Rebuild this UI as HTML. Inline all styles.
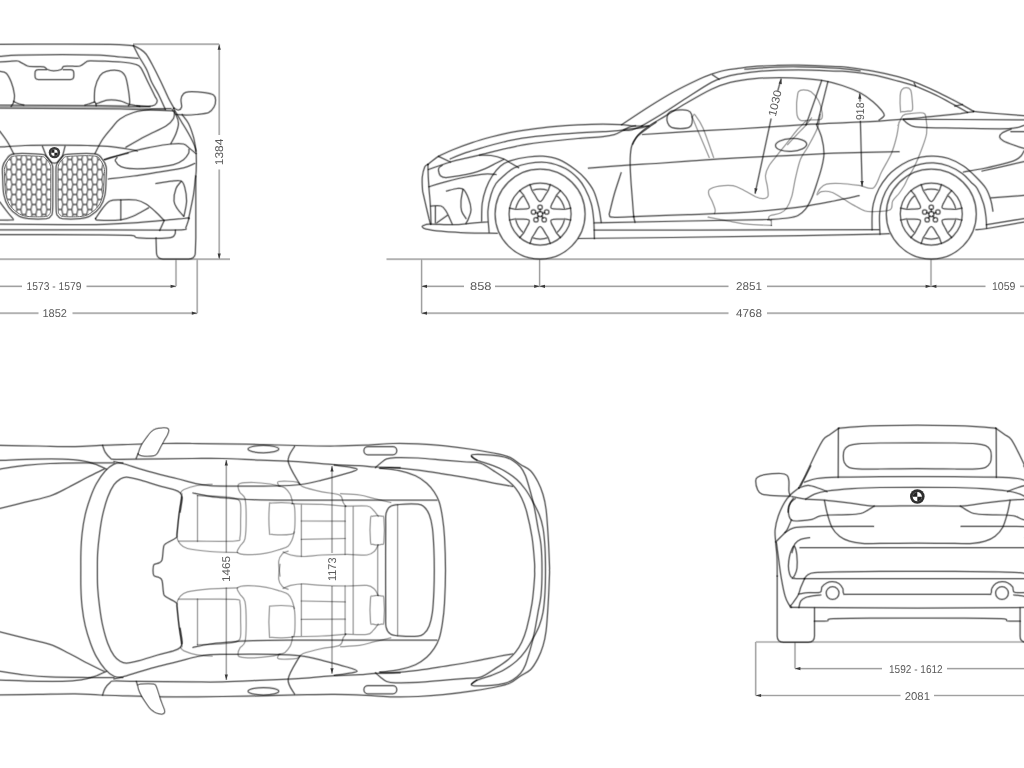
<!DOCTYPE html>
<html><head><meta charset="utf-8"><title>Dimensions</title>
<style>
html,body{margin:0;padding:0;background:#fff;}
body{width:1024px;height:768px;overflow:hidden;}
svg{display:block;will-change:transform;}
.m,.l,.d,.mh,.lh,.dh{fill:none;stroke-linecap:round;stroke-linejoin:round;}
.m{stroke:rgba(0,0,0,.46);stroke-width:1.25;}
.mh{stroke:rgba(0,0,0,.16);stroke-width:2.6;}
.l{stroke:rgba(0,0,0,.27);stroke-width:1.2;}
.lh{stroke:rgba(0,0,0,.09);stroke-width:2.4;}
.d{stroke:rgba(0,0,0,.3);stroke-width:1.2;stroke-linecap:butt;}
.dh{stroke:rgba(0,0,0,.1);stroke-width:2.4;stroke-linecap:butt;}
.a{fill:#3a3a3a;stroke:none;}
text{text-rendering:geometricPrecision;font-family:"Liberation Sans",sans-serif;font-size:11.3px;fill:#5a5a5a;}
</style></head><body>
<svg width="1024" height="768" viewBox="0 0 1024 768">
<g id="soft">
<g><path d="M133 44.2H219.2M219.2 44.2V135M219.2 169.5V259M0 259.2H230M176 259.2V286.3M197.2 259.2V313.2M0 286.3H22M86.5 286.3H176M0 313.2H38.5M72.5 313.2H197.2M386.5 259.2H1024M421.6 259.2V313.2M539.6 259.2V286.3M931 259.2V286.3M421.6 286.3H464M495 286.3H728.5M767 286.3H985.5M1020 286.3H1024M421.6 313.2H728.5M767 313.2H1024M755.7 642H1024M755.7 642V695.5M795 642V668.6M795 668.6H882M947 668.6H1024M755.7 695.5H900.5M934 695.5H1024M226.3 460V552.5M226.3 587.5V680M332 466V553M332 586V673.7" class="dh"/></g>
<g><path d="M0 106.7L120 107.2L165 109.5" class="lh"/><path d="M0.0 44.3C10.0 44.3 41.7 44.2 60.0 44.2C78.3 44.2 97.8 44.2 110.0 44.4C122.2 44.6 129.6 45.4 133.5 45.6" class="mh"/><path d="M133.5 45.7C134.6 46.2 137.9 47.6 140.0 49.0C142.1 50.4 144.0 51.4 146.0 54.0C148.0 56.6 149.7 59.8 152.2 64.5C154.7 69.2 158.3 76.4 161.0 82.0C163.7 87.6 166.3 93.8 168.5 98.2C170.7 102.6 173.1 106.5 174.0 108.2" class="mh"/><path d="M133.8 46.5C134.6 48.0 136.4 51.9 138.5 55.7C140.6 59.5 144.4 65.1 146.6 69.5C148.8 73.9 149.6 77.8 151.6 82.0C153.6 86.2 156.2 89.9 158.5 94.5C160.8 99.1 164.2 107.0 165.4 109.5" class="mh"/><path d="M0.0 56.4C3.1 56.2 8.3 55.4 18.7 55.1C29.1 54.8 49.0 54.5 62.5 54.5C76.0 54.5 90.2 54.7 100.0 55.1C109.8 55.5 114.7 56.5 121.0 57.0C127.3 57.5 135.2 58.1 138.0 58.3" class="mh"/><path d="M0.0 62.0C1.7 61.9 7.1 61.5 10.0 61.3C12.9 61.1 15.6 60.8 17.5 61.0C19.4 61.2 19.5 61.8 21.2 62.6C22.9 63.4 25.2 65.3 27.5 66.0C29.8 66.7 32.3 66.5 35.0 66.6C37.7 66.7 41.6 66.3 43.7 66.8C45.8 67.3 45.8 68.8 47.5 69.5C49.2 70.2 51.4 70.8 53.7 70.8C56.0 70.8 59.5 70.2 61.2 69.5C62.9 68.8 61.9 67.0 63.7 66.4C65.5 65.9 69.3 66.3 72.0 66.2C74.7 66.1 77.6 66.7 80.0 66.0C82.4 65.3 84.5 62.9 86.2 62.0C87.9 61.1 86.9 60.9 90.0 60.8C93.1 60.7 99.8 61.0 105.0 61.2C110.2 61.4 115.8 61.5 121.0 62.0C126.2 62.5 132.7 63.5 136.0 64.5C139.3 65.5 139.0 65.3 141.0 68.2C143.0 71.1 145.6 77.4 147.9 82.0C150.2 86.6 153.1 92.6 154.7 95.7C156.2 98.8 157.2 99.2 157.2 100.7C157.2 102.2 156.1 104.1 154.7 105.0C153.2 105.9 151.4 106.2 148.5 106.3C145.6 106.4 138.9 105.9 137.0 105.8" class="mh"/><path d="M38.5 69.7H46M63.5 69.7H70.3Q73.8 69.7 73.8 73.2V76Q73.8 79.5 70.3 79.5H38.5Q35 79.5 35 76V73.2Q35 69.7 38.5 69.7" class="mh"/><path d="M0.0 71.4C1.0 71.7 4.3 71.4 6.2 73.2C8.1 75.0 9.8 78.5 11.2 82.0C12.6 85.5 14.0 91.2 14.4 94.5C14.8 97.8 14.2 100.0 13.7 102.0C13.2 104.0 11.6 105.7 11.2 106.4" class="mh"/><path d="M13.7 101.4C14.4 101.8 16.3 102.9 18.0 103.5C19.7 104.1 22.8 104.8 23.7 105.1" class="mh"/><path d="M94.4 102.0C94.5 99.7 94.1 92.6 95.0 88.2C95.9 83.8 98.1 78.5 100.0 75.7C101.9 72.9 103.1 72.2 106.2 71.4C109.3 70.6 115.6 70.0 118.7 70.7C121.8 71.4 123.5 73.1 125.0 75.7C126.5 78.3 127.0 82.1 127.8 86.5C128.6 90.9 129.6 98.8 129.7 102.0C129.8 105.2 128.7 105.1 128.5 105.7" class="mh"/><path d="M85.0 105.1C85.8 104.8 88.3 104.1 90.0 103.6C91.7 103.1 94.0 101.8 95.0 102.2C96.0 102.6 96.0 105.1 96.2 105.7" class="mh"/><path d="M96.2 103.9C98.1 103.3 103.5 100.6 107.5 100.1C111.5 99.6 116.5 100.1 120.0 100.8C123.5 101.5 125.2 103.1 128.5 104.0C131.8 104.9 137.8 106.0 139.7 106.4" class="mh"/><path d="M0 105.2L100 105.6L150 106.6" class="mh"/><path d="M0 108.2L120 108.9L173 110.8" class="mh"/><path d="M174.0 108.2C174.8 108.5 177.2 110.2 178.5 110.0C179.8 109.8 181.2 108.8 181.6 107.0C182.0 105.2 180.7 101.7 181.0 99.5C181.3 97.3 182.2 95.1 183.5 93.8C184.8 92.5 185.0 92.0 188.5 91.8C192.0 91.6 200.5 92.1 204.7 92.6C208.9 93.1 211.7 93.8 213.5 95.0C215.3 96.2 215.5 98.0 215.6 100.0C215.7 102.0 215.2 104.9 214.0 107.0C212.8 109.1 211.5 111.3 208.5 112.6C205.5 113.8 199.8 114.1 196.0 114.5C192.2 114.9 189.3 115.0 186.0 115.0C182.7 115.0 177.7 114.6 176.0 114.5" class="mh"/><path d="M171.0 108.6C167.9 108.7 158.4 108.5 152.2 109.2C145.9 109.9 138.9 110.9 133.5 112.5C128.1 114.1 123.5 116.6 120.0 119.0C116.5 121.4 115.4 123.6 112.5 127.0C109.6 130.4 105.4 135.1 102.5 139.5C99.6 143.9 96.2 151.2 95.0 153.5" class="mh"/><path d="M0.0 131.4C1.2 133.2 5.2 138.2 7.5 142.0C9.8 145.8 12.7 151.9 13.7 153.9" class="mh"/><path d="M173.5 108.5C174.8 110.6 178.5 116.8 181.0 121.0C183.5 125.2 186.2 129.3 188.5 133.5C190.8 137.7 193.4 142.7 194.7 146.0C196.0 149.3 195.9 149.3 196.2 153.5C196.4 157.7 196.4 166.6 196.2 171.0C196.0 175.4 195.6 176.1 195.2 180.0C194.8 183.9 194.4 189.1 193.5 194.7C192.6 200.3 190.5 209.5 189.7 213.5C188.9 217.5 188.7 217.7 188.5 218.5" class="mh"/><path d="M182.2 114.7C183.2 116.2 186.6 119.8 188.5 123.5C190.4 127.2 192.2 132.6 193.5 137.2C194.8 141.8 195.6 148.7 196.0 151.0" class="mh"/><path d="M126.0 147.2C129.3 145.3 139.3 139.5 146.0 136.0C152.7 132.5 161.4 128.9 166.0 126.0C170.6 123.1 172.1 121.0 173.5 118.5C174.9 116.0 174.3 112.2 174.5 111.0" class="mh"/><path d="M171.0 143.5C171.8 141.8 174.8 136.8 176.0 133.5C177.2 130.2 178.5 126.6 178.5 123.5C178.5 120.4 177.1 117.0 176.0 114.7C174.9 112.4 172.8 110.5 172.2 109.7" class="mh"/><path d="M0.0 147.0C4.2 146.8 15.9 145.8 25.0 145.5C34.1 145.2 44.0 145.1 54.4 145.1C64.8 145.1 78.1 145.2 87.5 145.5C96.9 145.8 104.4 146.0 111.0 146.6C117.6 147.2 122.8 148.3 127.2 149.0C131.6 149.7 135.5 150.7 137.2 151.0" class="mh"/><path d="M104.7 159.7C109.5 158.2 125.6 153.1 133.5 151.0C141.4 148.9 145.8 148.2 152.0 147.0C158.2 145.8 165.8 144.5 171.0 144.0C176.2 143.5 180.4 143.2 183.5 144.0C186.6 144.8 187.6 146.9 189.7 148.5C191.8 150.1 194.9 152.7 196.0 153.5" class="mh"/><path d="M117.0 157.5C116.7 158.1 114.7 159.5 115.4 161.0C116.1 162.5 118.0 165.3 121.0 166.6C124.0 167.9 128.3 168.5 133.5 168.7C138.7 168.9 145.5 168.6 152.2 167.9C158.9 167.2 168.3 166.1 173.5 164.7C178.7 163.3 181.0 161.6 183.5 159.7C186.0 157.8 187.6 155.2 188.5 153.5C189.4 151.8 188.9 150.2 189.0 149.5" class="mh"/><path d="M108.5 179.0C112.7 178.5 125.2 177.1 133.5 176.0C141.8 174.9 150.2 173.5 158.5 172.2C166.8 170.8 177.5 169.3 183.5 167.9C189.5 166.5 192.8 164.2 194.7 163.5" class="mh"/><path d="M156.0 183.5C158.5 183.1 166.8 181.6 171.0 181.2C175.2 180.8 178.7 180.0 181.0 181.0C183.3 182.0 183.8 183.9 184.7 187.2C185.6 190.5 186.7 196.2 186.6 201.0C186.5 205.8 184.4 213.5 184.0 216.0" class="mh"/><path d="M181.0 181.6C180.2 182.8 177.2 185.3 176.0 188.5C174.8 191.7 173.8 197.7 174.0 201.0C174.2 204.3 175.6 206.0 177.2 208.5C178.8 211.0 182.4 214.8 183.5 216.0" class="mh"/><path d="M95.6 218.5C96.8 216.8 100.1 211.4 102.5 208.5C104.9 205.6 106.9 202.4 110.0 201.0C113.1 199.6 116.7 200.0 121.0 199.8C125.3 199.6 131.8 199.3 136.0 200.0C140.2 200.7 142.7 202.0 146.0 204.0C149.3 206.0 153.0 209.5 156.0 212.2C159.0 214.9 162.7 219.0 164.0 220.4" class="mh"/><path d="M95.6 218.5C96.1 218.8 94.5 220.0 98.7 220.2C102.9 220.4 115.2 220.5 121.0 219.8C126.8 219.1 128.9 218.0 133.5 216.0C138.1 214.0 146.0 209.2 148.5 207.9" class="mh"/><path d="M120.8 200.2V219.6" class="mh"/><path d="M0.0 202.2C1.2 203.9 5.3 209.4 7.5 212.2C9.7 215.0 12.5 217.7 13.1 219.0C13.7 220.3 13.2 219.8 11.0 220.0C8.8 220.2 1.8 220.0 0.0 220.0" class="mh"/><path d="M0.0 224.2C10.0 224.3 44.0 224.5 60.0 224.6C76.0 224.7 83.8 224.9 96.0 224.6C108.2 224.3 122.2 223.6 133.5 222.9C144.8 222.2 155.2 221.1 163.5 220.4C171.8 219.7 179.2 218.9 183.5 218.5C187.8 218.1 188.1 218.0 189.0 217.9" class="mh"/><path d="M0.0 229.9C16.0 229.9 69.6 229.9 96.0 229.9C122.4 229.9 143.9 230.0 158.5 230.0C173.1 230.0 178.9 230.2 183.5 229.7C188.1 229.2 185.1 229.1 186.0 227.2C186.9 225.3 188.5 219.9 189.0 218.5" class="mh"/><path d="M164 221L159.7 230.4" class="mh"/><path d="M0.0 234.6C16.0 234.6 74.2 234.7 96.0 234.8C117.8 234.9 123.9 234.9 131.0 235.4C138.1 235.9 132.2 237.5 138.5 237.9C144.8 238.3 162.5 238.4 168.5 237.9C174.5 237.4 173.5 235.9 174.7 234.7C175.8 233.4 175.3 231.1 175.4 230.4" class="mh"/><path d="M156 238L156.5 253Q157 259 163 259H188.5Q195 259 195.3 253L195.8 238V176" class="mh"/><path d="M106.2 167.0C106.8 169.8 106.4 171.4 106.2 176.0C106.0 180.6 106.0 189.5 105.0 194.7C104.0 199.9 102.5 203.6 100.0 207.2C97.5 210.8 93.3 214.1 90.0 216.0C86.7 217.9 84.6 218.2 80.0 218.7C75.4 219.1 66.2 219.1 62.5 218.7C58.8 218.2 59.0 217.5 58.0 216.0C57.0 214.5 56.5 216.4 56.2 209.7C55.9 203.0 56.0 183.3 56.0 176.0C56.0 168.7 55.8 168.6 56.2 166.0C56.7 163.4 57.7 162.1 58.7 160.5C59.8 158.9 61.0 157.5 62.5 156.5C64.0 155.5 62.1 154.7 67.5 154.3C72.9 153.9 89.2 153.0 95.0 153.9C100.8 154.8 100.6 157.3 102.5 159.5C104.4 161.7 105.6 164.2 106.2 167.0Z" class="mh"/><path d="M2.6 167.0C2.0 169.8 2.4 171.4 2.6 176.0C2.8 180.6 2.8 189.5 3.8 194.7C4.8 199.9 6.3 203.6 8.8 207.2C11.3 210.8 15.5 214.1 18.8 216.0C22.1 217.9 24.2 218.2 28.8 218.7C33.4 219.1 42.6 219.1 46.3 218.7C50.0 218.2 49.8 217.5 50.8 216.0C51.8 214.5 52.3 216.4 52.6 209.7C52.9 203.0 52.8 183.3 52.8 176.0C52.8 168.7 53.0 168.6 52.6 166.0C52.1 163.4 51.1 162.1 50.1 160.5C49.0 158.9 47.8 157.5 46.3 156.5C44.8 155.5 46.7 154.7 41.3 154.3C35.9 153.9 19.6 153.0 13.8 153.9C8.0 154.8 8.2 157.3 6.3 159.5C4.4 161.7 3.2 164.2 2.6 167.0Z" class="mh"/><path d="M42.5 146.4C43.1 147.9 45.0 153.2 46.2 155.7C47.5 158.2 48.6 160.2 50.0 161.4C51.4 162.7 52.9 163.2 54.4 163.2C55.9 163.2 57.4 162.7 58.7 161.4C60.1 160.2 61.5 158.2 62.5 155.7C63.5 153.2 64.6 147.9 65.0 146.4" class="mh"/><path d="M104.4 159.5C106.3 158.9 112.1 157.2 116.0 156.2C119.9 155.1 126.0 153.7 128.0 153.2" class="mh"/></g>
<g><ellipse cx="791.1" cy="144.9" rx="15.6" ry="6.4" transform="rotate(-3 791.1 144.9)" class="mh"/><path d="M692.6 116.5C692.8 116.3 693.0 115.4 693.5 115.2C694.0 115.0 693.7 113.2 695.3 115.3C696.9 117.4 700.0 121.0 703.0 128.0C706.0 135.0 711.8 152.5 713.6 157.4" class="lh"/><path d="M692.1 117.0C692.9 118.8 693.9 121.3 696.7 128.0C699.6 134.7 707.1 152.5 709.2 157.4" class="lh"/><path d="M797.2 98.0C797.5 95.9 797.5 93.0 798.5 91.7C799.5 90.4 801.4 89.9 803.5 89.9C805.6 89.9 808.5 89.9 811.0 91.7C813.5 93.5 816.6 97.0 818.5 100.5C820.4 104.0 821.8 109.9 822.2 113.0C822.6 116.1 822.9 118.0 821.0 119.2C819.1 120.4 814.3 119.7 811.0 119.9C807.7 120.1 803.3 121.2 801.0 120.5C798.7 119.8 797.9 118.2 797.2 115.5C796.5 112.8 796.6 107.1 796.6 104.2C796.6 101.3 796.9 100.1 797.2 98.0Z" class="lh"/><path d="M714.5 213.5C714.6 212.9 715.5 211.8 715.1 209.7C714.7 207.6 713.0 203.5 712.0 201.0C711.0 198.5 709.3 196.6 708.9 194.7C708.5 192.8 707.8 190.9 709.5 189.5C711.2 188.1 715.3 186.7 719.2 186.1C723.1 185.5 728.8 185.0 733.0 185.7C737.2 186.4 740.5 188.7 744.2 190.5C748.0 192.3 752.4 195.3 755.5 196.7C758.6 198.0 760.9 198.7 763.0 198.6C765.1 198.5 767.3 198.1 768.0 196.1C768.7 194.1 767.8 190.1 767.4 186.7C767.0 183.3 765.2 179.0 765.5 175.5C765.8 172.0 767.1 169.1 769.2 165.5C771.3 161.9 774.9 158.2 778.0 154.2C781.1 150.2 784.9 145.6 788.0 141.7C791.1 137.8 793.7 133.9 796.7 130.5C799.7 127.0 804.5 122.6 806.0 121.0" class="lh"/><path d="M820.2 114.5C819.8 116.8 819.5 122.6 817.5 128.0C815.5 133.4 810.8 141.5 808.0 146.7C805.2 151.9 802.6 154.0 800.5 159.2C798.4 164.4 797.0 171.8 795.5 178.0C794.0 184.2 793.2 191.7 791.7 196.7C790.2 201.7 788.6 205.3 786.7 208.0C784.8 210.7 783.2 211.8 780.5 213.0C777.8 214.2 772.5 214.7 770.5 215.5C768.5 216.3 768.6 217.2 768.6 218.0C768.6 218.8 770.2 220.1 770.5 220.5" class="lh"/><path d="M811.5 118.0C810.5 119.3 807.7 123.2 805.2 126.0C802.7 128.8 799.4 131.9 796.5 135.0C793.6 138.1 789.2 142.9 787.7 144.5" class="lh"/><path d="M708.2 217.2C711.5 217.8 721.7 219.8 728.2 221.0C734.7 222.2 739.8 223.4 747.0 224.1C754.2 224.8 767.3 225.2 771.4 225.4" class="lh"/><path d="M771.4 225.4V219.7" class="lh"/><path d="M899.0 122.0C898.6 124.5 897.8 131.8 896.5 137.0C895.2 142.2 894.0 147.4 891.5 153.2C889.0 159.0 884.5 166.2 881.5 172.0C878.5 177.8 877.1 185.7 873.4 187.9C869.6 190.1 864.5 186.1 859.0 185.4C853.5 184.7 845.6 183.7 840.2 183.5C834.8 183.3 829.8 183.3 826.5 184.1C823.2 184.9 821.8 186.7 820.2 188.5C818.6 190.3 816.9 194.2 817.1 194.7C817.3 195.2 819.1 192.0 821.5 191.6C823.9 191.2 828.0 191.0 831.5 192.2C835.0 193.3 839.0 196.3 842.7 198.5C846.5 200.7 850.2 203.3 854.0 205.4C857.8 207.5 861.9 210.0 865.2 211.0C868.5 212.0 869.8 211.8 874.0 211.6C878.2 211.4 887.1 211.5 890.2 209.7C893.3 207.9 891.2 203.7 892.7 201.0C894.2 198.3 897.1 196.0 899.0 193.5C900.9 191.0 902.5 188.5 904.0 186.0C905.5 183.5 905.9 181.8 907.7 178.5C909.5 175.2 912.5 170.6 914.7 166.0C916.9 161.4 919.0 156.4 921.0 151.0C923.0 145.6 925.8 139.0 926.6 133.5C927.4 128.0 926.6 121.4 926.0 118.0C925.4 114.6 925.6 113.7 923.0 113.0C920.4 112.3 913.8 113.2 910.5 113.6C907.2 114.0 905.1 113.5 903.0 115.5C900.9 117.5 898.8 123.8 898.0 125.5" class="lh"/><path d="M900.5 110.5C900.2 107.8 900.0 98.9 900.2 95.5C900.4 92.1 900.7 91.2 901.7 89.9C902.7 88.6 904.6 87.7 906.1 87.7C907.6 87.7 909.5 88.2 910.5 89.9C911.5 91.6 911.7 94.7 912.0 98.0C912.3 101.3 913.1 107.7 912.4 109.9C911.7 112.1 909.8 110.8 908.0 111.1C906.2 111.4 903.0 111.8 901.7 111.7C900.5 111.6 900.8 113.2 900.5 110.5Z" class="lh"/><path d="M427.9 164.5C429.7 163.2 434.2 158.9 438.5 156.4C442.8 153.9 447.9 151.8 453.5 149.5C459.1 147.2 465.9 144.7 472.2 142.6C478.4 140.5 484.8 138.7 491.0 137.0C497.2 135.3 503.4 133.8 509.7 132.6C516.0 131.4 521.3 130.6 528.5 129.6C535.7 128.6 544.8 127.4 553.0 126.6C561.2 125.8 569.7 125.2 578.0 124.8C586.3 124.4 595.7 124.1 603.0 124.1C610.3 124.1 616.5 124.4 621.7 124.7C626.9 125.0 629.7 125.8 634.2 126.0C638.8 126.2 646.5 126.0 649.0 126.0" class="mh"/><path d="M427.9 164.5C427.4 164.9 425.6 164.9 424.7 167.0C423.8 169.1 422.7 173.2 422.3 177.0C421.9 180.8 422.3 186.5 422.5 189.5C422.7 192.5 422.8 191.8 423.5 195.0C424.2 198.2 425.7 204.5 426.6 208.5C427.5 212.5 428.5 216.4 429.1 219.0C429.8 221.6 430.3 223.2 430.5 224.0" class="mh"/><path d="M427.9 164.5C428.0 166.6 428.1 172.8 428.3 177.0C428.5 181.2 428.8 185.2 429.1 190.0C429.5 194.8 430.1 200.3 430.4 206.0C430.7 211.7 430.9 221.0 431.0 224.0" class="mh"/><path d="M450.4 158.9C453.0 157.8 460.3 154.6 466.0 152.6C471.7 150.6 478.4 148.8 484.7 147.0C490.9 145.2 497.2 143.5 503.5 142.0C509.8 140.5 514.0 139.4 522.2 138.2C530.5 137.0 543.7 135.6 553.0 134.7C562.3 133.8 569.7 133.4 578.0 132.9C586.3 132.4 596.3 132.0 603.0 131.6C609.7 131.2 613.8 131.1 618.0 130.7C622.2 130.3 624.2 129.6 628.0 129.1C631.8 128.6 637.2 128.4 640.5 127.9C643.8 127.4 646.8 126.3 648.0 126.0" class="mh"/><path d="M438.5 156.4L450.4 162" class="mh"/><path d="M428.5 169.5C432.1 168.2 444.1 163.9 450.4 162.0C456.6 160.1 461.1 159.3 466.0 158.2C470.9 157.0 474.5 156.3 479.7 155.1C484.9 153.8 491.1 152.1 497.2 150.7C503.2 149.2 510.9 147.5 516.0 146.4C521.1 145.3 521.8 145.0 528.0 144.1C534.2 143.2 544.7 141.9 553.0 141.0C561.3 140.1 569.7 139.2 578.0 138.5C586.3 137.8 597.0 137.2 603.0 136.6C609.0 136.0 610.9 135.7 614.2 134.7C617.5 133.7 620.5 131.7 623.0 130.4C625.5 129.2 627.1 128.0 629.2 127.2C631.3 126.4 634.5 126.0 635.5 125.8" class="mh"/><path d="M442.0 165.5C441.5 165.8 439.8 166.6 439.2 167.5C438.6 168.4 438.3 169.3 438.5 170.7C438.7 172.1 439.1 174.5 440.4 175.7C441.6 176.8 442.8 177.6 446.0 177.6C449.2 177.6 455.3 176.4 459.7 175.7C464.1 175.0 468.0 174.3 472.2 173.2C476.4 172.1 480.7 170.6 484.7 168.9C488.7 167.2 492.9 164.8 496.0 163.2C499.1 161.6 502.2 160.1 503.5 159.5" class="mh"/><path d="M479.7 155.1C481.6 155.2 487.0 154.9 491.0 155.5C495.0 156.1 500.2 157.6 503.5 158.9C506.8 160.2 508.5 161.8 511.0 163.2C513.5 164.6 517.2 166.9 518.5 167.6" class="mh"/><path d="M429.1 186.7C432.1 185.8 441.1 183.0 447.2 181.4C453.3 179.8 459.8 178.2 466.0 177.0C472.2 175.8 479.7 174.5 484.7 174.1C489.7 173.7 494.1 174.4 496.0 174.5" class="mh"/><path d="M446.6 191.0C448.4 190.6 454.4 188.8 457.2 188.5C460.0 188.2 461.6 187.8 463.5 189.5C465.4 191.2 467.2 195.1 468.5 198.5C469.8 201.9 471.0 206.4 471.0 209.7C471.0 213.0 469.3 216.2 468.5 218.5C467.7 220.8 466.4 222.7 466.0 223.5" class="mh"/><path d="M462.9 189.7C462.6 191.6 461.2 197.4 461.0 201.0C460.8 204.6 460.8 208.1 461.6 211.0C462.4 213.9 465.3 217.2 466.0 218.5" class="mh"/><path d="M431.0 206.0C432.7 206.0 438.5 205.2 441.0 206.0C443.5 206.8 444.6 208.9 446.0 211.0C447.4 213.1 448.7 216.3 449.7 218.5C450.7 220.7 451.8 223.1 452.2 224.0" class="mh"/><path d="M435.4 206.6V222.9M436.6 222.9L447.2 215.4" class="mh"/><path d="M487.2 222.0C484.7 222.2 477.8 222.8 472.2 223.2C466.6 223.6 460.6 224.5 453.5 224.7C446.4 224.8 434.6 224.0 429.7 224.1C424.8 224.2 425.2 224.9 424.0 225.3C422.8 225.8 422.0 226.2 422.3 226.8C422.6 227.4 422.9 228.4 426.0 229.1C429.1 229.8 434.3 230.6 441.0 231.2C447.7 231.8 456.6 232.6 466.0 232.9C475.4 233.2 492.0 233.2 497.2 233.3" class="mh"/><path d="M481.6 221.0C481.7 218.1 481.5 208.9 482.2 203.5C482.9 198.1 484.3 193.1 486.0 188.5C487.7 183.9 489.8 179.7 492.2 176.0C494.6 172.3 497.2 168.8 500.3 166.2C503.4 163.6 506.4 162.1 511.0 160.6C515.6 159.1 522.7 157.7 528.0 157.0C533.3 156.3 537.8 155.8 543.0 156.2C548.2 156.6 553.8 157.4 559.2 159.7C564.6 161.9 571.1 166.5 575.5 169.7C579.9 172.9 582.5 175.4 585.5 179.0C588.5 182.6 591.5 186.3 593.7 191.0C595.9 195.7 597.5 202.0 598.7 207.2C600.0 212.4 600.8 219.7 601.2 222.2" class="mh"/><path d="M489.1 232.2C488.9 228.7 487.6 217.2 487.9 211.0C488.2 204.8 489.6 199.3 491.0 194.7C492.4 190.1 493.9 186.6 496.0 183.5C498.1 180.4 500.5 178.6 503.5 176.0C506.5 173.4 509.9 170.1 514.0 168.0C518.1 165.9 522.5 164.4 528.0 163.5C533.5 162.6 540.5 161.7 546.7 162.5C553.0 163.3 560.3 165.8 565.5 168.5C570.7 171.2 574.8 175.2 578.0 178.5C581.2 181.8 582.8 184.3 585.0 188.5C587.2 192.7 589.8 198.3 591.2 203.5C592.7 208.7 593.2 213.9 593.7 219.7C594.2 225.5 594.3 235.4 594.4 238.5" class="mh"/><path d="M594.4 222.9L688 221L768 219.5" class="mh"/><path d="M594.4 230L700 230L879 229.7" class="mh"/><path d="M578.7 238.5L672 237.5L800 235.7L879 234.1L889 233.7" class="mh"/><path d="M621.1 172.9C620.1 176.1 616.8 185.7 614.9 192.0C613.0 198.3 610.9 207.2 610.0 211.0C609.1 214.8 609.0 213.7 609.4 214.7C609.8 215.7 608.5 216.9 612.5 217.2C616.5 217.5 630.2 216.7 633.7 216.6" class="mh"/><path d="M633.7 216.6C642.8 216.3 671.2 215.2 688.0 214.6C704.8 214.0 719.9 213.7 734.5 212.9C749.1 212.1 764.1 210.8 775.5 209.7C786.9 208.6 793.0 208.0 802.7 206.6C812.5 205.2 824.6 202.8 834.0 201.0C843.4 199.2 854.8 196.6 859.0 195.7" class="mh"/><path d="M656.0 122.2C654.2 123.5 648.7 127.2 645.5 129.7C642.3 132.2 639.0 134.5 636.7 137.2C634.4 139.9 632.8 142.4 631.7 146.0C630.6 149.6 630.4 153.3 630.2 158.5C630.0 163.7 630.3 170.1 630.7 177.2C631.1 184.3 632.0 194.5 632.5 201.0C633.0 207.5 633.3 212.5 633.7 216.0C634.1 219.5 634.8 221.2 635.0 222.2" class="mh"/><path d="M588.6 168.1C595.2 167.6 616.8 165.9 628.0 165.1C639.2 164.3 646.0 164.2 656.0 163.5C666.0 162.8 676.4 161.9 688.0 161.1C699.6 160.3 713.0 159.3 725.5 158.6C738.0 157.9 747.9 157.4 763.0 156.7C778.1 156.0 804.2 154.8 816.0 154.2C827.8 153.6 820.2 153.6 834.0 153.2C847.8 152.8 888.2 151.9 899.0 151.7" class="mh"/><path d="M621.7 124.7C626.2 121.7 640.3 112.2 649.0 106.7C657.7 101.2 665.7 96.3 674.0 91.7C682.3 87.1 692.8 82.1 699.0 79.2C705.2 76.3 707.3 75.7 711.5 74.2C715.7 72.8 719.8 71.4 724.0 70.5C728.2 69.6 731.8 69.2 736.5 68.6C741.2 68.0 745.6 67.2 752.0 66.7C758.4 66.2 767.2 65.8 775.0 65.5C782.8 65.2 788.3 64.9 798.5 65.1C808.7 65.3 827.8 66.1 836.0 66.5C844.2 66.9 841.8 66.6 848.0 67.4C854.2 68.2 864.7 69.5 873.0 71.1C881.3 72.6 890.9 74.8 898.0 76.7C905.1 78.6 909.2 80.0 915.5 82.4C921.8 84.8 929.0 88.1 935.5 91.1C942.0 94.1 949.0 97.8 954.2 100.5C959.4 103.2 963.5 105.6 966.7 107.4C969.9 109.2 972.4 110.7 973.5 111.4" class="mh"/><path d="M745.0 69.2C750.0 68.9 766.1 67.6 775.0 67.2C783.9 66.8 788.3 66.6 798.5 66.8C808.7 67.0 825.8 67.5 836.0 68.2C846.2 68.9 856.0 70.4 860.0 70.8" class="mh"/><path d="M641.7 126.0C645.0 124.0 654.0 118.9 661.5 114.2C669.0 109.5 678.2 103.3 686.5 98.0C694.8 92.7 705.2 85.8 711.5 82.4C717.8 79.0 719.8 78.7 724.0 77.4C728.2 76.1 730.3 75.5 736.5 74.4C742.7 73.4 750.7 71.8 761.0 71.1C771.3 70.3 786.0 69.9 798.5 69.9C811.0 69.9 827.8 70.8 836.0 71.1C844.2 71.4 841.8 71.0 848.0 71.6C854.2 72.2 864.7 73.3 873.0 74.9C881.3 76.5 890.9 79.2 898.0 81.1C905.1 83.0 909.2 83.8 915.5 86.1C921.8 88.4 929.0 91.8 935.5 94.9C942.0 98.0 948.9 102.0 954.2 104.9C959.5 107.8 965.3 111.2 967.5 112.4" class="mh"/><path d="M712.7 74.9L719 79.2M914.2 83L915.5 86.1M954.9 106.1L962.4 104.5" class="mh"/><path d="M632.7 144.0C633.5 142.6 635.0 138.5 637.7 135.5C640.4 132.5 644.4 129.3 649.0 126.1C653.6 122.9 659.0 119.9 665.2 116.1C671.5 112.2 678.8 107.5 686.5 103.0C694.2 98.5 704.2 92.6 711.5 89.2C718.8 85.8 723.0 84.2 730.2 82.4C737.4 80.6 746.5 79.4 754.7 78.6C763.0 77.8 771.4 77.7 779.7 77.7C788.0 77.7 797.4 78.1 804.7 78.6C812.0 79.1 817.2 79.5 823.5 80.7C829.8 81.9 836.0 83.5 842.2 85.5C848.4 87.5 855.4 90.3 860.5 93.0C865.6 95.7 869.5 98.8 873.0 101.7C876.5 104.6 879.8 108.2 881.7 110.5C883.6 112.8 884.6 113.9 884.2 115.5C883.8 117.1 880.0 119.2 879.2 120.0" class="mh"/><path d="M624.0 130.5C625.2 130.4 628.4 130.6 631.5 129.9C634.6 129.2 640.8 126.7 642.7 126.1" class="mh"/><path d="M667.1 116.7C667.5 114.8 668.0 112.8 670.2 111.7C672.4 110.6 677.3 110.1 680.2 109.9C683.1 109.7 685.8 109.8 687.7 110.5C689.6 111.2 690.8 112.1 691.5 114.2C692.2 116.3 692.5 120.8 692.1 123.0C691.7 125.2 691.0 126.5 689.0 127.4C687.0 128.3 683.1 128.6 680.2 128.6C677.3 128.6 673.6 128.3 671.5 127.4C669.4 126.5 668.4 124.8 667.7 123.0C667.0 121.2 666.7 118.6 667.1 116.7Z" class="mh"/><path d="M642.7 134.5C650.0 134.0 671.0 132.6 686.5 131.7C702.0 130.8 721.5 129.8 736.0 129.0C750.5 128.2 761.0 127.5 773.5 126.7C786.0 125.9 798.8 124.9 811.0 124.2C823.2 123.5 835.1 123.1 846.5 122.6C857.9 122.1 869.6 121.7 879.2 121.1C888.8 120.5 894.8 120.0 904.2 119.2C913.6 118.4 926.1 117.0 935.5 116.1C944.9 115.2 954.2 114.3 960.5 113.6C966.8 112.8 971.3 111.9 973.5 111.6" class="mh"/><path d="M821.6 80.7L806 124.9M827.9 81.7L817.2 124.2" class="mh"/><path d="M816.5 124.5C817.3 126.6 820.2 132.2 821.5 137.0C822.8 141.8 824.0 148.0 824.0 153.2C824.0 158.4 822.8 163.0 821.5 168.2C820.2 173.4 818.1 179.5 816.5 184.5C814.9 189.5 813.5 193.9 811.7 198.0C809.9 202.1 807.8 206.3 805.5 209.2C803.2 212.1 800.9 214.0 798.0 215.5C795.1 217.0 793.0 217.3 788.0 218.0C783.0 218.7 771.3 219.4 768.0 219.7" class="mh"/><path d="M973.5 111.3C977.2 111.7 987.6 112.8 996.0 113.5C1004.4 114.2 1019.3 115.3 1024.0 115.7" class="mh"/><path d="M903.5 119.3L958.5 119.5L1024 119.8" class="mh"/><path d="M903.5 119.7C904.3 120.4 906.0 122.8 908.5 124.1C911.0 125.3 910.2 126.5 918.5 127.2C926.8 127.9 943.5 127.9 958.5 128.2C973.5 128.4 997.6 129.2 1008.5 128.7C1019.4 128.2 1021.4 126.0 1024.0 125.4" class="mh"/><path d="M1011.0 129.1C1009.5 129.7 1004.1 131.6 1002.2 132.9C1000.3 134.2 999.5 135.8 999.7 137.2C999.9 138.5 1001.0 139.6 1003.5 141.0C1006.0 142.4 1011.3 144.2 1014.7 145.4C1018.1 146.7 1022.5 148.0 1024.0 148.5" class="mh"/><path d="M1011 131.6H1024" class="mh"/><path d="M963.5 172.0C966.8 171.4 977.0 169.8 983.5 168.5C990.0 167.2 997.0 165.4 1002.2 164.1C1007.4 162.8 1011.6 161.8 1014.7 160.4C1017.8 159.1 1019.5 157.6 1021.0 156.0C1022.5 154.4 1023.5 151.8 1024.0 151.0" class="mh"/><path d="M982.2 171.0C985.5 170.3 995.2 168.2 1002.2 166.6C1009.2 165.0 1020.4 162.4 1024.0 161.6" class="mh"/><path d="M872.1 229.7C872.1 227.4 871.9 220.4 872.1 216.0C872.3 211.6 872.2 208.1 873.4 203.5C874.5 198.9 876.6 193.1 879.0 188.5C881.4 183.9 884.9 179.3 887.7 176.0C890.5 172.7 892.5 171.0 896.0 168.5C899.5 166.0 904.3 162.9 908.5 161.0C912.7 159.1 916.8 158.0 921.0 157.2C925.2 156.4 928.9 156.0 933.5 156.2C938.1 156.4 943.5 156.9 948.5 158.5C953.5 160.1 958.9 162.9 963.5 166.0C968.1 169.1 972.2 173.2 976.0 177.0C979.8 180.8 983.5 184.5 986.0 188.5C988.5 192.5 989.9 197.2 991.0 201.0C992.1 204.8 992.6 209.3 992.9 211.0" class="mh"/><path d="M880.0 234.1C879.9 230.7 879.1 219.4 879.6 213.5C880.1 207.6 881.1 203.1 882.7 198.5C884.3 193.9 886.3 189.8 889.0 186.0C891.7 182.2 895.8 178.4 899.0 175.5C902.2 172.6 904.8 170.4 908.5 168.5C912.2 166.6 916.8 165.0 921.0 164.1C925.2 163.2 928.9 162.6 933.5 162.9C938.1 163.2 943.7 164.2 948.5 166.0C953.3 167.8 958.5 170.8 962.2 173.5C966.0 176.2 968.5 179.7 971.0 182.2C973.5 184.7 975.1 184.9 977.2 188.5C979.3 192.1 982.0 198.7 983.5 203.5C985.0 208.3 985.5 213.1 986.0 217.2C986.5 221.3 986.5 226.1 986.6 227.9" class="mh"/><path d="M991 197.9L1024 195.4M986.6 224.7L1024 218.5" class="mh"/><path d="M976.0 229.7C977.9 229.5 979.2 229.8 987.2 228.5C995.2 227.2 1017.9 223.1 1024.0 222.0" class="mh"/><circle cx="540.1" cy="214.1" r="45" class="mh"/><circle cx="540.1" cy="214.1" r="31" class="mh"/><path d="M550.2 184.8L548.2 190.5L548.2 190.5C547.8 191.2 546.4 193.3 545.4 194.8C544.5 196.4 543.3 198.7 542.4 199.8C541.5 200.9 540.9 201.5 540.1 201.5C539.3 201.5 538.7 200.9 537.8 199.8C536.9 198.7 535.7 196.4 534.8 194.8C533.8 193.3 532.4 191.2 532.0 190.5L530.0 184.8M548.2 190.5A25 25 0 0 0 532.0 190.5M519.8 190.7L523.7 195.2L523.7 195.2C524.1 196.0 525.2 198.2 526.1 199.8C526.9 201.5 528.3 203.6 528.8 205.0C529.3 206.3 529.6 207.1 529.2 207.8C528.8 208.5 528.0 208.7 526.6 208.9C525.2 209.1 522.6 209.0 520.7 209.1C518.9 209.2 516.4 209.3 515.6 209.3L509.7 208.2M523.7 195.2A25 25 0 0 0 515.6 209.3M509.7 220.0L515.6 218.9L515.6 218.9C516.4 218.9 518.9 219.0 520.7 219.1C522.6 219.2 525.2 219.1 526.6 219.3C528.0 219.5 528.8 219.7 529.2 220.4C529.6 221.1 529.3 221.9 528.8 223.2C528.3 224.6 526.9 226.7 526.1 228.4C525.2 230.0 524.1 232.2 523.7 233.0L519.8 237.5M515.6 218.9A25 25 0 0 0 523.7 233.0M530.0 243.4L532.0 237.7L532.0 237.7C532.4 237.0 533.8 234.9 534.8 233.4C535.7 231.8 536.9 229.5 537.8 228.4C538.7 227.3 539.3 226.7 540.1 226.7C540.9 226.7 541.5 227.3 542.4 228.4C543.3 229.5 544.5 231.8 545.4 233.4C546.4 234.9 547.8 237.0 548.2 237.7L550.2 243.4M532.0 237.7A25 25 0 0 0 548.2 237.7M560.4 237.5L556.5 233.0L556.5 233.0C556.1 232.2 555.0 230.0 554.1 228.4C553.3 226.7 551.9 224.6 551.4 223.2C550.9 221.9 550.6 221.1 551.0 220.4C551.4 219.7 552.2 219.5 553.6 219.3C555.0 219.1 557.6 219.2 559.5 219.1C561.3 219.0 563.8 218.9 564.6 218.9L570.5 220.0M556.5 233.0A25 25 0 0 0 564.6 218.9M570.5 208.2L564.6 209.3L564.6 209.3C563.8 209.3 561.3 209.2 559.5 209.1C557.6 209.0 555.0 209.1 553.6 208.9C552.2 208.7 551.4 208.5 551.0 207.8C550.6 207.1 550.9 206.3 551.4 205.0C551.9 203.6 553.3 201.5 554.1 199.8C555.0 198.2 556.1 196.0 556.5 195.2L560.4 190.7M564.6 209.3A25 25 0 0 0 556.5 195.2" class="mh"/><circle cx="540.1" cy="214.1" r="2.6" class="mh"/><circle cx="540.1" cy="207.2" r="2.2" class="mh"/><path d="M540.1 211.5L540.1 209.4" class="mh"/><circle cx="533.5" cy="212.0" r="2.2" class="mh"/><path d="M537.6 213.3L535.6 212.6" class="mh"/><circle cx="536.0" cy="219.7" r="2.2" class="mh"/><path d="M538.6 216.2L537.3 217.9" class="mh"/><circle cx="544.2" cy="219.7" r="2.2" class="mh"/><path d="M541.6 216.2L542.9 217.9" class="mh"/><circle cx="546.7" cy="212.0" r="2.2" class="mh"/><path d="M542.6 213.3L544.6 212.6" class="mh"/><circle cx="931.3" cy="214.1" r="45" class="mh"/><circle cx="931.3" cy="214.1" r="31" class="mh"/><path d="M941.4 184.8L939.4 190.5L939.4 190.5C939.0 191.2 937.6 193.3 936.6 194.8C935.7 196.4 934.5 198.7 933.6 199.8C932.7 200.9 932.1 201.5 931.3 201.5C930.5 201.5 929.9 200.9 929.0 199.8C928.1 198.7 926.9 196.4 926.0 194.8C925.0 193.3 923.6 191.2 923.2 190.5L921.2 184.8M939.4 190.5A25 25 0 0 0 923.2 190.5M911.0 190.7L914.9 195.2L914.9 195.2C915.3 196.0 916.4 198.2 917.3 199.8C918.1 201.5 919.5 203.6 920.0 205.0C920.5 206.3 920.8 207.1 920.4 207.8C920.0 208.5 919.2 208.7 917.8 208.9C916.4 209.1 913.8 209.0 911.9 209.1C910.1 209.2 907.6 209.3 906.8 209.3L900.9 208.2M914.9 195.2A25 25 0 0 0 906.8 209.3M900.9 220.0L906.8 218.9L906.8 218.9C907.6 218.9 910.1 219.0 911.9 219.1C913.8 219.2 916.4 219.1 917.8 219.3C919.2 219.5 920.0 219.7 920.4 220.4C920.8 221.1 920.5 221.9 920.0 223.2C919.5 224.6 918.1 226.7 917.3 228.4C916.4 230.0 915.3 232.2 914.9 233.0L911.0 237.5M906.8 218.9A25 25 0 0 0 914.9 233.0M921.2 243.4L923.2 237.7L923.2 237.7C923.6 237.0 925.0 234.9 926.0 233.4C926.9 231.8 928.1 229.5 929.0 228.4C929.9 227.3 930.5 226.7 931.3 226.7C932.1 226.7 932.7 227.3 933.6 228.4C934.5 229.5 935.7 231.8 936.6 233.4C937.6 234.9 939.0 237.0 939.4 237.7L941.4 243.4M923.2 237.7A25 25 0 0 0 939.4 237.7M951.6 237.5L947.7 233.0L947.7 233.0C947.3 232.2 946.2 230.0 945.3 228.4C944.5 226.7 943.1 224.6 942.6 223.2C942.1 221.9 941.8 221.1 942.2 220.4C942.6 219.7 943.4 219.5 944.8 219.3C946.2 219.1 948.8 219.2 950.7 219.1C952.5 219.0 955.0 218.9 955.8 218.9L961.7 220.0M947.7 233.0A25 25 0 0 0 955.8 218.9M961.7 208.2L955.8 209.3L955.8 209.3C955.0 209.3 952.5 209.2 950.7 209.1C948.8 209.0 946.2 209.1 944.8 208.9C943.4 208.7 942.6 208.5 942.2 207.8C941.8 207.1 942.1 206.3 942.6 205.0C943.1 203.6 944.5 201.5 945.3 199.8C946.2 198.2 947.3 196.0 947.7 195.2L951.6 190.7M955.8 209.3A25 25 0 0 0 947.7 195.2" class="mh"/><circle cx="931.3" cy="214.1" r="2.6" class="mh"/><circle cx="931.3" cy="207.2" r="2.2" class="mh"/><path d="M931.3 211.5L931.3 209.4" class="mh"/><circle cx="924.7" cy="212.0" r="2.2" class="mh"/><path d="M928.8 213.3L926.8 212.6" class="mh"/><circle cx="927.2" cy="219.7" r="2.2" class="mh"/><path d="M929.8 216.2L928.5 217.9" class="mh"/><circle cx="935.4" cy="219.7" r="2.2" class="mh"/><path d="M932.8 216.2L934.1 217.9" class="mh"/><circle cx="937.9" cy="212.0" r="2.2" class="mh"/><path d="M933.8 213.3L935.8 212.6" class="mh"/><path d="M781 79.2L777.9 90.5M771 119.2L755.2 193" class="mh"/><path d="M859.8 94L860 101M860.4 121.5L862.1 185.8" class="mh"/></g>
<g><ellipse cx="263.4" cy="449.1" rx="15.3" ry="3.7" class="mh"/><ellipse cx="263.4" cy="691.3" rx="15.3" ry="3.7" class="mh"/><rect x="363.9" y="446.6" width="32.9" height="8.2" rx="4.1" class="mh"/><rect x="363.9" y="685.6" width="32.9" height="8.2" rx="4.1" class="mh"/><path d="M181.9 493.7C181.4 497.7 179.5 510.4 178.7 517.5C177.9 524.6 176.7 531.8 176.9 536.2C177.1 540.6 178.2 541.7 180.0 543.7C181.8 545.8 182.5 547.2 187.5 548.5C192.5 549.8 201.7 550.8 210.0 551.5C218.3 552.2 232.9 552.3 237.5 552.5" class="lh"/><path d="M181.9 646.7C181.4 642.7 179.5 630.0 178.7 622.9C177.9 615.8 176.7 608.6 176.9 604.2C177.1 599.8 178.2 598.8 180.0 596.7C181.8 594.7 182.5 593.2 187.5 591.9C192.5 590.6 201.7 589.6 210.0 588.9C218.3 588.2 232.9 588.1 237.5 587.9" class="lh"/><path d="M197.5 495.6L197.5 541.2" class="lh"/><path d="M197.5 644.8L197.5 599.2" class="lh"/><path d="M178.7 541.2C181.8 541.2 188.1 541.2 197.5 541.2C206.9 541.2 227.9 541.7 235.0 541.0C242.1 540.3 239.1 540.5 240.0 537.0C240.9 533.5 240.5 525.3 240.6 520.0C240.7 514.7 241.0 508.4 240.6 505.0C240.2 501.6 240.6 500.9 238.0 499.5C235.4 498.1 231.8 497.4 225.0 496.8C218.2 496.2 202.1 495.8 197.5 495.6" class="lh"/><path d="M178.7 599.2C181.8 599.2 188.1 599.2 197.5 599.2C206.9 599.2 227.9 598.7 235.0 599.4C242.1 600.1 239.1 599.9 240.0 603.4C240.9 606.9 240.5 615.1 240.6 620.4C240.7 625.7 241.0 632.0 240.6 635.4C240.2 638.8 240.6 639.5 238.0 640.9C235.4 642.3 231.8 643.0 225.0 643.6C218.2 644.3 202.1 644.6 197.5 644.8" class="lh"/><path d="M180.5 493.0C181.1 492.4 181.2 490.8 184.0 489.5C186.8 488.2 192.3 486.4 197.0 485.5C201.7 484.6 209.5 484.5 212.0 484.3" class="lh"/><path d="M180.5 647.4C181.1 648.0 181.2 649.7 184.0 650.9C186.8 652.2 192.3 654.0 197.0 654.9C201.7 655.8 209.5 655.9 212.0 656.1" class="lh"/><path d="M280.0 486.2C278.3 485.8 274.4 484.6 270.0 484.0C265.6 483.4 258.7 482.6 253.7 482.5C248.7 482.4 242.6 482.8 240.0 483.5C237.4 484.2 238.1 485.4 238.1 486.9C238.1 488.4 238.8 490.5 240.0 492.5C241.2 494.5 244.0 494.5 245.0 498.7C246.0 502.9 246.2 510.8 246.2 517.5C246.2 524.2 246.0 533.9 245.0 538.7C244.0 543.5 241.2 543.9 240.0 546.2C238.8 548.5 236.2 551.1 237.5 552.5C238.8 553.9 242.7 554.6 247.5 554.7C252.3 554.8 260.8 554.0 266.2 553.1C271.6 552.2 276.4 550.5 280.0 549.4C283.6 548.2 286.0 547.8 288.0 546.2C290.0 544.6 290.9 542.4 292.0 540.0C293.1 537.6 293.9 533.3 294.3 532.0" class="lh"/><path d="M280.0 654.2C278.3 654.6 274.4 655.8 270.0 656.4C265.6 657.0 258.7 657.8 253.7 657.9C248.7 658.0 242.6 657.6 240.0 656.9C237.4 656.2 238.1 655.0 238.1 653.5C238.1 652.0 238.8 649.9 240.0 647.9C241.2 645.9 244.0 645.9 245.0 641.7C246.0 637.5 246.2 629.6 246.2 622.9C246.2 616.2 246.0 606.5 245.0 601.7C244.0 596.9 241.2 596.5 240.0 594.2C238.8 591.9 236.2 589.3 237.5 587.9C238.8 586.5 242.7 585.8 247.5 585.7C252.3 585.6 260.8 586.4 266.2 587.3C271.6 588.2 276.4 589.9 280.0 591.0C283.6 592.2 286.0 592.6 288.0 594.2C290.0 595.8 290.9 598.0 292.0 600.4C293.1 602.8 293.9 607.1 294.3 608.4" class="lh"/><path d="M280.0 486.2C280.8 486.5 283.3 486.7 285.0 488.0C286.7 489.3 288.8 492.0 290.0 494.0C291.2 496.0 291.6 498.4 292.0 500.0C292.4 501.6 292.4 502.9 292.5 503.5" class="lh"/><path d="M280.0 654.2C280.8 653.9 283.3 653.7 285.0 652.4C286.7 651.1 288.8 648.4 290.0 646.4C291.2 644.4 291.6 642.0 292.0 640.4C292.4 638.8 292.4 637.5 292.5 636.9" class="lh"/><path d="M272.0 503.0C275.4 502.5 286.2 502.3 290.0 503.0C293.8 503.7 293.8 502.5 294.5 507.0C295.2 511.5 295.2 525.4 294.5 530.0C293.8 534.6 293.8 533.7 290.0 534.4C286.2 535.1 275.4 535.0 272.0 534.4C268.6 533.8 269.8 535.7 269.4 531.0C269.0 526.3 269.0 510.7 269.4 506.0C269.8 501.3 268.6 503.5 272.0 503.0Z" class="lh"/><path d="M272.0 637.4C275.4 637.9 286.2 638.1 290.0 637.4C293.8 636.7 293.8 637.9 294.5 633.4C295.2 628.9 295.2 615.0 294.5 610.4C293.8 605.8 293.8 606.7 290.0 606.0C286.2 605.3 275.4 605.4 272.0 606.0C268.6 606.6 269.8 604.7 269.4 609.4C269.0 614.1 269.0 629.7 269.4 634.4C269.8 639.1 268.6 636.9 272.0 637.4Z" class="lh"/><path d="M280.0 576.0C279.8 573.5 278.3 564.9 278.7 561.2C279.1 557.5 280.9 555.4 282.5 553.7C284.1 552.0 287.1 551.6 288.0 551.2" class="lh"/><path d="M280.0 564.4C279.8 566.9 278.3 575.5 278.7 579.2C279.1 582.9 280.9 585.0 282.5 586.7C284.1 588.4 287.1 588.8 288.0 589.2" class="lh"/><path d="M292.0 503.7C297.0 503.8 313.1 504.0 322.0 504.4C330.9 504.8 341.8 505.9 345.7 506.2" class="lh"/><path d="M292.0 636.7C297.0 636.6 313.1 636.4 322.0 636.0C330.9 635.6 341.8 634.5 345.7 634.2" class="lh"/><path d="M301.4 505.0L301.4 556.2" class="lh"/><path d="M301.4 635.4L301.4 584.2" class="lh"/><path d="M345.1 506.2L345.1 554.4" class="lh"/><path d="M345.1 634.2L345.1 586.0" class="lh"/><path d="M301.4 521.0L345.1 521.2" class="lh"/><path d="M301.4 619.4L345.1 619.2" class="lh"/><path d="M301.4 539.4L345.1 538.5" class="lh"/><path d="M301.4 601.0L345.1 601.9" class="lh"/><path d="M283.2 552.0C284.4 552.5 287.4 554.2 290.7 555.0C294.0 555.8 298.0 556.5 303.2 556.5C308.4 556.5 314.7 555.4 322.0 555.0C329.3 554.6 339.5 554.4 347.0 554.4C354.5 554.4 362.4 555.5 367.0 555.0C371.6 554.5 372.6 552.9 374.5 551.2C376.4 549.5 377.6 546.0 378.2 545.0" class="lh"/><path d="M283.2 588.4C284.4 587.9 287.4 586.2 290.7 585.4C294.0 584.7 298.0 583.9 303.2 583.9C308.4 583.9 314.7 585.1 322.0 585.4C329.3 585.8 339.5 586.0 347.0 586.0C354.5 586.0 362.4 584.9 367.0 585.4C371.6 585.9 372.6 587.5 374.5 589.2C376.4 590.9 377.6 594.4 378.2 595.4" class="lh"/><path d="M353.2 506.9C353.2 517.5 353.2 549.1 353.2 570.2C353.2 591.3 353.2 623.0 353.2 633.5" class="lh"/><path d="M345.7 506.2C349.2 506.2 362.4 505.4 367.0 506.0C371.6 506.6 371.3 508.3 373.2 510.0C375.1 511.7 377.4 515.2 378.2 516.2" class="lh"/><path d="M345.7 634.2C349.2 634.2 362.4 635.0 367.0 634.4C371.6 633.8 371.3 632.1 373.2 630.4C375.1 628.7 377.4 625.2 378.2 624.2" class="lh"/><path d="M373.0 516.2C374.8 515.7 379.7 515.7 381.5 516.2C383.3 516.7 383.5 514.8 383.9 519.0C384.3 523.2 384.3 537.3 383.9 541.5C383.5 545.7 383.3 543.9 381.5 544.4C379.7 544.9 374.8 544.9 373.0 544.4C371.2 543.9 370.9 545.7 370.5 541.5C370.1 537.3 370.1 523.2 370.5 519.0C370.9 514.8 371.2 516.7 373.0 516.2Z" class="lh"/><path d="M373.0 624.2C374.8 624.7 379.7 624.7 381.5 624.2C383.3 623.7 383.5 625.6 383.9 621.4C384.3 617.2 384.3 603.1 383.9 598.9C383.5 594.7 383.3 596.5 381.5 596.0C379.7 595.5 374.8 595.5 373.0 596.0C371.2 596.5 370.9 594.7 370.5 598.9C370.1 603.1 370.1 617.2 370.5 621.4C370.9 625.6 371.2 623.7 373.0 624.2Z" class="lh"/><path d="M377.7 545.0C377.7 549.2 377.7 561.8 377.7 570.2C377.7 578.6 377.7 591.2 377.7 595.4" class="lh"/><path d="M397.6 505.2C397.6 516.0 397.6 548.5 397.6 570.2C397.6 591.9 397.6 624.4 397.6 635.2" class="lh"/><path d="M278.9 486.0C278.9 485.2 275.9 482.1 278.9 481.5C281.9 480.9 292.9 481.2 297.0 482.1C301.1 483.0 299.0 485.3 303.2 486.9C307.4 488.5 315.9 490.5 322.0 491.9C328.1 493.2 336.0 493.2 339.5 495.0C343.0 496.8 342.2 500.6 343.2 502.5C344.2 504.4 345.3 505.6 345.7 506.2" class="lh"/><path d="M278.9 654.4C278.9 655.2 275.9 658.3 278.9 658.9C281.9 659.6 292.9 659.2 297.0 658.3C301.1 657.4 299.0 655.1 303.2 653.5C307.4 651.9 315.9 649.9 322.0 648.5C328.1 647.2 336.0 647.2 339.5 645.4C343.0 643.6 342.2 639.8 343.2 637.9C344.2 636.0 345.3 634.8 345.7 634.2" class="lh"/><path d="M340.7 493.7C343.8 493.9 353.9 494.2 359.5 495.0C365.1 495.8 369.3 497.4 374.5 498.7C379.7 499.9 388.0 501.9 390.7 502.5" class="lh"/><path d="M340.7 646.7C343.8 646.5 353.9 646.2 359.5 645.4C365.1 644.6 369.3 643.0 374.5 641.7C379.7 640.5 388.0 638.5 390.7 637.9" class="lh"/><path d="M0.0 445.4C6.2 445.5 25.0 445.8 37.5 446.0C50.0 446.2 64.6 446.7 75.0 446.6C85.4 446.5 91.2 445.8 100.0 445.4C108.8 445.0 117.3 444.8 128.0 444.5C138.7 444.2 153.3 443.7 164.0 443.5C174.7 443.3 182.2 443.4 192.0 443.5C201.8 443.6 211.2 443.7 222.5 443.9C233.8 444.1 247.6 444.2 260.0 444.5C272.4 444.8 284.6 445.2 297.0 445.5C309.4 445.8 323.1 446.1 334.5 446.0C345.9 445.9 355.9 445.5 365.7 445.1C375.4 444.7 384.3 443.7 393.0 443.5C401.7 443.3 409.7 443.5 418.0 443.9C426.3 444.3 433.8 444.8 443.0 445.7C452.2 446.6 463.8 448.1 473.0 449.5C482.2 450.9 491.8 452.5 498.0 453.9C504.2 455.2 506.8 455.8 510.5 457.6C514.2 459.4 517.2 462.3 520.5 464.5C523.8 466.7 527.6 467.8 530.5 470.7C533.4 473.6 535.9 478.0 538.0 482.0C540.1 486.0 541.6 489.9 543.0 494.5C544.4 499.1 545.2 502.4 546.1 509.5C547.0 516.6 547.6 527.6 548.2 537.0C548.8 546.4 549.3 560.2 549.5 565.7C549.7 571.2 549.5 568.7 549.5 570.2C549.5 571.7 549.7 569.2 549.5 574.7C549.3 580.2 548.8 594.0 548.2 603.4C547.6 612.8 547.0 623.8 546.1 630.9C545.2 638.0 544.4 641.3 543.0 645.9C541.6 650.5 540.1 654.4 538.0 658.4C535.9 662.4 533.4 666.8 530.5 669.7C527.6 672.6 523.8 673.7 520.5 675.9C517.2 678.1 514.2 681.0 510.5 682.8C506.8 684.6 504.2 685.2 498.0 686.5C491.8 687.9 482.2 689.5 473.0 690.9C463.8 692.3 452.2 693.8 443.0 694.7C433.8 695.6 426.3 696.1 418.0 696.5C409.7 696.9 401.7 697.1 393.0 696.9C384.3 696.7 375.4 695.7 365.7 695.3C355.9 694.9 345.9 694.5 334.5 694.4C323.1 694.3 309.4 694.7 297.0 694.9C284.6 695.2 272.4 695.6 260.0 695.9C247.6 696.2 233.8 696.3 222.5 696.5C211.2 696.7 201.8 696.8 192.0 696.9C182.2 697.0 174.7 697.1 164.0 696.9C153.3 696.7 138.7 696.2 128.0 695.9C117.3 695.6 108.8 695.4 100.0 695.0C91.2 694.7 85.4 693.9 75.0 693.8C64.6 693.7 50.0 694.2 37.5 694.4C25.0 694.6 6.2 694.9 0.0 695.0" class="mh"/><path d="M0.0 460.4C6.2 460.2 27.1 459.3 37.5 459.1C47.9 458.9 55.2 458.9 62.5 459.1C69.8 459.4 75.8 459.8 81.2 460.6C86.6 461.4 90.8 462.7 95.0 464.1C99.2 465.5 104.4 468.3 106.3 469.1" class="mh"/><path d="M0.0 680.0C6.2 680.2 27.1 681.1 37.5 681.3C47.9 681.5 55.2 681.6 62.5 681.3C69.8 681.1 75.8 680.6 81.2 679.8C86.6 679.0 90.8 677.7 95.0 676.3C99.2 674.9 104.4 672.1 106.3 671.3" class="mh"/><path d="M0.0 469.1C4.2 468.5 16.7 466.3 25.0 465.4C33.3 464.5 39.6 463.9 50.0 463.5C60.4 463.1 76.8 463.0 87.5 462.9C98.2 462.8 109.6 462.9 114.0 462.9" class="mh"/><path d="M0.0 671.3C4.2 671.9 16.7 674.1 25.0 675.0C33.3 675.9 39.6 676.5 50.0 676.9C60.4 677.3 76.8 677.4 87.5 677.5C98.2 677.6 109.6 677.5 114.0 677.5" class="mh"/><path d="M0.0 508.5C4.2 507.4 16.7 504.3 25.0 502.2C33.3 500.1 42.7 498.5 50.0 496.0C57.3 493.5 62.5 490.3 68.7 487.2C75.0 484.1 81.6 480.2 87.5 477.2C93.4 474.2 101.2 470.5 104.0 469.1" class="mh"/><path d="M0.0 631.9C4.2 633.0 16.7 636.1 25.0 638.2C33.3 640.3 42.7 641.9 50.0 644.4C57.3 646.9 62.5 650.1 68.7 653.2C75.0 656.3 81.6 660.2 87.5 663.2C93.4 666.2 101.2 670.0 104.0 671.3" class="mh"/><path d="M102.6 445.4C103.0 446.5 103.9 450.1 105.2 452.2C106.5 454.3 108.7 456.7 110.2 457.9C111.7 459.1 109.6 459.2 114.0 459.4C118.4 459.6 123.5 459.2 136.5 459.1C149.5 459.0 177.7 458.6 192.0 458.5C206.3 458.4 211.2 458.2 222.5 458.5C233.8 458.8 249.1 459.7 260.0 460.1C270.9 460.6 279.8 460.8 288.0 461.2C296.2 461.6 301.8 462.0 309.5 462.6C317.2 463.2 326.2 464.2 334.5 464.7C342.8 465.2 352.6 465.3 359.5 465.7C366.4 466.1 368.9 466.7 375.7 467.0C382.4 467.3 395.9 467.5 400.0 467.6" class="mh"/><path d="M102.6 695.0C103.0 693.9 103.9 690.3 105.2 688.2C106.5 686.1 108.7 683.7 110.2 682.5C111.7 681.3 109.6 681.2 114.0 681.0C118.4 680.8 123.5 681.2 136.5 681.3C149.5 681.5 177.7 681.8 192.0 681.9C206.3 682.0 211.2 682.2 222.5 681.9C233.8 681.6 249.1 680.8 260.0 680.3C270.9 679.9 279.8 679.6 288.0 679.2C296.2 678.8 301.8 678.4 309.5 677.8C317.2 677.2 326.2 676.2 334.5 675.7C342.8 675.2 352.6 675.1 359.5 674.7C366.4 674.3 368.9 673.7 375.7 673.4C382.4 673.1 395.9 672.9 400.0 672.8" class="mh"/><path d="M114.0 461.6C115.5 461.9 116.5 461.7 122.7 463.5C128.9 465.3 142.5 469.7 151.5 472.2C160.5 474.7 168.8 476.6 176.5 478.5C184.2 480.4 191.9 482.7 197.5 483.9C203.1 485.1 205.4 485.3 210.0 485.7C214.6 486.1 214.7 486.1 225.0 486.1C235.3 486.2 259.4 486.3 272.0 486.0C284.6 485.7 292.4 485.5 300.7 484.5C309.0 483.5 315.3 481.7 322.0 480.1C328.7 478.5 335.5 476.6 340.7 475.1C345.9 473.7 350.5 472.4 353.2 471.4C355.9 470.4 357.2 469.8 357.0 469.2C356.8 468.6 355.8 468.3 352.0 467.6C348.2 466.9 337.4 465.5 334.5 465.1" class="mh"/><path d="M114.0 678.8C115.5 678.5 116.5 678.7 122.7 676.9C128.9 675.1 142.5 670.7 151.5 668.2C160.5 665.7 168.8 663.9 176.5 661.9C184.2 660.0 191.9 657.7 197.5 656.5C203.1 655.3 205.4 655.1 210.0 654.7C214.6 654.3 214.7 654.4 225.0 654.3C235.3 654.3 259.4 654.1 272.0 654.4C284.6 654.7 292.4 654.9 300.7 655.9C309.0 656.9 315.3 658.7 322.0 660.3C328.7 661.9 335.5 663.9 340.7 665.3C345.9 666.8 350.5 668.0 353.2 669.0C355.9 670.0 357.2 670.6 357.0 671.2C356.8 671.8 355.8 672.1 352.0 672.8C348.2 673.5 337.4 674.9 334.5 675.3" class="mh"/><path d="M122.7 462.9C121.2 463.1 116.9 462.8 114.0 464.1C111.1 465.5 108.1 467.8 105.2 471.0C102.3 474.2 99.0 479.1 96.5 483.5C94.0 487.9 92.4 492.0 90.5 497.2C88.6 502.4 86.6 508.7 85.2 514.7C83.8 520.8 82.8 527.2 82.1 533.5C81.4 539.8 81.1 546.1 80.9 552.2C80.7 558.3 80.8 564.2 80.8 570.2C80.8 576.2 80.7 582.1 80.9 588.2C81.1 594.3 81.4 600.7 82.1 606.9C82.8 613.2 83.8 619.7 85.2 625.7C86.6 631.8 88.6 638.0 90.5 643.2C92.4 648.4 94.0 652.5 96.5 656.9C99.0 661.3 102.3 666.2 105.2 669.4C108.1 672.6 111.1 675.0 114.0 676.3C116.9 677.7 121.2 677.3 122.7 677.5" class="mh"/><path d="M180.2 512.0C180.5 509.8 182.1 501.7 182.1 498.5C182.1 495.3 181.5 494.4 180.2 492.9C178.8 491.4 177.8 490.9 174.0 489.7C170.2 488.4 163.5 487.1 157.7 485.4C151.9 483.7 144.2 481.1 139.0 479.7C133.8 478.3 129.6 477.3 126.5 477.2C123.4 477.1 122.3 477.9 120.2 479.1C118.1 480.4 116.1 481.7 114.0 484.7C111.9 487.7 109.6 492.2 107.7 497.2C105.8 502.2 104.1 508.7 102.7 514.7C101.3 520.8 100.4 527.2 99.6 533.5C98.8 539.8 98.1 546.1 97.7 552.2C97.3 558.3 97.4 564.2 97.4 570.2C97.4 576.2 97.3 582.1 97.7 588.2C98.1 594.3 98.8 600.7 99.6 606.9C100.4 613.2 101.3 619.7 102.7 625.7C104.1 631.8 105.8 638.2 107.7 643.2C109.6 648.2 111.9 652.7 114.0 655.7C116.1 658.7 118.1 660.1 120.2 661.3C122.3 662.6 123.4 663.3 126.5 663.2C129.6 663.1 133.8 662.1 139.0 660.7C144.2 659.3 151.9 656.7 157.7 655.0C163.5 653.3 170.2 652.0 174.0 650.7C177.8 649.5 178.8 649.0 180.2 647.5C181.5 646.0 182.1 645.1 182.1 641.9C182.1 638.7 180.5 630.7 180.2 628.4" class="mh"/><path d="M181.9 497.0C181.4 499.9 179.8 508.6 179.0 514.7C178.2 520.8 177.6 529.6 177.1 533.5C176.6 537.4 177.9 536.1 175.9 537.9C173.9 539.7 167.3 542.3 165.2 544.1C163.1 545.9 163.9 545.9 163.4 548.5C162.9 551.1 162.8 557.3 162.1 559.7C161.4 562.1 160.3 562.1 159.0 562.9C157.7 563.7 155.0 563.5 154.0 564.7C153.0 565.9 153.0 568.4 153.0 570.2C153.0 572.0 153.0 574.5 154.0 575.7C155.0 576.9 157.7 576.7 159.0 577.5C160.3 578.3 161.4 578.3 162.1 580.7C162.8 583.1 162.9 589.3 163.4 591.9C163.9 594.5 163.1 594.5 165.2 596.3C167.3 598.1 173.9 600.7 175.9 602.5C177.9 604.3 176.6 603.0 177.1 606.9C177.6 610.8 178.2 619.6 179.0 625.7C179.8 631.8 181.4 640.5 181.9 643.4" class="mh"/><path d="M193.1 493.0C195.9 493.6 204.1 495.5 210.0 496.4C215.9 497.3 222.4 497.7 228.7 498.2C234.9 498.7 237.6 499.2 247.5 499.5C257.4 499.8 256.5 500.1 288.0 500.2C319.5 500.3 411.9 500.2 436.7 500.2" class="mh"/><path d="M193.1 647.4C195.9 646.8 204.1 644.9 210.0 644.0C215.9 643.1 222.4 642.7 228.7 642.2C234.9 641.7 237.6 641.2 247.5 640.9C257.4 640.6 256.5 640.3 288.0 640.2C319.5 640.1 411.9 640.2 436.7 640.2" class="mh"/><path d="M294.5 446.4C293.4 448.9 287.4 455.1 288.2 461.4C289.0 467.6 297.6 480.1 299.5 483.9" class="mh"/><path d="M294.5 694.0C293.4 691.5 287.4 685.3 288.2 679.0C289.0 672.8 297.6 660.3 299.5 656.5" class="mh"/><path d="M375.5 467.6C376.3 466.9 378.6 464.6 380.5 463.2C382.4 461.8 384.2 459.8 386.7 458.9C389.2 458.0 390.3 457.8 395.5 457.6C400.7 457.5 410.1 457.6 418.0 458.0C425.9 458.4 434.9 459.4 443.0 460.1C451.1 460.8 460.4 461.5 466.7 462.0C472.9 462.5 475.7 461.5 480.5 463.2C485.3 464.9 490.9 469.1 495.5 472.0C500.1 474.9 504.7 478.0 508.0 480.7C511.3 483.4 513.2 485.3 515.5 488.2C517.8 491.1 519.8 494.2 521.7 498.2C523.6 502.2 525.0 505.5 526.7 512.0C528.4 518.5 530.7 528.7 532.0 537.0C533.3 545.3 534.1 556.5 534.5 562.0C534.9 567.5 534.6 567.5 534.6 570.2C534.6 572.9 534.9 572.9 534.5 578.4C534.1 583.9 533.3 595.1 532.0 603.4C530.7 611.7 528.4 621.9 526.7 628.4C525.0 634.9 523.6 638.2 521.7 642.2C519.8 646.2 517.8 649.3 515.5 652.2C513.2 655.1 511.3 657.0 508.0 659.7C504.7 662.4 500.1 665.5 495.5 668.4C490.9 671.3 485.3 675.5 480.5 677.2C475.7 678.9 472.9 677.9 466.7 678.4C460.4 678.9 451.1 679.6 443.0 680.3C434.9 681.0 425.9 682.0 418.0 682.4C410.1 682.8 400.7 683.0 395.5 682.8C390.3 682.7 389.2 682.4 386.7 681.5C384.2 680.6 382.4 678.7 380.5 677.2C378.6 675.8 376.3 673.5 375.5 672.8" class="mh"/><path d="M379.5 468.2C381.8 468.1 386.6 467.5 393.0 467.8C399.4 468.1 409.7 469.1 418.0 470.1C426.3 471.1 433.8 472.4 443.0 473.9C452.2 475.4 463.8 477.2 473.0 478.9C482.2 480.6 491.4 482.6 498.0 483.9C504.6 485.1 510.0 486.0 512.4 486.4" class="mh"/><path d="M379.5 672.2C381.8 672.3 386.6 672.9 393.0 672.6C399.4 672.3 409.7 671.3 418.0 670.3C426.3 669.3 433.8 668.0 443.0 666.5C452.2 665.0 463.8 663.2 473.0 661.5C482.2 659.8 491.4 657.8 498.0 656.5C504.6 655.3 510.0 654.4 512.4 654.0" class="mh"/><path d="M380.5 468.2C383.6 468.6 393.4 469.4 399.2 470.7C405.0 471.9 410.9 473.6 415.5 475.7C420.1 477.8 423.6 480.5 426.7 483.2C429.8 485.9 432.1 488.9 434.2 492.0C436.3 495.1 437.8 497.8 439.2 502.0C440.6 506.2 441.5 511.2 442.4 517.0C443.3 522.8 444.0 528.1 444.5 537.0C445.0 545.9 445.5 559.1 445.5 570.2C445.5 581.3 445.0 594.5 444.5 603.4C444.0 612.3 443.3 617.6 442.4 623.4C441.5 629.2 440.6 634.2 439.2 638.4C437.8 642.6 436.3 645.3 434.2 648.4C432.1 651.5 429.8 654.5 426.7 657.2C423.6 659.9 420.1 662.6 415.5 664.7C410.9 666.8 405.0 668.5 399.2 669.7C393.4 671.0 383.6 671.8 380.5 672.2" class="mh"/><path d="M385.6 570.2C385.6 556.1 385.6 537.5 385.7 528.0C385.8 518.5 385.3 516.8 386.1 513.2C386.9 509.6 388.3 507.8 390.5 506.4C392.7 504.9 394.6 504.9 399.2 504.5C403.8 504.1 413.8 503.8 418.0 504.2C422.2 504.6 422.3 505.3 424.2 507.0C426.1 508.7 427.8 511.0 429.2 514.5C430.6 518.0 431.6 522.2 432.4 528.0C433.2 533.8 433.6 542.5 433.9 549.5C434.2 556.5 434.3 563.3 434.3 570.2C434.3 577.1 434.2 583.9 433.9 590.9C433.6 597.9 433.2 606.6 432.4 612.4C431.6 618.2 430.6 622.4 429.2 625.9C427.8 629.4 426.1 631.7 424.2 633.4C422.3 635.1 422.2 635.8 418.0 636.2C413.8 636.6 403.8 636.3 399.2 635.9C394.6 635.5 392.7 635.5 390.5 634.0C388.3 632.6 386.9 630.8 386.1 627.2C385.3 623.6 385.8 621.9 385.7 612.4C385.6 602.9 385.6 584.3 385.6 570.2Z" class="mh"/><path d="M476.7 460.1C475.9 459.5 472.1 457.3 471.7 456.4C471.3 455.5 470.9 454.7 474.2 454.5C477.5 454.3 486.7 454.7 491.7 455.1C496.7 455.5 500.6 456.1 504.2 457.0C507.8 457.9 510.3 459.0 513.0 460.7C515.7 462.4 518.4 464.5 520.5 467.0C522.6 469.5 523.8 471.5 525.5 475.7C527.2 479.9 529.0 486.8 530.5 492.0C532.0 497.2 533.0 501.0 534.2 507.0C535.5 513.0 536.9 521.7 538.0 528.0C539.1 534.3 540.3 538.0 541.0 545.0C541.7 552.0 542.0 561.8 542.0 570.2C542.0 578.6 541.7 588.4 541.0 595.4C540.3 602.4 539.1 606.1 538.0 612.4C536.9 618.7 535.5 627.4 534.2 633.4C533.0 639.4 532.0 643.2 530.5 648.4C529.0 653.6 527.2 660.5 525.5 664.7C523.8 668.9 522.6 670.9 520.5 673.4C518.4 675.9 515.7 678.0 513.0 679.7C510.3 681.4 507.8 682.5 504.2 683.4C500.6 684.3 496.7 684.9 491.7 685.3C486.7 685.7 477.5 686.1 474.2 685.9C470.9 685.7 471.3 684.9 471.7 684.0C472.1 683.1 475.9 680.9 476.7 680.3" class="mh"/><path d="M471.7 456.4C472.5 457.0 473.4 458.7 476.7 460.1C480.0 461.6 487.1 463.3 491.7 465.1C496.3 466.9 500.0 468.3 504.2 470.7C508.4 473.1 513.2 476.4 516.7 479.5C520.2 482.6 522.8 485.8 525.5 489.5C528.2 493.2 530.7 497.8 533.0 502.0C535.3 506.2 537.5 510.2 539.2 514.5C540.9 518.8 542.0 522.4 543.0 528.0C544.0 533.6 544.6 541.0 545.0 548.0C545.4 555.0 545.5 562.8 545.5 570.2C545.5 577.6 545.4 585.4 545.0 592.4C544.6 599.4 544.0 606.8 543.0 612.4C542.0 618.0 540.9 621.6 539.2 625.9C537.5 630.2 535.3 634.2 533.0 638.4C530.7 642.6 528.2 647.2 525.5 650.9C522.8 654.7 520.2 657.8 516.7 660.9C513.2 664.0 508.4 667.3 504.2 669.7C500.0 672.1 496.3 673.5 491.7 675.3C487.1 677.1 480.0 678.9 476.7 680.3C473.4 681.8 472.5 683.4 471.7 684.0" class="mh"/><path d="M138.4 453.1C138.8 451.7 139.9 448.1 141.2 445.6C142.5 443.1 144.5 440.4 146.2 438.1C147.9 435.8 149.5 433.4 151.2 431.9C152.9 430.3 154.3 429.4 156.2 428.8C158.1 428.2 160.7 428.1 162.5 428.0C164.3 427.9 165.9 427.8 166.9 428.2C167.9 428.6 168.6 429.3 168.7 430.3C168.8 431.3 168.3 432.6 167.5 434.4C166.7 436.2 164.9 438.9 163.7 441.2C162.4 443.5 161.1 446.0 160.0 448.1C158.9 450.2 158.0 452.4 156.9 453.7C155.8 455.0 155.3 455.3 153.7 455.7C152.1 456.1 149.6 456.2 147.5 456.2C145.4 456.2 142.7 455.9 141.2 455.6C139.7 455.3 139.2 454.7 138.7 454.3C138.2 453.9 138.0 454.6 138.4 453.1Z" class="mh" style="fill:#fff"/><path d="M138.1 685.1C138.5 684.7 138.9 684.4 140.6 684.2C142.3 684.0 145.9 683.9 148.1 683.9C150.3 683.9 152.4 684.0 153.7 684.2C154.9 684.5 155.0 684.4 155.6 685.4C156.2 686.4 156.8 688.0 157.5 690.1C158.2 692.2 159.2 695.7 160.0 698.2C160.8 700.7 161.8 703.1 162.5 705.1C163.2 707.1 164.1 708.9 164.4 710.1C164.7 711.4 164.7 712.0 164.4 712.6C164.1 713.2 163.4 713.7 162.5 713.9C161.6 714.1 160.2 714.0 158.7 713.6C157.2 713.2 155.2 712.4 153.7 711.4C152.1 710.4 150.8 709.3 149.4 707.6C148.0 705.9 146.4 703.5 145.0 701.4C143.6 699.3 142.2 697.1 141.2 695.1C140.1 693.1 139.2 691.0 138.7 689.5C138.2 688.0 138.1 687.1 138.0 686.4C137.9 685.7 137.7 685.5 138.1 685.1Z" class="mh" style="fill:#fff"/><path d="M136.2 458.3L138.2 453.6M136.4 681.6L137.4 684.8" class="mh"/></g>
<g><path d="M995.7 428.2C992.5 427.9 983.2 427.0 976.4 426.6C969.5 426.2 964.4 425.9 954.6 425.7C944.7 425.5 929.7 425.2 917.3 425.2C904.9 425.2 889.9 425.5 880.0 425.7C870.1 425.9 865.1 426.2 858.2 426.6C851.4 427.0 842.1 427.9 838.9 428.2" class="mh"/><path d="M838.9 428.2C837.4 429.2 832.6 432.6 830.0 434.5C827.4 436.4 825.8 436.1 823.2 439.7C820.6 443.3 817.4 450.2 814.5 456.0C811.6 461.8 808.3 469.4 805.7 474.7C803.1 480.0 800.0 485.7 798.9 487.9" class="mh"/><path d="M995.7 428.2C997.2 429.2 1002.0 432.6 1004.6 434.5C1007.2 436.4 1008.8 436.1 1011.4 439.7C1014.0 443.3 1017.2 450.2 1020.1 456.0C1023.0 461.8 1026.3 469.4 1028.9 474.7C1031.5 480.0 1034.6 485.7 1035.7 487.9" class="mh"/><path d="M810.7 466.0L800.7 486.0" class="mh"/><path d="M1023.9 466.0L1033.9 486.0" class="mh"/><path d="M838.4 428.6L838.2 477.2" class="mh"/><path d="M996.2 428.6L996.4 477.2" class="mh"/><path d="M917.3 442.8C904.9 442.8 889.9 442.8 880.0 443.0C870.1 443.2 863.2 443.4 858.0 443.8C852.8 444.2 851.3 444.6 849.0 445.6C846.7 446.6 845.2 448.3 844.3 450.0C843.3 451.7 843.3 453.9 843.3 456.0C843.3 458.1 843.3 460.6 844.3 462.5C845.2 464.4 846.7 466.3 849.0 467.4C851.3 468.5 852.8 468.6 858.0 468.9C863.2 469.2 870.1 469.1 880.0 469.0C889.9 468.9 904.9 468.6 917.3 468.6C929.7 468.6 944.7 468.9 954.6 469.0C964.5 469.1 971.4 469.2 976.6 468.9C981.8 468.6 983.3 468.5 985.6 467.4C987.9 466.3 989.3 464.4 990.3 462.5C991.2 460.6 991.3 458.1 991.3 456.0C991.3 453.9 991.2 451.7 990.3 450.0C989.3 448.3 987.9 446.6 985.6 445.6C983.3 444.6 981.8 444.2 976.6 443.8C971.4 443.4 964.5 443.2 954.6 443.0C944.7 442.8 929.7 442.8 917.3 442.8Z" class="mh"/><path d="M804.5 482.2C806.6 481.6 811.2 479.4 817.0 478.5C822.8 477.6 829.0 477.4 839.5 477.1C850.0 476.8 867.0 476.8 880.0 476.7C893.0 476.6 904.9 476.5 917.3 476.5C929.7 476.5 941.6 476.6 954.6 476.7C967.6 476.8 984.6 476.8 995.1 477.1C1005.6 477.4 1011.8 477.6 1017.6 478.5C1023.4 479.4 1028.0 481.6 1030.1 482.2" class="mh"/><path d="M798.9 487.9C800.5 487.5 804.8 485.3 808.2 485.4C811.6 485.5 816.4 487.5 819.5 488.5C822.6 489.5 825.8 491.1 827.0 491.6" class="mh"/><path d="M1035.7 487.9C1034.1 487.5 1029.8 485.3 1026.4 485.4C1023.0 485.5 1018.2 487.5 1015.1 488.5C1012.0 489.5 1008.8 491.1 1007.6 491.6" class="mh"/><path d="M805.7 499.1C807.2 498.3 811.0 495.5 814.5 494.1C818.0 492.8 820.8 491.9 827.0 491.0C833.2 490.1 843.2 489.2 852.0 488.6C860.8 488.0 869.1 487.7 880.0 487.5C890.9 487.3 904.9 487.3 917.3 487.3C929.7 487.3 943.7 487.3 954.6 487.5C965.5 487.7 973.8 488.0 982.6 488.6C991.4 489.2 1001.3 490.1 1007.6 491.0C1013.8 491.9 1016.5 492.8 1020.1 494.1C1023.6 495.5 1027.4 498.3 1028.9 499.1" class="mh"/><path d="M792.0 496.6C794.3 497.0 800.3 498.5 805.7 499.1C811.1 499.7 816.8 499.4 824.5 500.1C832.2 500.8 843.9 502.3 852.0 503.3C860.1 504.3 865.0 505.7 873.0 506.1C881.0 506.5 892.6 505.9 900.0 505.9C907.4 505.8 911.5 505.8 917.3 505.8C923.1 505.8 927.2 505.8 934.6 505.9C942.0 505.9 953.6 506.5 961.6 506.1C969.6 505.7 974.5 504.3 982.6 503.3C990.7 502.3 1002.4 500.8 1010.1 500.1C1017.8 499.4 1023.5 499.7 1028.9 499.1C1034.3 498.5 1040.3 497.0 1042.6 496.6" class="mh"/><path d="M795.1 498.7C794.4 499.3 791.9 500.7 790.7 502.5C789.6 504.3 788.1 506.5 788.2 509.4C788.3 512.3 789.1 518.1 791.4 520.0C793.7 521.9 798.6 520.7 802.0 520.6C805.4 520.5 809.1 520.1 812.0 519.4C814.9 518.7 816.6 516.9 819.5 516.2C822.4 515.5 824.8 515.3 829.5 515.0C834.2 514.7 842.8 514.9 848.0 514.6C853.2 514.4 857.5 514.2 860.7 513.5C863.9 512.8 864.8 511.8 867.0 510.6C869.2 509.4 873.0 506.9 874.2 506.1" class="mh"/><path d="M1039.5 498.7C1040.2 499.3 1042.8 500.7 1043.9 502.5C1045.0 504.3 1046.5 506.5 1046.4 509.4C1046.3 512.3 1045.5 518.1 1043.2 520.0C1040.9 521.9 1036.0 520.7 1032.6 520.6C1029.2 520.5 1025.5 520.1 1022.6 519.4C1019.7 518.7 1018.0 516.9 1015.1 516.2C1012.2 515.5 1009.8 515.3 1005.1 515.0C1000.3 514.7 991.8 514.9 986.6 514.6C981.4 514.4 977.1 514.2 973.9 513.5C970.7 512.8 969.8 511.8 967.6 510.6C965.3 509.4 961.6 506.9 960.4 506.1" class="mh"/><path d="M824.5 500.6C824.9 502.6 825.8 508.0 827.0 512.5C828.2 517.0 829.9 523.5 832.0 527.5C834.1 531.5 836.6 533.9 839.5 536.2C842.4 538.5 845.8 540.0 849.5 541.2C853.2 542.4 856.9 543.0 862.0 543.4C867.1 543.8 870.8 543.5 880.0 543.4C889.2 543.3 904.9 543.0 917.3 543.0C929.7 543.0 945.4 543.3 954.6 543.4C963.8 543.5 967.5 543.8 972.6 543.4C977.7 543.0 981.3 542.4 985.1 541.2C988.8 540.0 992.2 538.5 995.1 536.2C998.0 533.9 1000.5 531.5 1002.6 527.5C1004.7 523.5 1006.3 517.0 1007.6 512.5C1008.8 508.0 1009.7 502.6 1010.1 500.6" class="mh"/><path d="M798.9 487.9C797.5 489.0 793.1 492.1 790.7 494.5C788.3 496.9 786.6 498.9 784.5 502.5C782.4 506.1 779.8 511.6 778.2 516.2C776.6 520.8 775.5 525.6 775.1 530.0C774.7 534.4 775.4 537.9 775.7 542.5C776.0 547.1 776.8 551.9 777.0 557.5C777.2 563.1 777.2 572.9 777.2 576.0" class="mh"/><path d="M1035.7 487.9C1037.1 489.0 1041.5 492.1 1043.9 494.5C1046.3 496.9 1048.0 498.9 1050.1 502.5C1052.2 506.1 1054.8 511.6 1056.4 516.2C1058.0 520.8 1059.1 525.6 1059.5 530.0C1059.9 534.4 1059.2 537.9 1058.9 542.5C1058.6 547.1 1057.8 551.9 1057.6 557.5C1057.3 563.1 1057.4 572.9 1057.4 576.0" class="mh"/><path d="M791.4 520.0C790.9 521.2 789.2 525.4 788.2 527.5C787.2 529.6 787.2 530.1 785.1 532.5C783.0 534.9 777.3 540.3 775.7 541.9" class="mh"/><path d="M1043.2 520.0C1043.7 521.2 1045.3 525.4 1046.4 527.5C1047.4 529.6 1047.4 530.1 1049.5 532.5C1051.6 534.9 1057.3 540.3 1058.9 541.9" class="mh"/><path d="M785.1 532.5C786.5 531.8 789.4 529.1 793.2 528.1C797.1 527.1 794.8 526.9 808.2 526.6C821.6 526.3 862.5 526.4 873.4 526.4" class="mh"/><path d="M1049.5 532.5C1048.2 531.8 1045.2 529.1 1041.4 528.1C1037.5 527.1 1039.8 526.9 1026.4 526.6C1013.0 526.3 972.1 526.4 961.2 526.4" class="mh"/><path d="M809.5 537.7C808.0 538.0 803.1 538.4 800.7 539.4C798.3 540.4 796.6 541.5 795.1 543.7C793.6 545.9 792.5 551.0 792.0 552.5" class="mh"/><path d="M1025.1 537.7C1026.6 538.0 1031.5 538.4 1033.9 539.4C1036.3 540.4 1038.0 541.5 1039.5 543.7C1041.0 545.9 1042.1 551.0 1042.6 552.5" class="mh"/><path d="M800.1 547.7C819.6 547.7 878.2 547.7 917.3 547.7C956.4 547.7 1015.0 547.7 1034.5 547.7" class="mh"/><path d="M776.4 542.5C776.8 545.6 778.1 555.2 778.9 561.2C779.7 567.2 780.4 572.9 781.4 578.7C782.4 584.5 783.9 592.0 785.1 596.2C786.3 600.4 787.4 602.0 788.5 603.8C789.6 605.6 791.0 606.6 791.5 607.2" class="mh"/><path d="M1058.2 542.5C1057.8 545.6 1056.5 555.2 1055.7 561.2C1054.9 567.2 1054.2 572.9 1053.2 578.7C1052.2 584.5 1050.7 592.0 1049.5 596.2C1048.3 600.4 1047.2 602.0 1046.1 603.8C1045.0 605.6 1043.6 606.6 1043.1 607.2" class="mh"/><path d="M790.5 607.4L917.3 608L1044.1 607.4" class="mh"/><path d="M794.5 578.0C796.2 578.1 784.0 578.6 804.5 578.7C825.0 578.8 879.7 578.7 917.3 578.7C954.9 578.7 1009.6 578.8 1030.1 578.7C1050.6 578.6 1038.4 578.1 1040.1 578.0" class="mh"/><path d="M804.5 578.7C805.0 578.1 805.9 576.0 807.6 575.0C809.3 574.0 809.2 573.2 814.5 572.7C819.8 572.2 828.6 572.1 839.5 571.9C850.4 571.7 867.0 571.5 880.0 571.4C893.0 571.3 904.9 571.3 917.3 571.3C929.7 571.3 941.6 571.3 954.6 571.4C967.6 571.5 984.2 571.7 995.1 571.9C1006.0 572.1 1014.8 572.2 1020.1 572.7C1025.4 573.2 1025.3 574.0 1027.0 575.0C1028.7 576.0 1029.6 578.1 1030.1 578.7" class="mh"/><path d="M804.5 578.7C803.9 580.2 801.8 584.8 800.7 587.5C799.7 590.2 799.5 592.5 798.2 595.0C797.0 597.5 794.6 600.6 793.2 602.5C791.9 604.4 790.6 605.6 790.1 606.2" class="mh"/><path d="M1030.1 578.7C1030.7 580.2 1032.8 584.8 1033.9 587.5C1034.9 590.2 1035.1 592.5 1036.4 595.0C1037.6 597.5 1040.0 600.6 1041.4 602.5C1042.8 604.4 1044.0 605.6 1044.5 606.2" class="mh"/><path d="M798.9 594.0C800.5 593.8 804.7 593.0 808.2 592.7C811.7 592.4 817.8 593.2 820.1 592.2C822.4 591.2 820.9 588.5 822.0 586.9C823.1 585.3 825.2 583.7 827.0 582.8C828.8 581.9 830.6 581.6 832.6 581.7C834.6 581.8 837.1 582.4 838.8 583.5C840.5 584.6 841.9 586.8 842.8 588.5C843.6 590.2 842.4 592.7 843.9 593.7C845.4 594.7 839.8 594.2 852.0 594.3C864.2 594.4 895.5 594.3 917.3 594.3C939.1 594.3 970.4 594.4 982.6 594.3C994.8 594.2 989.2 594.7 990.7 593.7C992.2 592.7 990.9 590.2 991.8 588.5C992.6 586.8 994.1 584.6 995.8 583.5C997.5 582.4 1000.0 581.8 1002.0 581.7C1004.0 581.6 1005.8 581.9 1007.6 582.8C1009.4 583.7 1011.4 585.3 1012.6 586.9C1013.7 588.5 1012.2 591.2 1014.5 592.2C1016.8 593.2 1022.9 592.4 1026.4 592.7C1029.9 593.0 1034.1 593.8 1035.7 594.0" class="mh"/><path d="M798.9 607.5C799.2 606.5 799.6 602.9 800.7 601.2C801.8 599.5 803.4 598.4 805.7 597.5C808.0 596.6 812.0 596.0 814.5 595.6C817.0 595.2 819.7 595.1 820.7 595.0" class="mh"/><path d="M1035.7 607.5C1035.4 606.5 1035.0 602.9 1033.9 601.2C1032.8 599.5 1031.2 598.4 1028.9 597.5C1026.6 596.6 1022.6 596.0 1020.1 595.6C1017.6 595.2 1014.9 595.1 1013.9 595.0" class="mh"/><path d="M814.5 621.2C816.6 621.2 823.9 621.4 827.0 621.0C830.1 620.6 824.4 619.2 833.2 618.7C842.0 618.2 866.0 618.2 880.0 618.1C894.0 618.0 904.9 618.0 917.3 618.0C929.7 618.0 940.6 618.0 954.6 618.1C968.6 618.2 992.6 618.2 1001.4 618.7C1010.2 619.2 1004.5 620.6 1007.6 621.0C1010.7 621.4 1018.0 621.2 1020.1 621.2" class="mh"/><path d="M794.5 546.5C795.3 547.5 796.4 551.4 796.8 555.0C797.2 558.6 797.3 564.7 797.0 568.0C796.7 571.3 795.6 573.4 794.8 575.0C794.0 576.6 792.9 577.7 792.0 577.5C791.1 577.3 790.2 575.9 789.6 574.0C789.0 572.1 788.4 569.0 788.4 566.0C788.4 563.0 789.0 558.8 789.6 556.0C790.2 553.2 791.2 550.6 792.0 549.0C792.8 547.4 793.7 545.5 794.5 546.5Z" class="mh"/><path d="M1040.1 546.5C1039.3 547.5 1038.2 551.4 1037.8 555.0C1037.4 558.6 1037.3 564.7 1037.6 568.0C1037.9 571.3 1039.0 573.4 1039.8 575.0C1040.6 576.6 1041.7 577.7 1042.6 577.5C1043.5 577.3 1044.4 575.9 1045.0 574.0C1045.6 572.1 1046.2 569.0 1046.2 566.0C1046.2 563.0 1045.6 558.8 1045.0 556.0C1044.4 553.2 1043.4 550.6 1042.6 549.0C1041.8 547.4 1040.9 545.5 1040.1 546.5Z" class="mh"/><path d="M790.3 496.2C790.1 495.3 789.1 493.5 788.9 491.0C788.7 488.5 789.2 483.6 788.9 481.0C788.6 478.4 788.4 476.6 787.0 475.4C785.6 474.1 784.5 473.6 780.7 473.5C777.0 473.4 768.4 474.1 764.5 474.7C760.6 475.3 759.1 476.1 757.6 477.2C756.1 478.2 755.7 478.9 755.7 481.0C755.7 483.1 756.6 487.5 757.6 489.7C758.6 491.9 759.2 493.1 762.0 494.1C764.8 495.1 769.8 495.4 774.5 495.7C779.2 496.0 787.7 496.1 790.3 496.2" class="mh"/><path d="M788.2 512.0C788.4 510.8 788.7 506.9 789.5 504.7C790.3 502.4 792.6 499.5 793.2 498.5" class="mh"/><path d="M777.2 576V636Q777.2 642.3 783.5 642.3H808.2Q814.5 642.3 814.5 636V608" class="mh"/><path d="M1020.1 608V636Q1020.1 642.3 1026.4 642.3" class="mh"/><circle cx="832.6" cy="593.1" r="6.4" class="mh"/><circle cx="1002.0" cy="593.1" r="6.4" class="mh"/></g>
</g>
<g id="dims"><path d="M133 44.2H219.2M219.2 44.2V135M219.2 169.5V259M0 259.2H230M176 259.2V286.3M197.2 259.2V313.2M0 286.3H22M86.5 286.3H176M0 313.2H38.5M72.5 313.2H197.2M386.5 259.2H1024M421.6 259.2V313.2M539.6 259.2V286.3M931 259.2V286.3M421.6 286.3H464M495 286.3H728.5M767 286.3H985.5M1020 286.3H1024M421.6 313.2H728.5M767 313.2H1024M755.7 642H1024M755.7 642V695.5M795 642V668.6M795 668.6H882M947 668.6H1024M755.7 695.5H900.5M934 695.5H1024M226.3 460V552.5M226.3 587.5V680M332 466V553M332 586V673.7" class="d"/><path d="M219.2 44.4L217.6 49.8L220.8 49.8ZM219.2 259.0L217.6 253.6L220.8 253.6ZM176.0 286.3L170.6 284.7L170.6 287.9ZM197.2 313.2L191.8 311.6L191.8 314.8ZM421.6 286.3L427.0 284.7L427.0 287.9ZM539.6 286.3L534.2 284.7L534.2 287.9ZM539.6 286.3L545.0 284.7L545.0 287.9ZM931.0 286.3L925.6 284.7L925.6 287.9ZM931.0 286.3L936.4 284.7L936.4 287.9ZM421.6 313.2L427.0 311.6L427.0 314.8ZM795.0 668.6L800.4 667.0L800.4 670.2ZM755.7 695.5L761.1 693.9L761.1 697.1ZM226.3 460.0L224.7 465.4L227.9 465.4ZM226.3 680.0L224.7 674.6L227.9 674.6ZM332.0 466.0L330.4 471.4L333.6 471.4ZM332.0 673.7L330.4 668.3L333.6 668.3Z" class="a"/><text transform="translate(223.3 165.2) rotate(-90)" textLength="26.6" lengthAdjust="spacingAndGlyphs">1384</text><text x="26.5" y="290.4" textLength="55.0" lengthAdjust="spacingAndGlyphs">1573 - 1579</text><text x="42.5" y="317.3" textLength="24.5" lengthAdjust="spacingAndGlyphs">1852</text><text x="470.0" y="290.4" textLength="21.5" lengthAdjust="spacingAndGlyphs">858</text><text x="736.0" y="290.4" textLength="26.0" lengthAdjust="spacingAndGlyphs">2851</text><text x="992.0" y="290.4" textLength="23.5" lengthAdjust="spacingAndGlyphs">1059</text><text x="736.0" y="317.3" textLength="26.0" lengthAdjust="spacingAndGlyphs">4768</text><text x="889.0" y="672.7" textLength="53.7" lengthAdjust="spacingAndGlyphs">1592 - 1612</text><text x="904.7" y="699.6" textLength="25.3" lengthAdjust="spacingAndGlyphs">2081</text><text transform="translate(230.4 582.0) rotate(-90)" textLength="26.0" lengthAdjust="spacingAndGlyphs">1465</text><text transform="translate(336.1 581.0) rotate(-90)" textLength="23.5" lengthAdjust="spacingAndGlyphs">1173</text></g>
<g id="front"><defs><pattern id="mesh" width="10" height="10" patternUnits="userSpaceOnUse" x="1.44" y="4.5"><rect width="10" height="10" fill="#fff"/><path d="M4.4 0L5.6 5L4.4 10M.6 0L-.6 5L.6 10M10.6 0L9.4 5L10.6 10" fill="none" stroke="#6c6c6c" stroke-width="1.35"/><path d="M.6 0H4.4M.6 10H4.4M5.6 5H9.4" fill="none" stroke="#585858" stroke-width="1.5" stroke-linecap="round"/></pattern><pattern id="mesh2" width="10" height="10" patternUnits="userSpaceOnUse" x="2.36" y="4.5"><rect width="10" height="10" fill="#fff"/><path d="M4.4 0L5.6 5L4.4 10M.6 0L-.6 5L.6 10M10.6 0L9.4 5L10.6 10" fill="none" stroke="#6c6c6c" stroke-width="1.35"/><path d="M.6 0H4.4M.6 10H4.4M5.6 5H9.4" fill="none" stroke="#585858" stroke-width="1.5" stroke-linecap="round"/></pattern></defs><path d="M104.2 168.0C104.8 170.5 104.4 171.6 104.2 176.0C104.0 180.4 104.0 189.3 103.0 194.3C102.0 199.3 100.7 202.6 98.4 205.9C96.1 209.2 92.3 212.2 89.2 214.0C86.1 215.8 83.9 216.2 79.6 216.6C75.3 217.0 66.8 216.9 63.5 216.6C60.2 216.2 60.7 215.8 59.8 214.5C58.9 213.2 58.5 215.4 58.2 209.0C57.9 202.6 58.0 183.1 58.0 176.0C58.0 168.9 57.8 168.9 58.2 166.5C58.6 164.1 59.4 163.2 60.3 161.8C61.2 160.5 62.2 159.3 63.5 158.4C64.8 157.5 62.9 156.8 68.0 156.4C73.1 156.0 88.8 155.3 94.3 156.0C99.8 156.7 99.1 158.8 100.8 160.8C102.5 162.8 103.6 165.5 104.2 168.0Z" fill="url(#mesh2)" stroke="#707070" stroke-width="1"/><path d="M4.6 168.0C4.0 170.5 4.4 171.6 4.6 176.0C4.8 180.4 4.8 189.3 5.8 194.3C6.8 199.3 8.1 202.6 10.4 205.9C12.7 209.2 16.5 212.2 19.6 214.0C22.7 215.8 24.9 216.2 29.2 216.6C33.5 217.0 42.0 216.9 45.3 216.6C48.6 216.2 48.1 215.8 49.0 214.5C49.9 213.2 50.3 215.4 50.6 209.0C50.9 202.6 50.8 183.1 50.8 176.0C50.8 168.9 51.0 168.9 50.6 166.5C50.2 164.1 49.4 163.2 48.5 161.8C47.6 160.5 46.6 159.3 45.3 158.4C44.0 157.5 45.9 156.8 40.8 156.4C35.7 156.0 20.0 155.3 14.5 156.0C9.0 156.7 9.7 158.8 8.0 160.8C6.3 162.8 5.2 165.5 4.6 168.0Z" fill="url(#mesh)" stroke="#707070" stroke-width="1"/><path d="M0 106.7L120 107.2L165 109.5" class="l"/><path d="M0.0 44.3C10.0 44.3 41.7 44.2 60.0 44.2C78.3 44.2 97.8 44.2 110.0 44.4C122.2 44.6 129.6 45.4 133.5 45.6" class="m"/><path d="M133.5 45.7C134.6 46.2 137.9 47.6 140.0 49.0C142.1 50.4 144.0 51.4 146.0 54.0C148.0 56.6 149.7 59.8 152.2 64.5C154.7 69.2 158.3 76.4 161.0 82.0C163.7 87.6 166.3 93.8 168.5 98.2C170.7 102.6 173.1 106.5 174.0 108.2" class="m"/><path d="M133.8 46.5C134.6 48.0 136.4 51.9 138.5 55.7C140.6 59.5 144.4 65.1 146.6 69.5C148.8 73.9 149.6 77.8 151.6 82.0C153.6 86.2 156.2 89.9 158.5 94.5C160.8 99.1 164.2 107.0 165.4 109.5" class="m"/><path d="M0.0 56.4C3.1 56.2 8.3 55.4 18.7 55.1C29.1 54.8 49.0 54.5 62.5 54.5C76.0 54.5 90.2 54.7 100.0 55.1C109.8 55.5 114.7 56.5 121.0 57.0C127.3 57.5 135.2 58.1 138.0 58.3" class="m"/><path d="M0.0 62.0C1.7 61.9 7.1 61.5 10.0 61.3C12.9 61.1 15.6 60.8 17.5 61.0C19.4 61.2 19.5 61.8 21.2 62.6C22.9 63.4 25.2 65.3 27.5 66.0C29.8 66.7 32.3 66.5 35.0 66.6C37.7 66.7 41.6 66.3 43.7 66.8C45.8 67.3 45.8 68.8 47.5 69.5C49.2 70.2 51.4 70.8 53.7 70.8C56.0 70.8 59.5 70.2 61.2 69.5C62.9 68.8 61.9 67.0 63.7 66.4C65.5 65.9 69.3 66.3 72.0 66.2C74.7 66.1 77.6 66.7 80.0 66.0C82.4 65.3 84.5 62.9 86.2 62.0C87.9 61.1 86.9 60.9 90.0 60.8C93.1 60.7 99.8 61.0 105.0 61.2C110.2 61.4 115.8 61.5 121.0 62.0C126.2 62.5 132.7 63.5 136.0 64.5C139.3 65.5 139.0 65.3 141.0 68.2C143.0 71.1 145.6 77.4 147.9 82.0C150.2 86.6 153.1 92.6 154.7 95.7C156.2 98.8 157.2 99.2 157.2 100.7C157.2 102.2 156.1 104.1 154.7 105.0C153.2 105.9 151.4 106.2 148.5 106.3C145.6 106.4 138.9 105.9 137.0 105.8" class="m"/><path d="M38.5 69.7H46M63.5 69.7H70.3Q73.8 69.7 73.8 73.2V76Q73.8 79.5 70.3 79.5H38.5Q35 79.5 35 76V73.2Q35 69.7 38.5 69.7" class="m"/><path d="M0.0 71.4C1.0 71.7 4.3 71.4 6.2 73.2C8.1 75.0 9.8 78.5 11.2 82.0C12.6 85.5 14.0 91.2 14.4 94.5C14.8 97.8 14.2 100.0 13.7 102.0C13.2 104.0 11.6 105.7 11.2 106.4" class="m"/><path d="M13.7 101.4C14.4 101.8 16.3 102.9 18.0 103.5C19.7 104.1 22.8 104.8 23.7 105.1" class="m"/><path d="M94.4 102.0C94.5 99.7 94.1 92.6 95.0 88.2C95.9 83.8 98.1 78.5 100.0 75.7C101.9 72.9 103.1 72.2 106.2 71.4C109.3 70.6 115.6 70.0 118.7 70.7C121.8 71.4 123.5 73.1 125.0 75.7C126.5 78.3 127.0 82.1 127.8 86.5C128.6 90.9 129.6 98.8 129.7 102.0C129.8 105.2 128.7 105.1 128.5 105.7" class="m"/><path d="M85.0 105.1C85.8 104.8 88.3 104.1 90.0 103.6C91.7 103.1 94.0 101.8 95.0 102.2C96.0 102.6 96.0 105.1 96.2 105.7" class="m"/><path d="M96.2 103.9C98.1 103.3 103.5 100.6 107.5 100.1C111.5 99.6 116.5 100.1 120.0 100.8C123.5 101.5 125.2 103.1 128.5 104.0C131.8 104.9 137.8 106.0 139.7 106.4" class="m"/><path d="M0 105.2L100 105.6L150 106.6" class="m"/><path d="M0 108.2L120 108.9L173 110.8" class="m"/><path d="M174.0 108.2C174.8 108.5 177.2 110.2 178.5 110.0C179.8 109.8 181.2 108.8 181.6 107.0C182.0 105.2 180.7 101.7 181.0 99.5C181.3 97.3 182.2 95.1 183.5 93.8C184.8 92.5 185.0 92.0 188.5 91.8C192.0 91.6 200.5 92.1 204.7 92.6C208.9 93.1 211.7 93.8 213.5 95.0C215.3 96.2 215.5 98.0 215.6 100.0C215.7 102.0 215.2 104.9 214.0 107.0C212.8 109.1 211.5 111.3 208.5 112.6C205.5 113.8 199.8 114.1 196.0 114.5C192.2 114.9 189.3 115.0 186.0 115.0C182.7 115.0 177.7 114.6 176.0 114.5" class="m"/><path d="M171.0 108.6C167.9 108.7 158.4 108.5 152.2 109.2C145.9 109.9 138.9 110.9 133.5 112.5C128.1 114.1 123.5 116.6 120.0 119.0C116.5 121.4 115.4 123.6 112.5 127.0C109.6 130.4 105.4 135.1 102.5 139.5C99.6 143.9 96.2 151.2 95.0 153.5" class="m"/><path d="M0.0 131.4C1.2 133.2 5.2 138.2 7.5 142.0C9.8 145.8 12.7 151.9 13.7 153.9" class="m"/><path d="M173.5 108.5C174.8 110.6 178.5 116.8 181.0 121.0C183.5 125.2 186.2 129.3 188.5 133.5C190.8 137.7 193.4 142.7 194.7 146.0C196.0 149.3 195.9 149.3 196.2 153.5C196.4 157.7 196.4 166.6 196.2 171.0C196.0 175.4 195.6 176.1 195.2 180.0C194.8 183.9 194.4 189.1 193.5 194.7C192.6 200.3 190.5 209.5 189.7 213.5C188.9 217.5 188.7 217.7 188.5 218.5" class="m"/><path d="M182.2 114.7C183.2 116.2 186.6 119.8 188.5 123.5C190.4 127.2 192.2 132.6 193.5 137.2C194.8 141.8 195.6 148.7 196.0 151.0" class="m"/><path d="M126.0 147.2C129.3 145.3 139.3 139.5 146.0 136.0C152.7 132.5 161.4 128.9 166.0 126.0C170.6 123.1 172.1 121.0 173.5 118.5C174.9 116.0 174.3 112.2 174.5 111.0" class="m"/><path d="M171.0 143.5C171.8 141.8 174.8 136.8 176.0 133.5C177.2 130.2 178.5 126.6 178.5 123.5C178.5 120.4 177.1 117.0 176.0 114.7C174.9 112.4 172.8 110.5 172.2 109.7" class="m"/><path d="M0.0 147.0C4.2 146.8 15.9 145.8 25.0 145.5C34.1 145.2 44.0 145.1 54.4 145.1C64.8 145.1 78.1 145.2 87.5 145.5C96.9 145.8 104.4 146.0 111.0 146.6C117.6 147.2 122.8 148.3 127.2 149.0C131.6 149.7 135.5 150.7 137.2 151.0" class="m"/><path d="M104.7 159.7C109.5 158.2 125.6 153.1 133.5 151.0C141.4 148.9 145.8 148.2 152.0 147.0C158.2 145.8 165.8 144.5 171.0 144.0C176.2 143.5 180.4 143.2 183.5 144.0C186.6 144.8 187.6 146.9 189.7 148.5C191.8 150.1 194.9 152.7 196.0 153.5" class="m"/><path d="M117.0 157.5C116.7 158.1 114.7 159.5 115.4 161.0C116.1 162.5 118.0 165.3 121.0 166.6C124.0 167.9 128.3 168.5 133.5 168.7C138.7 168.9 145.5 168.6 152.2 167.9C158.9 167.2 168.3 166.1 173.5 164.7C178.7 163.3 181.0 161.6 183.5 159.7C186.0 157.8 187.6 155.2 188.5 153.5C189.4 151.8 188.9 150.2 189.0 149.5" class="m"/><path d="M108.5 179.0C112.7 178.5 125.2 177.1 133.5 176.0C141.8 174.9 150.2 173.5 158.5 172.2C166.8 170.8 177.5 169.3 183.5 167.9C189.5 166.5 192.8 164.2 194.7 163.5" class="m"/><path d="M156.0 183.5C158.5 183.1 166.8 181.6 171.0 181.2C175.2 180.8 178.7 180.0 181.0 181.0C183.3 182.0 183.8 183.9 184.7 187.2C185.6 190.5 186.7 196.2 186.6 201.0C186.5 205.8 184.4 213.5 184.0 216.0" class="m"/><path d="M181.0 181.6C180.2 182.8 177.2 185.3 176.0 188.5C174.8 191.7 173.8 197.7 174.0 201.0C174.2 204.3 175.6 206.0 177.2 208.5C178.8 211.0 182.4 214.8 183.5 216.0" class="m"/><path d="M95.6 218.5C96.8 216.8 100.1 211.4 102.5 208.5C104.9 205.6 106.9 202.4 110.0 201.0C113.1 199.6 116.7 200.0 121.0 199.8C125.3 199.6 131.8 199.3 136.0 200.0C140.2 200.7 142.7 202.0 146.0 204.0C149.3 206.0 153.0 209.5 156.0 212.2C159.0 214.9 162.7 219.0 164.0 220.4" class="m"/><path d="M95.6 218.5C96.1 218.8 94.5 220.0 98.7 220.2C102.9 220.4 115.2 220.5 121.0 219.8C126.8 219.1 128.9 218.0 133.5 216.0C138.1 214.0 146.0 209.2 148.5 207.9" class="m"/><path d="M120.8 200.2V219.6" class="m"/><path d="M0.0 202.2C1.2 203.9 5.3 209.4 7.5 212.2C9.7 215.0 12.5 217.7 13.1 219.0C13.7 220.3 13.2 219.8 11.0 220.0C8.8 220.2 1.8 220.0 0.0 220.0" class="m"/><path d="M0.0 224.2C10.0 224.3 44.0 224.5 60.0 224.6C76.0 224.7 83.8 224.9 96.0 224.6C108.2 224.3 122.2 223.6 133.5 222.9C144.8 222.2 155.2 221.1 163.5 220.4C171.8 219.7 179.2 218.9 183.5 218.5C187.8 218.1 188.1 218.0 189.0 217.9" class="m"/><path d="M0.0 229.9C16.0 229.9 69.6 229.9 96.0 229.9C122.4 229.9 143.9 230.0 158.5 230.0C173.1 230.0 178.9 230.2 183.5 229.7C188.1 229.2 185.1 229.1 186.0 227.2C186.9 225.3 188.5 219.9 189.0 218.5" class="m"/><path d="M164 221L159.7 230.4" class="m"/><path d="M0.0 234.6C16.0 234.6 74.2 234.7 96.0 234.8C117.8 234.9 123.9 234.9 131.0 235.4C138.1 235.9 132.2 237.5 138.5 237.9C144.8 238.3 162.5 238.4 168.5 237.9C174.5 237.4 173.5 235.9 174.7 234.7C175.8 233.4 175.3 231.1 175.4 230.4" class="m"/><path d="M156 238L156.5 253Q157 259 163 259H188.5Q195 259 195.3 253L195.8 238V176" class="m"/><path d="M106.2 167.0C106.8 169.8 106.4 171.4 106.2 176.0C106.0 180.6 106.0 189.5 105.0 194.7C104.0 199.9 102.5 203.6 100.0 207.2C97.5 210.8 93.3 214.1 90.0 216.0C86.7 217.9 84.6 218.2 80.0 218.7C75.4 219.1 66.2 219.1 62.5 218.7C58.8 218.2 59.0 217.5 58.0 216.0C57.0 214.5 56.5 216.4 56.2 209.7C55.9 203.0 56.0 183.3 56.0 176.0C56.0 168.7 55.8 168.6 56.2 166.0C56.7 163.4 57.7 162.1 58.7 160.5C59.8 158.9 61.0 157.5 62.5 156.5C64.0 155.5 62.1 154.7 67.5 154.3C72.9 153.9 89.2 153.0 95.0 153.9C100.8 154.8 100.6 157.3 102.5 159.5C104.4 161.7 105.6 164.2 106.2 167.0Z" class="m"/><path d="M2.6 167.0C2.0 169.8 2.4 171.4 2.6 176.0C2.8 180.6 2.8 189.5 3.8 194.7C4.8 199.9 6.3 203.6 8.8 207.2C11.3 210.8 15.5 214.1 18.8 216.0C22.1 217.9 24.2 218.2 28.8 218.7C33.4 219.1 42.6 219.1 46.3 218.7C50.0 218.2 49.8 217.5 50.8 216.0C51.8 214.5 52.3 216.4 52.6 209.7C52.9 203.0 52.8 183.3 52.8 176.0C52.8 168.7 53.0 168.6 52.6 166.0C52.1 163.4 51.1 162.1 50.1 160.5C49.0 158.9 47.8 157.5 46.3 156.5C44.8 155.5 46.7 154.7 41.3 154.3C35.9 153.9 19.6 153.0 13.8 153.9C8.0 154.8 8.2 157.3 6.3 159.5C4.4 161.7 3.2 164.2 2.6 167.0Z" class="m"/><path d="M42.5 146.4C43.1 147.9 45.0 153.2 46.2 155.7C47.5 158.2 48.6 160.2 50.0 161.4C51.4 162.7 52.9 163.2 54.4 163.2C55.9 163.2 57.4 162.7 58.7 161.4C60.1 160.2 61.5 158.2 62.5 155.7C63.5 153.2 64.6 147.9 65.0 146.4" class="m"/><path d="M104.4 159.5C106.3 158.9 112.1 157.2 116.0 156.2C119.9 155.1 126.0 153.7 128.0 153.2" class="m"/><circle cx="54.4" cy="152.6" r="5.7" fill="#3a3a3a"/><circle cx="54.4" cy="152.8" r="3.2" fill="#fff"/><path d="M54.4 152.8V149.6A3.2 3.2 0 0 0 51.2 152.8ZM54.4 152.8V156A3.2 3.2 0 0 0 57.6 152.8Z" fill="#222"/></g>
<g id="side"><ellipse cx="791.1" cy="144.9" rx="15.6" ry="6.4" transform="rotate(-3 791.1 144.9)" class="m"/><path d="M692.6 116.5C692.8 116.3 693.0 115.4 693.5 115.2C694.0 115.0 693.7 113.2 695.3 115.3C696.9 117.4 700.0 121.0 703.0 128.0C706.0 135.0 711.8 152.5 713.6 157.4" class="l"/><path d="M692.1 117.0C692.9 118.8 693.9 121.3 696.7 128.0C699.6 134.7 707.1 152.5 709.2 157.4" class="l"/><path d="M797.2 98.0C797.5 95.9 797.5 93.0 798.5 91.7C799.5 90.4 801.4 89.9 803.5 89.9C805.6 89.9 808.5 89.9 811.0 91.7C813.5 93.5 816.6 97.0 818.5 100.5C820.4 104.0 821.8 109.9 822.2 113.0C822.6 116.1 822.9 118.0 821.0 119.2C819.1 120.4 814.3 119.7 811.0 119.9C807.7 120.1 803.3 121.2 801.0 120.5C798.7 119.8 797.9 118.2 797.2 115.5C796.5 112.8 796.6 107.1 796.6 104.2C796.6 101.3 796.9 100.1 797.2 98.0Z" class="l"/><path d="M714.5 213.5C714.6 212.9 715.5 211.8 715.1 209.7C714.7 207.6 713.0 203.5 712.0 201.0C711.0 198.5 709.3 196.6 708.9 194.7C708.5 192.8 707.8 190.9 709.5 189.5C711.2 188.1 715.3 186.7 719.2 186.1C723.1 185.5 728.8 185.0 733.0 185.7C737.2 186.4 740.5 188.7 744.2 190.5C748.0 192.3 752.4 195.3 755.5 196.7C758.6 198.0 760.9 198.7 763.0 198.6C765.1 198.5 767.3 198.1 768.0 196.1C768.7 194.1 767.8 190.1 767.4 186.7C767.0 183.3 765.2 179.0 765.5 175.5C765.8 172.0 767.1 169.1 769.2 165.5C771.3 161.9 774.9 158.2 778.0 154.2C781.1 150.2 784.9 145.6 788.0 141.7C791.1 137.8 793.7 133.9 796.7 130.5C799.7 127.0 804.5 122.6 806.0 121.0" class="l"/><path d="M820.2 114.5C819.8 116.8 819.5 122.6 817.5 128.0C815.5 133.4 810.8 141.5 808.0 146.7C805.2 151.9 802.6 154.0 800.5 159.2C798.4 164.4 797.0 171.8 795.5 178.0C794.0 184.2 793.2 191.7 791.7 196.7C790.2 201.7 788.6 205.3 786.7 208.0C784.8 210.7 783.2 211.8 780.5 213.0C777.8 214.2 772.5 214.7 770.5 215.5C768.5 216.3 768.6 217.2 768.6 218.0C768.6 218.8 770.2 220.1 770.5 220.5" class="l"/><path d="M811.5 118.0C810.5 119.3 807.7 123.2 805.2 126.0C802.7 128.8 799.4 131.9 796.5 135.0C793.6 138.1 789.2 142.9 787.7 144.5" class="l"/><path d="M708.2 217.2C711.5 217.8 721.7 219.8 728.2 221.0C734.7 222.2 739.8 223.4 747.0 224.1C754.2 224.8 767.3 225.2 771.4 225.4" class="l"/><path d="M771.4 225.4V219.7" class="l"/><path d="M899.0 122.0C898.6 124.5 897.8 131.8 896.5 137.0C895.2 142.2 894.0 147.4 891.5 153.2C889.0 159.0 884.5 166.2 881.5 172.0C878.5 177.8 877.1 185.7 873.4 187.9C869.6 190.1 864.5 186.1 859.0 185.4C853.5 184.7 845.6 183.7 840.2 183.5C834.8 183.3 829.8 183.3 826.5 184.1C823.2 184.9 821.8 186.7 820.2 188.5C818.6 190.3 816.9 194.2 817.1 194.7C817.3 195.2 819.1 192.0 821.5 191.6C823.9 191.2 828.0 191.0 831.5 192.2C835.0 193.3 839.0 196.3 842.7 198.5C846.5 200.7 850.2 203.3 854.0 205.4C857.8 207.5 861.9 210.0 865.2 211.0C868.5 212.0 869.8 211.8 874.0 211.6C878.2 211.4 887.1 211.5 890.2 209.7C893.3 207.9 891.2 203.7 892.7 201.0C894.2 198.3 897.1 196.0 899.0 193.5C900.9 191.0 902.5 188.5 904.0 186.0C905.5 183.5 905.9 181.8 907.7 178.5C909.5 175.2 912.5 170.6 914.7 166.0C916.9 161.4 919.0 156.4 921.0 151.0C923.0 145.6 925.8 139.0 926.6 133.5C927.4 128.0 926.6 121.4 926.0 118.0C925.4 114.6 925.6 113.7 923.0 113.0C920.4 112.3 913.8 113.2 910.5 113.6C907.2 114.0 905.1 113.5 903.0 115.5C900.9 117.5 898.8 123.8 898.0 125.5" class="l"/><path d="M900.5 110.5C900.2 107.8 900.0 98.9 900.2 95.5C900.4 92.1 900.7 91.2 901.7 89.9C902.7 88.6 904.6 87.7 906.1 87.7C907.6 87.7 909.5 88.2 910.5 89.9C911.5 91.6 911.7 94.7 912.0 98.0C912.3 101.3 913.1 107.7 912.4 109.9C911.7 112.1 909.8 110.8 908.0 111.1C906.2 111.4 903.0 111.8 901.7 111.7C900.5 111.6 900.8 113.2 900.5 110.5Z" class="l"/><path d="M427.9 164.5C429.7 163.2 434.2 158.9 438.5 156.4C442.8 153.9 447.9 151.8 453.5 149.5C459.1 147.2 465.9 144.7 472.2 142.6C478.4 140.5 484.8 138.7 491.0 137.0C497.2 135.3 503.4 133.8 509.7 132.6C516.0 131.4 521.3 130.6 528.5 129.6C535.7 128.6 544.8 127.4 553.0 126.6C561.2 125.8 569.7 125.2 578.0 124.8C586.3 124.4 595.7 124.1 603.0 124.1C610.3 124.1 616.5 124.4 621.7 124.7C626.9 125.0 629.7 125.8 634.2 126.0C638.8 126.2 646.5 126.0 649.0 126.0" class="m"/><path d="M427.9 164.5C427.4 164.9 425.6 164.9 424.7 167.0C423.8 169.1 422.7 173.2 422.3 177.0C421.9 180.8 422.3 186.5 422.5 189.5C422.7 192.5 422.8 191.8 423.5 195.0C424.2 198.2 425.7 204.5 426.6 208.5C427.5 212.5 428.5 216.4 429.1 219.0C429.8 221.6 430.3 223.2 430.5 224.0" class="m"/><path d="M427.9 164.5C428.0 166.6 428.1 172.8 428.3 177.0C428.5 181.2 428.8 185.2 429.1 190.0C429.5 194.8 430.1 200.3 430.4 206.0C430.7 211.7 430.9 221.0 431.0 224.0" class="m"/><path d="M450.4 158.9C453.0 157.8 460.3 154.6 466.0 152.6C471.7 150.6 478.4 148.8 484.7 147.0C490.9 145.2 497.2 143.5 503.5 142.0C509.8 140.5 514.0 139.4 522.2 138.2C530.5 137.0 543.7 135.6 553.0 134.7C562.3 133.8 569.7 133.4 578.0 132.9C586.3 132.4 596.3 132.0 603.0 131.6C609.7 131.2 613.8 131.1 618.0 130.7C622.2 130.3 624.2 129.6 628.0 129.1C631.8 128.6 637.2 128.4 640.5 127.9C643.8 127.4 646.8 126.3 648.0 126.0" class="m"/><path d="M438.5 156.4L450.4 162" class="m"/><path d="M428.5 169.5C432.1 168.2 444.1 163.9 450.4 162.0C456.6 160.1 461.1 159.3 466.0 158.2C470.9 157.0 474.5 156.3 479.7 155.1C484.9 153.8 491.1 152.1 497.2 150.7C503.2 149.2 510.9 147.5 516.0 146.4C521.1 145.3 521.8 145.0 528.0 144.1C534.2 143.2 544.7 141.9 553.0 141.0C561.3 140.1 569.7 139.2 578.0 138.5C586.3 137.8 597.0 137.2 603.0 136.6C609.0 136.0 610.9 135.7 614.2 134.7C617.5 133.7 620.5 131.7 623.0 130.4C625.5 129.2 627.1 128.0 629.2 127.2C631.3 126.4 634.5 126.0 635.5 125.8" class="m"/><path d="M442.0 165.5C441.5 165.8 439.8 166.6 439.2 167.5C438.6 168.4 438.3 169.3 438.5 170.7C438.7 172.1 439.1 174.5 440.4 175.7C441.6 176.8 442.8 177.6 446.0 177.6C449.2 177.6 455.3 176.4 459.7 175.7C464.1 175.0 468.0 174.3 472.2 173.2C476.4 172.1 480.7 170.6 484.7 168.9C488.7 167.2 492.9 164.8 496.0 163.2C499.1 161.6 502.2 160.1 503.5 159.5" class="m"/><path d="M479.7 155.1C481.6 155.2 487.0 154.9 491.0 155.5C495.0 156.1 500.2 157.6 503.5 158.9C506.8 160.2 508.5 161.8 511.0 163.2C513.5 164.6 517.2 166.9 518.5 167.6" class="m"/><path d="M429.1 186.7C432.1 185.8 441.1 183.0 447.2 181.4C453.3 179.8 459.8 178.2 466.0 177.0C472.2 175.8 479.7 174.5 484.7 174.1C489.7 173.7 494.1 174.4 496.0 174.5" class="m"/><path d="M446.6 191.0C448.4 190.6 454.4 188.8 457.2 188.5C460.0 188.2 461.6 187.8 463.5 189.5C465.4 191.2 467.2 195.1 468.5 198.5C469.8 201.9 471.0 206.4 471.0 209.7C471.0 213.0 469.3 216.2 468.5 218.5C467.7 220.8 466.4 222.7 466.0 223.5" class="m"/><path d="M462.9 189.7C462.6 191.6 461.2 197.4 461.0 201.0C460.8 204.6 460.8 208.1 461.6 211.0C462.4 213.9 465.3 217.2 466.0 218.5" class="m"/><path d="M431.0 206.0C432.7 206.0 438.5 205.2 441.0 206.0C443.5 206.8 444.6 208.9 446.0 211.0C447.4 213.1 448.7 216.3 449.7 218.5C450.7 220.7 451.8 223.1 452.2 224.0" class="m"/><path d="M435.4 206.6V222.9M436.6 222.9L447.2 215.4" class="m"/><path d="M487.2 222.0C484.7 222.2 477.8 222.8 472.2 223.2C466.6 223.6 460.6 224.5 453.5 224.7C446.4 224.8 434.6 224.0 429.7 224.1C424.8 224.2 425.2 224.9 424.0 225.3C422.8 225.8 422.0 226.2 422.3 226.8C422.6 227.4 422.9 228.4 426.0 229.1C429.1 229.8 434.3 230.6 441.0 231.2C447.7 231.8 456.6 232.6 466.0 232.9C475.4 233.2 492.0 233.2 497.2 233.3" class="m"/><path d="M481.6 221.0C481.7 218.1 481.5 208.9 482.2 203.5C482.9 198.1 484.3 193.1 486.0 188.5C487.7 183.9 489.8 179.7 492.2 176.0C494.6 172.3 497.2 168.8 500.3 166.2C503.4 163.6 506.4 162.1 511.0 160.6C515.6 159.1 522.7 157.7 528.0 157.0C533.3 156.3 537.8 155.8 543.0 156.2C548.2 156.6 553.8 157.4 559.2 159.7C564.6 161.9 571.1 166.5 575.5 169.7C579.9 172.9 582.5 175.4 585.5 179.0C588.5 182.6 591.5 186.3 593.7 191.0C595.9 195.7 597.5 202.0 598.7 207.2C600.0 212.4 600.8 219.7 601.2 222.2" class="m"/><path d="M489.1 232.2C488.9 228.7 487.6 217.2 487.9 211.0C488.2 204.8 489.6 199.3 491.0 194.7C492.4 190.1 493.9 186.6 496.0 183.5C498.1 180.4 500.5 178.6 503.5 176.0C506.5 173.4 509.9 170.1 514.0 168.0C518.1 165.9 522.5 164.4 528.0 163.5C533.5 162.6 540.5 161.7 546.7 162.5C553.0 163.3 560.3 165.8 565.5 168.5C570.7 171.2 574.8 175.2 578.0 178.5C581.2 181.8 582.8 184.3 585.0 188.5C587.2 192.7 589.8 198.3 591.2 203.5C592.7 208.7 593.2 213.9 593.7 219.7C594.2 225.5 594.3 235.4 594.4 238.5" class="m"/><path d="M594.4 222.9L688 221L768 219.5" class="m"/><path d="M594.4 230L700 230L879 229.7" class="m"/><path d="M578.7 238.5L672 237.5L800 235.7L879 234.1L889 233.7" class="m"/><path d="M621.1 172.9C620.1 176.1 616.8 185.7 614.9 192.0C613.0 198.3 610.9 207.2 610.0 211.0C609.1 214.8 609.0 213.7 609.4 214.7C609.8 215.7 608.5 216.9 612.5 217.2C616.5 217.5 630.2 216.7 633.7 216.6" class="m"/><path d="M633.7 216.6C642.8 216.3 671.2 215.2 688.0 214.6C704.8 214.0 719.9 213.7 734.5 212.9C749.1 212.1 764.1 210.8 775.5 209.7C786.9 208.6 793.0 208.0 802.7 206.6C812.5 205.2 824.6 202.8 834.0 201.0C843.4 199.2 854.8 196.6 859.0 195.7" class="m"/><path d="M656.0 122.2C654.2 123.5 648.7 127.2 645.5 129.7C642.3 132.2 639.0 134.5 636.7 137.2C634.4 139.9 632.8 142.4 631.7 146.0C630.6 149.6 630.4 153.3 630.2 158.5C630.0 163.7 630.3 170.1 630.7 177.2C631.1 184.3 632.0 194.5 632.5 201.0C633.0 207.5 633.3 212.5 633.7 216.0C634.1 219.5 634.8 221.2 635.0 222.2" class="m"/><path d="M588.6 168.1C595.2 167.6 616.8 165.9 628.0 165.1C639.2 164.3 646.0 164.2 656.0 163.5C666.0 162.8 676.4 161.9 688.0 161.1C699.6 160.3 713.0 159.3 725.5 158.6C738.0 157.9 747.9 157.4 763.0 156.7C778.1 156.0 804.2 154.8 816.0 154.2C827.8 153.6 820.2 153.6 834.0 153.2C847.8 152.8 888.2 151.9 899.0 151.7" class="m"/><path d="M621.7 124.7C626.2 121.7 640.3 112.2 649.0 106.7C657.7 101.2 665.7 96.3 674.0 91.7C682.3 87.1 692.8 82.1 699.0 79.2C705.2 76.3 707.3 75.7 711.5 74.2C715.7 72.8 719.8 71.4 724.0 70.5C728.2 69.6 731.8 69.2 736.5 68.6C741.2 68.0 745.6 67.2 752.0 66.7C758.4 66.2 767.2 65.8 775.0 65.5C782.8 65.2 788.3 64.9 798.5 65.1C808.7 65.3 827.8 66.1 836.0 66.5C844.2 66.9 841.8 66.6 848.0 67.4C854.2 68.2 864.7 69.5 873.0 71.1C881.3 72.6 890.9 74.8 898.0 76.7C905.1 78.6 909.2 80.0 915.5 82.4C921.8 84.8 929.0 88.1 935.5 91.1C942.0 94.1 949.0 97.8 954.2 100.5C959.4 103.2 963.5 105.6 966.7 107.4C969.9 109.2 972.4 110.7 973.5 111.4" class="m"/><path d="M745.0 69.2C750.0 68.9 766.1 67.6 775.0 67.2C783.9 66.8 788.3 66.6 798.5 66.8C808.7 67.0 825.8 67.5 836.0 68.2C846.2 68.9 856.0 70.4 860.0 70.8" class="m"/><path d="M641.7 126.0C645.0 124.0 654.0 118.9 661.5 114.2C669.0 109.5 678.2 103.3 686.5 98.0C694.8 92.7 705.2 85.8 711.5 82.4C717.8 79.0 719.8 78.7 724.0 77.4C728.2 76.1 730.3 75.5 736.5 74.4C742.7 73.4 750.7 71.8 761.0 71.1C771.3 70.3 786.0 69.9 798.5 69.9C811.0 69.9 827.8 70.8 836.0 71.1C844.2 71.4 841.8 71.0 848.0 71.6C854.2 72.2 864.7 73.3 873.0 74.9C881.3 76.5 890.9 79.2 898.0 81.1C905.1 83.0 909.2 83.8 915.5 86.1C921.8 88.4 929.0 91.8 935.5 94.9C942.0 98.0 948.9 102.0 954.2 104.9C959.5 107.8 965.3 111.2 967.5 112.4" class="m"/><path d="M712.7 74.9L719 79.2M914.2 83L915.5 86.1M954.9 106.1L962.4 104.5" class="m"/><path d="M632.7 144.0C633.5 142.6 635.0 138.5 637.7 135.5C640.4 132.5 644.4 129.3 649.0 126.1C653.6 122.9 659.0 119.9 665.2 116.1C671.5 112.2 678.8 107.5 686.5 103.0C694.2 98.5 704.2 92.6 711.5 89.2C718.8 85.8 723.0 84.2 730.2 82.4C737.4 80.6 746.5 79.4 754.7 78.6C763.0 77.8 771.4 77.7 779.7 77.7C788.0 77.7 797.4 78.1 804.7 78.6C812.0 79.1 817.2 79.5 823.5 80.7C829.8 81.9 836.0 83.5 842.2 85.5C848.4 87.5 855.4 90.3 860.5 93.0C865.6 95.7 869.5 98.8 873.0 101.7C876.5 104.6 879.8 108.2 881.7 110.5C883.6 112.8 884.6 113.9 884.2 115.5C883.8 117.1 880.0 119.2 879.2 120.0" class="m"/><path d="M624.0 130.5C625.2 130.4 628.4 130.6 631.5 129.9C634.6 129.2 640.8 126.7 642.7 126.1" class="m"/><path d="M667.1 116.7C667.5 114.8 668.0 112.8 670.2 111.7C672.4 110.6 677.3 110.1 680.2 109.9C683.1 109.7 685.8 109.8 687.7 110.5C689.6 111.2 690.8 112.1 691.5 114.2C692.2 116.3 692.5 120.8 692.1 123.0C691.7 125.2 691.0 126.5 689.0 127.4C687.0 128.3 683.1 128.6 680.2 128.6C677.3 128.6 673.6 128.3 671.5 127.4C669.4 126.5 668.4 124.8 667.7 123.0C667.0 121.2 666.7 118.6 667.1 116.7Z" class="m"/><path d="M642.7 134.5C650.0 134.0 671.0 132.6 686.5 131.7C702.0 130.8 721.5 129.8 736.0 129.0C750.5 128.2 761.0 127.5 773.5 126.7C786.0 125.9 798.8 124.9 811.0 124.2C823.2 123.5 835.1 123.1 846.5 122.6C857.9 122.1 869.6 121.7 879.2 121.1C888.8 120.5 894.8 120.0 904.2 119.2C913.6 118.4 926.1 117.0 935.5 116.1C944.9 115.2 954.2 114.3 960.5 113.6C966.8 112.8 971.3 111.9 973.5 111.6" class="m"/><path d="M821.6 80.7L806 124.9M827.9 81.7L817.2 124.2" class="m"/><path d="M816.5 124.5C817.3 126.6 820.2 132.2 821.5 137.0C822.8 141.8 824.0 148.0 824.0 153.2C824.0 158.4 822.8 163.0 821.5 168.2C820.2 173.4 818.1 179.5 816.5 184.5C814.9 189.5 813.5 193.9 811.7 198.0C809.9 202.1 807.8 206.3 805.5 209.2C803.2 212.1 800.9 214.0 798.0 215.5C795.1 217.0 793.0 217.3 788.0 218.0C783.0 218.7 771.3 219.4 768.0 219.7" class="m"/><path d="M973.5 111.3C977.2 111.7 987.6 112.8 996.0 113.5C1004.4 114.2 1019.3 115.3 1024.0 115.7" class="m"/><path d="M903.5 119.3L958.5 119.5L1024 119.8" class="m"/><path d="M903.5 119.7C904.3 120.4 906.0 122.8 908.5 124.1C911.0 125.3 910.2 126.5 918.5 127.2C926.8 127.9 943.5 127.9 958.5 128.2C973.5 128.4 997.6 129.2 1008.5 128.7C1019.4 128.2 1021.4 126.0 1024.0 125.4" class="m"/><path d="M1011.0 129.1C1009.5 129.7 1004.1 131.6 1002.2 132.9C1000.3 134.2 999.5 135.8 999.7 137.2C999.9 138.5 1001.0 139.6 1003.5 141.0C1006.0 142.4 1011.3 144.2 1014.7 145.4C1018.1 146.7 1022.5 148.0 1024.0 148.5" class="m"/><path d="M1011 131.6H1024" class="m"/><path d="M963.5 172.0C966.8 171.4 977.0 169.8 983.5 168.5C990.0 167.2 997.0 165.4 1002.2 164.1C1007.4 162.8 1011.6 161.8 1014.7 160.4C1017.8 159.1 1019.5 157.6 1021.0 156.0C1022.5 154.4 1023.5 151.8 1024.0 151.0" class="m"/><path d="M982.2 171.0C985.5 170.3 995.2 168.2 1002.2 166.6C1009.2 165.0 1020.4 162.4 1024.0 161.6" class="m"/><path d="M872.1 229.7C872.1 227.4 871.9 220.4 872.1 216.0C872.3 211.6 872.2 208.1 873.4 203.5C874.5 198.9 876.6 193.1 879.0 188.5C881.4 183.9 884.9 179.3 887.7 176.0C890.5 172.7 892.5 171.0 896.0 168.5C899.5 166.0 904.3 162.9 908.5 161.0C912.7 159.1 916.8 158.0 921.0 157.2C925.2 156.4 928.9 156.0 933.5 156.2C938.1 156.4 943.5 156.9 948.5 158.5C953.5 160.1 958.9 162.9 963.5 166.0C968.1 169.1 972.2 173.2 976.0 177.0C979.8 180.8 983.5 184.5 986.0 188.5C988.5 192.5 989.9 197.2 991.0 201.0C992.1 204.8 992.6 209.3 992.9 211.0" class="m"/><path d="M880.0 234.1C879.9 230.7 879.1 219.4 879.6 213.5C880.1 207.6 881.1 203.1 882.7 198.5C884.3 193.9 886.3 189.8 889.0 186.0C891.7 182.2 895.8 178.4 899.0 175.5C902.2 172.6 904.8 170.4 908.5 168.5C912.2 166.6 916.8 165.0 921.0 164.1C925.2 163.2 928.9 162.6 933.5 162.9C938.1 163.2 943.7 164.2 948.5 166.0C953.3 167.8 958.5 170.8 962.2 173.5C966.0 176.2 968.5 179.7 971.0 182.2C973.5 184.7 975.1 184.9 977.2 188.5C979.3 192.1 982.0 198.7 983.5 203.5C985.0 208.3 985.5 213.1 986.0 217.2C986.5 221.3 986.5 226.1 986.6 227.9" class="m"/><path d="M991 197.9L1024 195.4M986.6 224.7L1024 218.5" class="m"/><path d="M976.0 229.7C977.9 229.5 979.2 229.8 987.2 228.5C995.2 227.2 1017.9 223.1 1024.0 222.0" class="m"/><circle cx="540.1" cy="214.1" r="45" class="m"/><circle cx="540.1" cy="214.1" r="31" class="m"/><path d="M550.2 184.8L548.2 190.5L548.2 190.5C547.8 191.2 546.4 193.3 545.4 194.8C544.5 196.4 543.3 198.7 542.4 199.8C541.5 200.9 540.9 201.5 540.1 201.5C539.3 201.5 538.7 200.9 537.8 199.8C536.9 198.7 535.7 196.4 534.8 194.8C533.8 193.3 532.4 191.2 532.0 190.5L530.0 184.8M548.2 190.5A25 25 0 0 0 532.0 190.5M519.8 190.7L523.7 195.2L523.7 195.2C524.1 196.0 525.2 198.2 526.1 199.8C526.9 201.5 528.3 203.6 528.8 205.0C529.3 206.3 529.6 207.1 529.2 207.8C528.8 208.5 528.0 208.7 526.6 208.9C525.2 209.1 522.6 209.0 520.7 209.1C518.9 209.2 516.4 209.3 515.6 209.3L509.7 208.2M523.7 195.2A25 25 0 0 0 515.6 209.3M509.7 220.0L515.6 218.9L515.6 218.9C516.4 218.9 518.9 219.0 520.7 219.1C522.6 219.2 525.2 219.1 526.6 219.3C528.0 219.5 528.8 219.7 529.2 220.4C529.6 221.1 529.3 221.9 528.8 223.2C528.3 224.6 526.9 226.7 526.1 228.4C525.2 230.0 524.1 232.2 523.7 233.0L519.8 237.5M515.6 218.9A25 25 0 0 0 523.7 233.0M530.0 243.4L532.0 237.7L532.0 237.7C532.4 237.0 533.8 234.9 534.8 233.4C535.7 231.8 536.9 229.5 537.8 228.4C538.7 227.3 539.3 226.7 540.1 226.7C540.9 226.7 541.5 227.3 542.4 228.4C543.3 229.5 544.5 231.8 545.4 233.4C546.4 234.9 547.8 237.0 548.2 237.7L550.2 243.4M532.0 237.7A25 25 0 0 0 548.2 237.7M560.4 237.5L556.5 233.0L556.5 233.0C556.1 232.2 555.0 230.0 554.1 228.4C553.3 226.7 551.9 224.6 551.4 223.2C550.9 221.9 550.6 221.1 551.0 220.4C551.4 219.7 552.2 219.5 553.6 219.3C555.0 219.1 557.6 219.2 559.5 219.1C561.3 219.0 563.8 218.9 564.6 218.9L570.5 220.0M556.5 233.0A25 25 0 0 0 564.6 218.9M570.5 208.2L564.6 209.3L564.6 209.3C563.8 209.3 561.3 209.2 559.5 209.1C557.6 209.0 555.0 209.1 553.6 208.9C552.2 208.7 551.4 208.5 551.0 207.8C550.6 207.1 550.9 206.3 551.4 205.0C551.9 203.6 553.3 201.5 554.1 199.8C555.0 198.2 556.1 196.0 556.5 195.2L560.4 190.7M564.6 209.3A25 25 0 0 0 556.5 195.2" class="m"/><circle cx="540.1" cy="214.1" r="2.6" class="m"/><circle cx="540.1" cy="207.2" r="2.2" class="m"/><path d="M540.1 211.5L540.1 209.4" class="m"/><circle cx="533.5" cy="212.0" r="2.2" class="m"/><path d="M537.6 213.3L535.6 212.6" class="m"/><circle cx="536.0" cy="219.7" r="2.2" class="m"/><path d="M538.6 216.2L537.3 217.9" class="m"/><circle cx="544.2" cy="219.7" r="2.2" class="m"/><path d="M541.6 216.2L542.9 217.9" class="m"/><circle cx="546.7" cy="212.0" r="2.2" class="m"/><path d="M542.6 213.3L544.6 212.6" class="m"/><circle cx="931.3" cy="214.1" r="45" class="m"/><circle cx="931.3" cy="214.1" r="31" class="m"/><path d="M941.4 184.8L939.4 190.5L939.4 190.5C939.0 191.2 937.6 193.3 936.6 194.8C935.7 196.4 934.5 198.7 933.6 199.8C932.7 200.9 932.1 201.5 931.3 201.5C930.5 201.5 929.9 200.9 929.0 199.8C928.1 198.7 926.9 196.4 926.0 194.8C925.0 193.3 923.6 191.2 923.2 190.5L921.2 184.8M939.4 190.5A25 25 0 0 0 923.2 190.5M911.0 190.7L914.9 195.2L914.9 195.2C915.3 196.0 916.4 198.2 917.3 199.8C918.1 201.5 919.5 203.6 920.0 205.0C920.5 206.3 920.8 207.1 920.4 207.8C920.0 208.5 919.2 208.7 917.8 208.9C916.4 209.1 913.8 209.0 911.9 209.1C910.1 209.2 907.6 209.3 906.8 209.3L900.9 208.2M914.9 195.2A25 25 0 0 0 906.8 209.3M900.9 220.0L906.8 218.9L906.8 218.9C907.6 218.9 910.1 219.0 911.9 219.1C913.8 219.2 916.4 219.1 917.8 219.3C919.2 219.5 920.0 219.7 920.4 220.4C920.8 221.1 920.5 221.9 920.0 223.2C919.5 224.6 918.1 226.7 917.3 228.4C916.4 230.0 915.3 232.2 914.9 233.0L911.0 237.5M906.8 218.9A25 25 0 0 0 914.9 233.0M921.2 243.4L923.2 237.7L923.2 237.7C923.6 237.0 925.0 234.9 926.0 233.4C926.9 231.8 928.1 229.5 929.0 228.4C929.9 227.3 930.5 226.7 931.3 226.7C932.1 226.7 932.7 227.3 933.6 228.4C934.5 229.5 935.7 231.8 936.6 233.4C937.6 234.9 939.0 237.0 939.4 237.7L941.4 243.4M923.2 237.7A25 25 0 0 0 939.4 237.7M951.6 237.5L947.7 233.0L947.7 233.0C947.3 232.2 946.2 230.0 945.3 228.4C944.5 226.7 943.1 224.6 942.6 223.2C942.1 221.9 941.8 221.1 942.2 220.4C942.6 219.7 943.4 219.5 944.8 219.3C946.2 219.1 948.8 219.2 950.7 219.1C952.5 219.0 955.0 218.9 955.8 218.9L961.7 220.0M947.7 233.0A25 25 0 0 0 955.8 218.9M961.7 208.2L955.8 209.3L955.8 209.3C955.0 209.3 952.5 209.2 950.7 209.1C948.8 209.0 946.2 209.1 944.8 208.9C943.4 208.7 942.6 208.5 942.2 207.8C941.8 207.1 942.1 206.3 942.6 205.0C943.1 203.6 944.5 201.5 945.3 199.8C946.2 198.2 947.3 196.0 947.7 195.2L951.6 190.7M955.8 209.3A25 25 0 0 0 947.7 195.2" class="m"/><circle cx="931.3" cy="214.1" r="2.6" class="m"/><circle cx="931.3" cy="207.2" r="2.2" class="m"/><path d="M931.3 211.5L931.3 209.4" class="m"/><circle cx="924.7" cy="212.0" r="2.2" class="m"/><path d="M928.8 213.3L926.8 212.6" class="m"/><circle cx="927.2" cy="219.7" r="2.2" class="m"/><path d="M929.8 216.2L928.5 217.9" class="m"/><circle cx="935.4" cy="219.7" r="2.2" class="m"/><path d="M932.8 216.2L934.1 217.9" class="m"/><circle cx="937.9" cy="212.0" r="2.2" class="m"/><path d="M933.8 213.3L935.8 212.6" class="m"/><path d="M781 79.2L777.9 90.5M771 119.2L755.2 193" class="m"/><path d="M781.3 78.6L781.8 84.3L778.7 83.6ZM755 193.8L754.5 188.1L757.6 188.8Z" class="a"/><text transform="translate(775.8 117) rotate(-77.4)" textLength="26.5" lengthAdjust="spacingAndGlyphs">1030</text><path d="M859.8 94L860 101M860.4 121.5L862.1 185.8" class="m"/><path d="M859.8 93.2L861.4 98.7L858.2 98.7ZM862.1 186.6L860.4 181.1L863.6 181Z" class="a"/><text transform="translate(864.2 119.9) rotate(-90)" textLength="17.3" lengthAdjust="spacingAndGlyphs">918</text></g>
<g id="top"><ellipse cx="263.4" cy="449.1" rx="15.3" ry="3.7" class="m"/><ellipse cx="263.4" cy="691.3" rx="15.3" ry="3.7" class="m"/><rect x="363.9" y="446.6" width="32.9" height="8.2" rx="4.1" class="m"/><rect x="363.9" y="685.6" width="32.9" height="8.2" rx="4.1" class="m"/><path d="M181.9 493.7C181.4 497.7 179.5 510.4 178.7 517.5C177.9 524.6 176.7 531.8 176.9 536.2C177.1 540.6 178.2 541.7 180.0 543.7C181.8 545.8 182.5 547.2 187.5 548.5C192.5 549.8 201.7 550.8 210.0 551.5C218.3 552.2 232.9 552.3 237.5 552.5" class="l"/><path d="M181.9 646.7C181.4 642.7 179.5 630.0 178.7 622.9C177.9 615.8 176.7 608.6 176.9 604.2C177.1 599.8 178.2 598.8 180.0 596.7C181.8 594.7 182.5 593.2 187.5 591.9C192.5 590.6 201.7 589.6 210.0 588.9C218.3 588.2 232.9 588.1 237.5 587.9" class="l"/><path d="M197.5 495.6L197.5 541.2" class="l"/><path d="M197.5 644.8L197.5 599.2" class="l"/><path d="M178.7 541.2C181.8 541.2 188.1 541.2 197.5 541.2C206.9 541.2 227.9 541.7 235.0 541.0C242.1 540.3 239.1 540.5 240.0 537.0C240.9 533.5 240.5 525.3 240.6 520.0C240.7 514.7 241.0 508.4 240.6 505.0C240.2 501.6 240.6 500.9 238.0 499.5C235.4 498.1 231.8 497.4 225.0 496.8C218.2 496.2 202.1 495.8 197.5 495.6" class="l"/><path d="M178.7 599.2C181.8 599.2 188.1 599.2 197.5 599.2C206.9 599.2 227.9 598.7 235.0 599.4C242.1 600.1 239.1 599.9 240.0 603.4C240.9 606.9 240.5 615.1 240.6 620.4C240.7 625.7 241.0 632.0 240.6 635.4C240.2 638.8 240.6 639.5 238.0 640.9C235.4 642.3 231.8 643.0 225.0 643.6C218.2 644.3 202.1 644.6 197.5 644.8" class="l"/><path d="M180.5 493.0C181.1 492.4 181.2 490.8 184.0 489.5C186.8 488.2 192.3 486.4 197.0 485.5C201.7 484.6 209.5 484.5 212.0 484.3" class="l"/><path d="M180.5 647.4C181.1 648.0 181.2 649.7 184.0 650.9C186.8 652.2 192.3 654.0 197.0 654.9C201.7 655.8 209.5 655.9 212.0 656.1" class="l"/><path d="M280.0 486.2C278.3 485.8 274.4 484.6 270.0 484.0C265.6 483.4 258.7 482.6 253.7 482.5C248.7 482.4 242.6 482.8 240.0 483.5C237.4 484.2 238.1 485.4 238.1 486.9C238.1 488.4 238.8 490.5 240.0 492.5C241.2 494.5 244.0 494.5 245.0 498.7C246.0 502.9 246.2 510.8 246.2 517.5C246.2 524.2 246.0 533.9 245.0 538.7C244.0 543.5 241.2 543.9 240.0 546.2C238.8 548.5 236.2 551.1 237.5 552.5C238.8 553.9 242.7 554.6 247.5 554.7C252.3 554.8 260.8 554.0 266.2 553.1C271.6 552.2 276.4 550.5 280.0 549.4C283.6 548.2 286.0 547.8 288.0 546.2C290.0 544.6 290.9 542.4 292.0 540.0C293.1 537.6 293.9 533.3 294.3 532.0" class="l"/><path d="M280.0 654.2C278.3 654.6 274.4 655.8 270.0 656.4C265.6 657.0 258.7 657.8 253.7 657.9C248.7 658.0 242.6 657.6 240.0 656.9C237.4 656.2 238.1 655.0 238.1 653.5C238.1 652.0 238.8 649.9 240.0 647.9C241.2 645.9 244.0 645.9 245.0 641.7C246.0 637.5 246.2 629.6 246.2 622.9C246.2 616.2 246.0 606.5 245.0 601.7C244.0 596.9 241.2 596.5 240.0 594.2C238.8 591.9 236.2 589.3 237.5 587.9C238.8 586.5 242.7 585.8 247.5 585.7C252.3 585.6 260.8 586.4 266.2 587.3C271.6 588.2 276.4 589.9 280.0 591.0C283.6 592.2 286.0 592.6 288.0 594.2C290.0 595.8 290.9 598.0 292.0 600.4C293.1 602.8 293.9 607.1 294.3 608.4" class="l"/><path d="M280.0 486.2C280.8 486.5 283.3 486.7 285.0 488.0C286.7 489.3 288.8 492.0 290.0 494.0C291.2 496.0 291.6 498.4 292.0 500.0C292.4 501.6 292.4 502.9 292.5 503.5" class="l"/><path d="M280.0 654.2C280.8 653.9 283.3 653.7 285.0 652.4C286.7 651.1 288.8 648.4 290.0 646.4C291.2 644.4 291.6 642.0 292.0 640.4C292.4 638.8 292.4 637.5 292.5 636.9" class="l"/><path d="M272.0 503.0C275.4 502.5 286.2 502.3 290.0 503.0C293.8 503.7 293.8 502.5 294.5 507.0C295.2 511.5 295.2 525.4 294.5 530.0C293.8 534.6 293.8 533.7 290.0 534.4C286.2 535.1 275.4 535.0 272.0 534.4C268.6 533.8 269.8 535.7 269.4 531.0C269.0 526.3 269.0 510.7 269.4 506.0C269.8 501.3 268.6 503.5 272.0 503.0Z" class="l"/><path d="M272.0 637.4C275.4 637.9 286.2 638.1 290.0 637.4C293.8 636.7 293.8 637.9 294.5 633.4C295.2 628.9 295.2 615.0 294.5 610.4C293.8 605.8 293.8 606.7 290.0 606.0C286.2 605.3 275.4 605.4 272.0 606.0C268.6 606.6 269.8 604.7 269.4 609.4C269.0 614.1 269.0 629.7 269.4 634.4C269.8 639.1 268.6 636.9 272.0 637.4Z" class="l"/><path d="M280.0 576.0C279.8 573.5 278.3 564.9 278.7 561.2C279.1 557.5 280.9 555.4 282.5 553.7C284.1 552.0 287.1 551.6 288.0 551.2" class="l"/><path d="M280.0 564.4C279.8 566.9 278.3 575.5 278.7 579.2C279.1 582.9 280.9 585.0 282.5 586.7C284.1 588.4 287.1 588.8 288.0 589.2" class="l"/><path d="M292.0 503.7C297.0 503.8 313.1 504.0 322.0 504.4C330.9 504.8 341.8 505.9 345.7 506.2" class="l"/><path d="M292.0 636.7C297.0 636.6 313.1 636.4 322.0 636.0C330.9 635.6 341.8 634.5 345.7 634.2" class="l"/><path d="M301.4 505.0L301.4 556.2" class="l"/><path d="M301.4 635.4L301.4 584.2" class="l"/><path d="M345.1 506.2L345.1 554.4" class="l"/><path d="M345.1 634.2L345.1 586.0" class="l"/><path d="M301.4 521.0L345.1 521.2" class="l"/><path d="M301.4 619.4L345.1 619.2" class="l"/><path d="M301.4 539.4L345.1 538.5" class="l"/><path d="M301.4 601.0L345.1 601.9" class="l"/><path d="M283.2 552.0C284.4 552.5 287.4 554.2 290.7 555.0C294.0 555.8 298.0 556.5 303.2 556.5C308.4 556.5 314.7 555.4 322.0 555.0C329.3 554.6 339.5 554.4 347.0 554.4C354.5 554.4 362.4 555.5 367.0 555.0C371.6 554.5 372.6 552.9 374.5 551.2C376.4 549.5 377.6 546.0 378.2 545.0" class="l"/><path d="M283.2 588.4C284.4 587.9 287.4 586.2 290.7 585.4C294.0 584.7 298.0 583.9 303.2 583.9C308.4 583.9 314.7 585.1 322.0 585.4C329.3 585.8 339.5 586.0 347.0 586.0C354.5 586.0 362.4 584.9 367.0 585.4C371.6 585.9 372.6 587.5 374.5 589.2C376.4 590.9 377.6 594.4 378.2 595.4" class="l"/><path d="M353.2 506.9C353.2 517.5 353.2 549.1 353.2 570.2C353.2 591.3 353.2 623.0 353.2 633.5" class="l"/><path d="M345.7 506.2C349.2 506.2 362.4 505.4 367.0 506.0C371.6 506.6 371.3 508.3 373.2 510.0C375.1 511.7 377.4 515.2 378.2 516.2" class="l"/><path d="M345.7 634.2C349.2 634.2 362.4 635.0 367.0 634.4C371.6 633.8 371.3 632.1 373.2 630.4C375.1 628.7 377.4 625.2 378.2 624.2" class="l"/><path d="M373.0 516.2C374.8 515.7 379.7 515.7 381.5 516.2C383.3 516.7 383.5 514.8 383.9 519.0C384.3 523.2 384.3 537.3 383.9 541.5C383.5 545.7 383.3 543.9 381.5 544.4C379.7 544.9 374.8 544.9 373.0 544.4C371.2 543.9 370.9 545.7 370.5 541.5C370.1 537.3 370.1 523.2 370.5 519.0C370.9 514.8 371.2 516.7 373.0 516.2Z" class="l"/><path d="M373.0 624.2C374.8 624.7 379.7 624.7 381.5 624.2C383.3 623.7 383.5 625.6 383.9 621.4C384.3 617.2 384.3 603.1 383.9 598.9C383.5 594.7 383.3 596.5 381.5 596.0C379.7 595.5 374.8 595.5 373.0 596.0C371.2 596.5 370.9 594.7 370.5 598.9C370.1 603.1 370.1 617.2 370.5 621.4C370.9 625.6 371.2 623.7 373.0 624.2Z" class="l"/><path d="M377.7 545.0C377.7 549.2 377.7 561.8 377.7 570.2C377.7 578.6 377.7 591.2 377.7 595.4" class="l"/><path d="M397.6 505.2C397.6 516.0 397.6 548.5 397.6 570.2C397.6 591.9 397.6 624.4 397.6 635.2" class="l"/><path d="M278.9 486.0C278.9 485.2 275.9 482.1 278.9 481.5C281.9 480.9 292.9 481.2 297.0 482.1C301.1 483.0 299.0 485.3 303.2 486.9C307.4 488.5 315.9 490.5 322.0 491.9C328.1 493.2 336.0 493.2 339.5 495.0C343.0 496.8 342.2 500.6 343.2 502.5C344.2 504.4 345.3 505.6 345.7 506.2" class="l"/><path d="M278.9 654.4C278.9 655.2 275.9 658.3 278.9 658.9C281.9 659.6 292.9 659.2 297.0 658.3C301.1 657.4 299.0 655.1 303.2 653.5C307.4 651.9 315.9 649.9 322.0 648.5C328.1 647.2 336.0 647.2 339.5 645.4C343.0 643.6 342.2 639.8 343.2 637.9C344.2 636.0 345.3 634.8 345.7 634.2" class="l"/><path d="M340.7 493.7C343.8 493.9 353.9 494.2 359.5 495.0C365.1 495.8 369.3 497.4 374.5 498.7C379.7 499.9 388.0 501.9 390.7 502.5" class="l"/><path d="M340.7 646.7C343.8 646.5 353.9 646.2 359.5 645.4C365.1 644.6 369.3 643.0 374.5 641.7C379.7 640.5 388.0 638.5 390.7 637.9" class="l"/><path d="M0.0 445.4C6.2 445.5 25.0 445.8 37.5 446.0C50.0 446.2 64.6 446.7 75.0 446.6C85.4 446.5 91.2 445.8 100.0 445.4C108.8 445.0 117.3 444.8 128.0 444.5C138.7 444.2 153.3 443.7 164.0 443.5C174.7 443.3 182.2 443.4 192.0 443.5C201.8 443.6 211.2 443.7 222.5 443.9C233.8 444.1 247.6 444.2 260.0 444.5C272.4 444.8 284.6 445.2 297.0 445.5C309.4 445.8 323.1 446.1 334.5 446.0C345.9 445.9 355.9 445.5 365.7 445.1C375.4 444.7 384.3 443.7 393.0 443.5C401.7 443.3 409.7 443.5 418.0 443.9C426.3 444.3 433.8 444.8 443.0 445.7C452.2 446.6 463.8 448.1 473.0 449.5C482.2 450.9 491.8 452.5 498.0 453.9C504.2 455.2 506.8 455.8 510.5 457.6C514.2 459.4 517.2 462.3 520.5 464.5C523.8 466.7 527.6 467.8 530.5 470.7C533.4 473.6 535.9 478.0 538.0 482.0C540.1 486.0 541.6 489.9 543.0 494.5C544.4 499.1 545.2 502.4 546.1 509.5C547.0 516.6 547.6 527.6 548.2 537.0C548.8 546.4 549.3 560.2 549.5 565.7C549.7 571.2 549.5 568.7 549.5 570.2C549.5 571.7 549.7 569.2 549.5 574.7C549.3 580.2 548.8 594.0 548.2 603.4C547.6 612.8 547.0 623.8 546.1 630.9C545.2 638.0 544.4 641.3 543.0 645.9C541.6 650.5 540.1 654.4 538.0 658.4C535.9 662.4 533.4 666.8 530.5 669.7C527.6 672.6 523.8 673.7 520.5 675.9C517.2 678.1 514.2 681.0 510.5 682.8C506.8 684.6 504.2 685.2 498.0 686.5C491.8 687.9 482.2 689.5 473.0 690.9C463.8 692.3 452.2 693.8 443.0 694.7C433.8 695.6 426.3 696.1 418.0 696.5C409.7 696.9 401.7 697.1 393.0 696.9C384.3 696.7 375.4 695.7 365.7 695.3C355.9 694.9 345.9 694.5 334.5 694.4C323.1 694.3 309.4 694.7 297.0 694.9C284.6 695.2 272.4 695.6 260.0 695.9C247.6 696.2 233.8 696.3 222.5 696.5C211.2 696.7 201.8 696.8 192.0 696.9C182.2 697.0 174.7 697.1 164.0 696.9C153.3 696.7 138.7 696.2 128.0 695.9C117.3 695.6 108.8 695.4 100.0 695.0C91.2 694.7 85.4 693.9 75.0 693.8C64.6 693.7 50.0 694.2 37.5 694.4C25.0 694.6 6.2 694.9 0.0 695.0" class="m"/><path d="M0.0 460.4C6.2 460.2 27.1 459.3 37.5 459.1C47.9 458.9 55.2 458.9 62.5 459.1C69.8 459.4 75.8 459.8 81.2 460.6C86.6 461.4 90.8 462.7 95.0 464.1C99.2 465.5 104.4 468.3 106.3 469.1" class="m"/><path d="M0.0 680.0C6.2 680.2 27.1 681.1 37.5 681.3C47.9 681.5 55.2 681.6 62.5 681.3C69.8 681.1 75.8 680.6 81.2 679.8C86.6 679.0 90.8 677.7 95.0 676.3C99.2 674.9 104.4 672.1 106.3 671.3" class="m"/><path d="M0.0 469.1C4.2 468.5 16.7 466.3 25.0 465.4C33.3 464.5 39.6 463.9 50.0 463.5C60.4 463.1 76.8 463.0 87.5 462.9C98.2 462.8 109.6 462.9 114.0 462.9" class="m"/><path d="M0.0 671.3C4.2 671.9 16.7 674.1 25.0 675.0C33.3 675.9 39.6 676.5 50.0 676.9C60.4 677.3 76.8 677.4 87.5 677.5C98.2 677.6 109.6 677.5 114.0 677.5" class="m"/><path d="M0.0 508.5C4.2 507.4 16.7 504.3 25.0 502.2C33.3 500.1 42.7 498.5 50.0 496.0C57.3 493.5 62.5 490.3 68.7 487.2C75.0 484.1 81.6 480.2 87.5 477.2C93.4 474.2 101.2 470.5 104.0 469.1" class="m"/><path d="M0.0 631.9C4.2 633.0 16.7 636.1 25.0 638.2C33.3 640.3 42.7 641.9 50.0 644.4C57.3 646.9 62.5 650.1 68.7 653.2C75.0 656.3 81.6 660.2 87.5 663.2C93.4 666.2 101.2 670.0 104.0 671.3" class="m"/><path d="M102.6 445.4C103.0 446.5 103.9 450.1 105.2 452.2C106.5 454.3 108.7 456.7 110.2 457.9C111.7 459.1 109.6 459.2 114.0 459.4C118.4 459.6 123.5 459.2 136.5 459.1C149.5 459.0 177.7 458.6 192.0 458.5C206.3 458.4 211.2 458.2 222.5 458.5C233.8 458.8 249.1 459.7 260.0 460.1C270.9 460.6 279.8 460.8 288.0 461.2C296.2 461.6 301.8 462.0 309.5 462.6C317.2 463.2 326.2 464.2 334.5 464.7C342.8 465.2 352.6 465.3 359.5 465.7C366.4 466.1 368.9 466.7 375.7 467.0C382.4 467.3 395.9 467.5 400.0 467.6" class="m"/><path d="M102.6 695.0C103.0 693.9 103.9 690.3 105.2 688.2C106.5 686.1 108.7 683.7 110.2 682.5C111.7 681.3 109.6 681.2 114.0 681.0C118.4 680.8 123.5 681.2 136.5 681.3C149.5 681.5 177.7 681.8 192.0 681.9C206.3 682.0 211.2 682.2 222.5 681.9C233.8 681.6 249.1 680.8 260.0 680.3C270.9 679.9 279.8 679.6 288.0 679.2C296.2 678.8 301.8 678.4 309.5 677.8C317.2 677.2 326.2 676.2 334.5 675.7C342.8 675.2 352.6 675.1 359.5 674.7C366.4 674.3 368.9 673.7 375.7 673.4C382.4 673.1 395.9 672.9 400.0 672.8" class="m"/><path d="M114.0 461.6C115.5 461.9 116.5 461.7 122.7 463.5C128.9 465.3 142.5 469.7 151.5 472.2C160.5 474.7 168.8 476.6 176.5 478.5C184.2 480.4 191.9 482.7 197.5 483.9C203.1 485.1 205.4 485.3 210.0 485.7C214.6 486.1 214.7 486.1 225.0 486.1C235.3 486.2 259.4 486.3 272.0 486.0C284.6 485.7 292.4 485.5 300.7 484.5C309.0 483.5 315.3 481.7 322.0 480.1C328.7 478.5 335.5 476.6 340.7 475.1C345.9 473.7 350.5 472.4 353.2 471.4C355.9 470.4 357.2 469.8 357.0 469.2C356.8 468.6 355.8 468.3 352.0 467.6C348.2 466.9 337.4 465.5 334.5 465.1" class="m"/><path d="M114.0 678.8C115.5 678.5 116.5 678.7 122.7 676.9C128.9 675.1 142.5 670.7 151.5 668.2C160.5 665.7 168.8 663.9 176.5 661.9C184.2 660.0 191.9 657.7 197.5 656.5C203.1 655.3 205.4 655.1 210.0 654.7C214.6 654.3 214.7 654.4 225.0 654.3C235.3 654.3 259.4 654.1 272.0 654.4C284.6 654.7 292.4 654.9 300.7 655.9C309.0 656.9 315.3 658.7 322.0 660.3C328.7 661.9 335.5 663.9 340.7 665.3C345.9 666.8 350.5 668.0 353.2 669.0C355.9 670.0 357.2 670.6 357.0 671.2C356.8 671.8 355.8 672.1 352.0 672.8C348.2 673.5 337.4 674.9 334.5 675.3" class="m"/><path d="M122.7 462.9C121.2 463.1 116.9 462.8 114.0 464.1C111.1 465.5 108.1 467.8 105.2 471.0C102.3 474.2 99.0 479.1 96.5 483.5C94.0 487.9 92.4 492.0 90.5 497.2C88.6 502.4 86.6 508.7 85.2 514.7C83.8 520.8 82.8 527.2 82.1 533.5C81.4 539.8 81.1 546.1 80.9 552.2C80.7 558.3 80.8 564.2 80.8 570.2C80.8 576.2 80.7 582.1 80.9 588.2C81.1 594.3 81.4 600.7 82.1 606.9C82.8 613.2 83.8 619.7 85.2 625.7C86.6 631.8 88.6 638.0 90.5 643.2C92.4 648.4 94.0 652.5 96.5 656.9C99.0 661.3 102.3 666.2 105.2 669.4C108.1 672.6 111.1 675.0 114.0 676.3C116.9 677.7 121.2 677.3 122.7 677.5" class="m"/><path d="M180.2 512.0C180.5 509.8 182.1 501.7 182.1 498.5C182.1 495.3 181.5 494.4 180.2 492.9C178.8 491.4 177.8 490.9 174.0 489.7C170.2 488.4 163.5 487.1 157.7 485.4C151.9 483.7 144.2 481.1 139.0 479.7C133.8 478.3 129.6 477.3 126.5 477.2C123.4 477.1 122.3 477.9 120.2 479.1C118.1 480.4 116.1 481.7 114.0 484.7C111.9 487.7 109.6 492.2 107.7 497.2C105.8 502.2 104.1 508.7 102.7 514.7C101.3 520.8 100.4 527.2 99.6 533.5C98.8 539.8 98.1 546.1 97.7 552.2C97.3 558.3 97.4 564.2 97.4 570.2C97.4 576.2 97.3 582.1 97.7 588.2C98.1 594.3 98.8 600.7 99.6 606.9C100.4 613.2 101.3 619.7 102.7 625.7C104.1 631.8 105.8 638.2 107.7 643.2C109.6 648.2 111.9 652.7 114.0 655.7C116.1 658.7 118.1 660.1 120.2 661.3C122.3 662.6 123.4 663.3 126.5 663.2C129.6 663.1 133.8 662.1 139.0 660.7C144.2 659.3 151.9 656.7 157.7 655.0C163.5 653.3 170.2 652.0 174.0 650.7C177.8 649.5 178.8 649.0 180.2 647.5C181.5 646.0 182.1 645.1 182.1 641.9C182.1 638.7 180.5 630.7 180.2 628.4" class="m"/><path d="M181.9 497.0C181.4 499.9 179.8 508.6 179.0 514.7C178.2 520.8 177.6 529.6 177.1 533.5C176.6 537.4 177.9 536.1 175.9 537.9C173.9 539.7 167.3 542.3 165.2 544.1C163.1 545.9 163.9 545.9 163.4 548.5C162.9 551.1 162.8 557.3 162.1 559.7C161.4 562.1 160.3 562.1 159.0 562.9C157.7 563.7 155.0 563.5 154.0 564.7C153.0 565.9 153.0 568.4 153.0 570.2C153.0 572.0 153.0 574.5 154.0 575.7C155.0 576.9 157.7 576.7 159.0 577.5C160.3 578.3 161.4 578.3 162.1 580.7C162.8 583.1 162.9 589.3 163.4 591.9C163.9 594.5 163.1 594.5 165.2 596.3C167.3 598.1 173.9 600.7 175.9 602.5C177.9 604.3 176.6 603.0 177.1 606.9C177.6 610.8 178.2 619.6 179.0 625.7C179.8 631.8 181.4 640.5 181.9 643.4" class="m"/><path d="M193.1 493.0C195.9 493.6 204.1 495.5 210.0 496.4C215.9 497.3 222.4 497.7 228.7 498.2C234.9 498.7 237.6 499.2 247.5 499.5C257.4 499.8 256.5 500.1 288.0 500.2C319.5 500.3 411.9 500.2 436.7 500.2" class="m"/><path d="M193.1 647.4C195.9 646.8 204.1 644.9 210.0 644.0C215.9 643.1 222.4 642.7 228.7 642.2C234.9 641.7 237.6 641.2 247.5 640.9C257.4 640.6 256.5 640.3 288.0 640.2C319.5 640.1 411.9 640.2 436.7 640.2" class="m"/><path d="M294.5 446.4C293.4 448.9 287.4 455.1 288.2 461.4C289.0 467.6 297.6 480.1 299.5 483.9" class="m"/><path d="M294.5 694.0C293.4 691.5 287.4 685.3 288.2 679.0C289.0 672.8 297.6 660.3 299.5 656.5" class="m"/><path d="M375.5 467.6C376.3 466.9 378.6 464.6 380.5 463.2C382.4 461.8 384.2 459.8 386.7 458.9C389.2 458.0 390.3 457.8 395.5 457.6C400.7 457.5 410.1 457.6 418.0 458.0C425.9 458.4 434.9 459.4 443.0 460.1C451.1 460.8 460.4 461.5 466.7 462.0C472.9 462.5 475.7 461.5 480.5 463.2C485.3 464.9 490.9 469.1 495.5 472.0C500.1 474.9 504.7 478.0 508.0 480.7C511.3 483.4 513.2 485.3 515.5 488.2C517.8 491.1 519.8 494.2 521.7 498.2C523.6 502.2 525.0 505.5 526.7 512.0C528.4 518.5 530.7 528.7 532.0 537.0C533.3 545.3 534.1 556.5 534.5 562.0C534.9 567.5 534.6 567.5 534.6 570.2C534.6 572.9 534.9 572.9 534.5 578.4C534.1 583.9 533.3 595.1 532.0 603.4C530.7 611.7 528.4 621.9 526.7 628.4C525.0 634.9 523.6 638.2 521.7 642.2C519.8 646.2 517.8 649.3 515.5 652.2C513.2 655.1 511.3 657.0 508.0 659.7C504.7 662.4 500.1 665.5 495.5 668.4C490.9 671.3 485.3 675.5 480.5 677.2C475.7 678.9 472.9 677.9 466.7 678.4C460.4 678.9 451.1 679.6 443.0 680.3C434.9 681.0 425.9 682.0 418.0 682.4C410.1 682.8 400.7 683.0 395.5 682.8C390.3 682.7 389.2 682.4 386.7 681.5C384.2 680.6 382.4 678.7 380.5 677.2C378.6 675.8 376.3 673.5 375.5 672.8" class="m"/><path d="M379.5 468.2C381.8 468.1 386.6 467.5 393.0 467.8C399.4 468.1 409.7 469.1 418.0 470.1C426.3 471.1 433.8 472.4 443.0 473.9C452.2 475.4 463.8 477.2 473.0 478.9C482.2 480.6 491.4 482.6 498.0 483.9C504.6 485.1 510.0 486.0 512.4 486.4" class="m"/><path d="M379.5 672.2C381.8 672.3 386.6 672.9 393.0 672.6C399.4 672.3 409.7 671.3 418.0 670.3C426.3 669.3 433.8 668.0 443.0 666.5C452.2 665.0 463.8 663.2 473.0 661.5C482.2 659.8 491.4 657.8 498.0 656.5C504.6 655.3 510.0 654.4 512.4 654.0" class="m"/><path d="M380.5 468.2C383.6 468.6 393.4 469.4 399.2 470.7C405.0 471.9 410.9 473.6 415.5 475.7C420.1 477.8 423.6 480.5 426.7 483.2C429.8 485.9 432.1 488.9 434.2 492.0C436.3 495.1 437.8 497.8 439.2 502.0C440.6 506.2 441.5 511.2 442.4 517.0C443.3 522.8 444.0 528.1 444.5 537.0C445.0 545.9 445.5 559.1 445.5 570.2C445.5 581.3 445.0 594.5 444.5 603.4C444.0 612.3 443.3 617.6 442.4 623.4C441.5 629.2 440.6 634.2 439.2 638.4C437.8 642.6 436.3 645.3 434.2 648.4C432.1 651.5 429.8 654.5 426.7 657.2C423.6 659.9 420.1 662.6 415.5 664.7C410.9 666.8 405.0 668.5 399.2 669.7C393.4 671.0 383.6 671.8 380.5 672.2" class="m"/><path d="M385.6 570.2C385.6 556.1 385.6 537.5 385.7 528.0C385.8 518.5 385.3 516.8 386.1 513.2C386.9 509.6 388.3 507.8 390.5 506.4C392.7 504.9 394.6 504.9 399.2 504.5C403.8 504.1 413.8 503.8 418.0 504.2C422.2 504.6 422.3 505.3 424.2 507.0C426.1 508.7 427.8 511.0 429.2 514.5C430.6 518.0 431.6 522.2 432.4 528.0C433.2 533.8 433.6 542.5 433.9 549.5C434.2 556.5 434.3 563.3 434.3 570.2C434.3 577.1 434.2 583.9 433.9 590.9C433.6 597.9 433.2 606.6 432.4 612.4C431.6 618.2 430.6 622.4 429.2 625.9C427.8 629.4 426.1 631.7 424.2 633.4C422.3 635.1 422.2 635.8 418.0 636.2C413.8 636.6 403.8 636.3 399.2 635.9C394.6 635.5 392.7 635.5 390.5 634.0C388.3 632.6 386.9 630.8 386.1 627.2C385.3 623.6 385.8 621.9 385.7 612.4C385.6 602.9 385.6 584.3 385.6 570.2Z" class="m"/><path d="M476.7 460.1C475.9 459.5 472.1 457.3 471.7 456.4C471.3 455.5 470.9 454.7 474.2 454.5C477.5 454.3 486.7 454.7 491.7 455.1C496.7 455.5 500.6 456.1 504.2 457.0C507.8 457.9 510.3 459.0 513.0 460.7C515.7 462.4 518.4 464.5 520.5 467.0C522.6 469.5 523.8 471.5 525.5 475.7C527.2 479.9 529.0 486.8 530.5 492.0C532.0 497.2 533.0 501.0 534.2 507.0C535.5 513.0 536.9 521.7 538.0 528.0C539.1 534.3 540.3 538.0 541.0 545.0C541.7 552.0 542.0 561.8 542.0 570.2C542.0 578.6 541.7 588.4 541.0 595.4C540.3 602.4 539.1 606.1 538.0 612.4C536.9 618.7 535.5 627.4 534.2 633.4C533.0 639.4 532.0 643.2 530.5 648.4C529.0 653.6 527.2 660.5 525.5 664.7C523.8 668.9 522.6 670.9 520.5 673.4C518.4 675.9 515.7 678.0 513.0 679.7C510.3 681.4 507.8 682.5 504.2 683.4C500.6 684.3 496.7 684.9 491.7 685.3C486.7 685.7 477.5 686.1 474.2 685.9C470.9 685.7 471.3 684.9 471.7 684.0C472.1 683.1 475.9 680.9 476.7 680.3" class="m"/><path d="M471.7 456.4C472.5 457.0 473.4 458.7 476.7 460.1C480.0 461.6 487.1 463.3 491.7 465.1C496.3 466.9 500.0 468.3 504.2 470.7C508.4 473.1 513.2 476.4 516.7 479.5C520.2 482.6 522.8 485.8 525.5 489.5C528.2 493.2 530.7 497.8 533.0 502.0C535.3 506.2 537.5 510.2 539.2 514.5C540.9 518.8 542.0 522.4 543.0 528.0C544.0 533.6 544.6 541.0 545.0 548.0C545.4 555.0 545.5 562.8 545.5 570.2C545.5 577.6 545.4 585.4 545.0 592.4C544.6 599.4 544.0 606.8 543.0 612.4C542.0 618.0 540.9 621.6 539.2 625.9C537.5 630.2 535.3 634.2 533.0 638.4C530.7 642.6 528.2 647.2 525.5 650.9C522.8 654.7 520.2 657.8 516.7 660.9C513.2 664.0 508.4 667.3 504.2 669.7C500.0 672.1 496.3 673.5 491.7 675.3C487.1 677.1 480.0 678.9 476.7 680.3C473.4 681.8 472.5 683.4 471.7 684.0" class="m"/><path d="M138.4 453.1C138.8 451.7 139.9 448.1 141.2 445.6C142.5 443.1 144.5 440.4 146.2 438.1C147.9 435.8 149.5 433.4 151.2 431.9C152.9 430.3 154.3 429.4 156.2 428.8C158.1 428.2 160.7 428.1 162.5 428.0C164.3 427.9 165.9 427.8 166.9 428.2C167.9 428.6 168.6 429.3 168.7 430.3C168.8 431.3 168.3 432.6 167.5 434.4C166.7 436.2 164.9 438.9 163.7 441.2C162.4 443.5 161.1 446.0 160.0 448.1C158.9 450.2 158.0 452.4 156.9 453.7C155.8 455.0 155.3 455.3 153.7 455.7C152.1 456.1 149.6 456.2 147.5 456.2C145.4 456.2 142.7 455.9 141.2 455.6C139.7 455.3 139.2 454.7 138.7 454.3C138.2 453.9 138.0 454.6 138.4 453.1Z" class="m" style="fill:#fff"/><path d="M138.1 685.1C138.5 684.7 138.9 684.4 140.6 684.2C142.3 684.0 145.9 683.9 148.1 683.9C150.3 683.9 152.4 684.0 153.7 684.2C154.9 684.5 155.0 684.4 155.6 685.4C156.2 686.4 156.8 688.0 157.5 690.1C158.2 692.2 159.2 695.7 160.0 698.2C160.8 700.7 161.8 703.1 162.5 705.1C163.2 707.1 164.1 708.9 164.4 710.1C164.7 711.4 164.7 712.0 164.4 712.6C164.1 713.2 163.4 713.7 162.5 713.9C161.6 714.1 160.2 714.0 158.7 713.6C157.2 713.2 155.2 712.4 153.7 711.4C152.1 710.4 150.8 709.3 149.4 707.6C148.0 705.9 146.4 703.5 145.0 701.4C143.6 699.3 142.2 697.1 141.2 695.1C140.1 693.1 139.2 691.0 138.7 689.5C138.2 688.0 138.1 687.1 138.0 686.4C137.9 685.7 137.7 685.5 138.1 685.1Z" class="m" style="fill:#fff"/><path d="M136.2 458.3L138.2 453.6M136.4 681.6L137.4 684.8" class="m"/></g>
<g id="rear"><path d="M995.7 428.2C992.5 427.9 983.2 427.0 976.4 426.6C969.5 426.2 964.4 425.9 954.6 425.7C944.7 425.5 929.7 425.2 917.3 425.2C904.9 425.2 889.9 425.5 880.0 425.7C870.1 425.9 865.1 426.2 858.2 426.6C851.4 427.0 842.1 427.9 838.9 428.2" class="m"/><path d="M838.9 428.2C837.4 429.2 832.6 432.6 830.0 434.5C827.4 436.4 825.8 436.1 823.2 439.7C820.6 443.3 817.4 450.2 814.5 456.0C811.6 461.8 808.3 469.4 805.7 474.7C803.1 480.0 800.0 485.7 798.9 487.9" class="m"/><path d="M995.7 428.2C997.2 429.2 1002.0 432.6 1004.6 434.5C1007.2 436.4 1008.8 436.1 1011.4 439.7C1014.0 443.3 1017.2 450.2 1020.1 456.0C1023.0 461.8 1026.3 469.4 1028.9 474.7C1031.5 480.0 1034.6 485.7 1035.7 487.9" class="m"/><path d="M810.7 466.0L800.7 486.0" class="m"/><path d="M1023.9 466.0L1033.9 486.0" class="m"/><path d="M838.4 428.6L838.2 477.2" class="m"/><path d="M996.2 428.6L996.4 477.2" class="m"/><path d="M917.3 442.8C904.9 442.8 889.9 442.8 880.0 443.0C870.1 443.2 863.2 443.4 858.0 443.8C852.8 444.2 851.3 444.6 849.0 445.6C846.7 446.6 845.2 448.3 844.3 450.0C843.3 451.7 843.3 453.9 843.3 456.0C843.3 458.1 843.3 460.6 844.3 462.5C845.2 464.4 846.7 466.3 849.0 467.4C851.3 468.5 852.8 468.6 858.0 468.9C863.2 469.2 870.1 469.1 880.0 469.0C889.9 468.9 904.9 468.6 917.3 468.6C929.7 468.6 944.7 468.9 954.6 469.0C964.5 469.1 971.4 469.2 976.6 468.9C981.8 468.6 983.3 468.5 985.6 467.4C987.9 466.3 989.3 464.4 990.3 462.5C991.2 460.6 991.3 458.1 991.3 456.0C991.3 453.9 991.2 451.7 990.3 450.0C989.3 448.3 987.9 446.6 985.6 445.6C983.3 444.6 981.8 444.2 976.6 443.8C971.4 443.4 964.5 443.2 954.6 443.0C944.7 442.8 929.7 442.8 917.3 442.8Z" class="m"/><path d="M804.5 482.2C806.6 481.6 811.2 479.4 817.0 478.5C822.8 477.6 829.0 477.4 839.5 477.1C850.0 476.8 867.0 476.8 880.0 476.7C893.0 476.6 904.9 476.5 917.3 476.5C929.7 476.5 941.6 476.6 954.6 476.7C967.6 476.8 984.6 476.8 995.1 477.1C1005.6 477.4 1011.8 477.6 1017.6 478.5C1023.4 479.4 1028.0 481.6 1030.1 482.2" class="m"/><path d="M798.9 487.9C800.5 487.5 804.8 485.3 808.2 485.4C811.6 485.5 816.4 487.5 819.5 488.5C822.6 489.5 825.8 491.1 827.0 491.6" class="m"/><path d="M1035.7 487.9C1034.1 487.5 1029.8 485.3 1026.4 485.4C1023.0 485.5 1018.2 487.5 1015.1 488.5C1012.0 489.5 1008.8 491.1 1007.6 491.6" class="m"/><path d="M805.7 499.1C807.2 498.3 811.0 495.5 814.5 494.1C818.0 492.8 820.8 491.9 827.0 491.0C833.2 490.1 843.2 489.2 852.0 488.6C860.8 488.0 869.1 487.7 880.0 487.5C890.9 487.3 904.9 487.3 917.3 487.3C929.7 487.3 943.7 487.3 954.6 487.5C965.5 487.7 973.8 488.0 982.6 488.6C991.4 489.2 1001.3 490.1 1007.6 491.0C1013.8 491.9 1016.5 492.8 1020.1 494.1C1023.6 495.5 1027.4 498.3 1028.9 499.1" class="m"/><path d="M792.0 496.6C794.3 497.0 800.3 498.5 805.7 499.1C811.1 499.7 816.8 499.4 824.5 500.1C832.2 500.8 843.9 502.3 852.0 503.3C860.1 504.3 865.0 505.7 873.0 506.1C881.0 506.5 892.6 505.9 900.0 505.9C907.4 505.8 911.5 505.8 917.3 505.8C923.1 505.8 927.2 505.8 934.6 505.9C942.0 505.9 953.6 506.5 961.6 506.1C969.6 505.7 974.5 504.3 982.6 503.3C990.7 502.3 1002.4 500.8 1010.1 500.1C1017.8 499.4 1023.5 499.7 1028.9 499.1C1034.3 498.5 1040.3 497.0 1042.6 496.6" class="m"/><path d="M795.1 498.7C794.4 499.3 791.9 500.7 790.7 502.5C789.6 504.3 788.1 506.5 788.2 509.4C788.3 512.3 789.1 518.1 791.4 520.0C793.7 521.9 798.6 520.7 802.0 520.6C805.4 520.5 809.1 520.1 812.0 519.4C814.9 518.7 816.6 516.9 819.5 516.2C822.4 515.5 824.8 515.3 829.5 515.0C834.2 514.7 842.8 514.9 848.0 514.6C853.2 514.4 857.5 514.2 860.7 513.5C863.9 512.8 864.8 511.8 867.0 510.6C869.2 509.4 873.0 506.9 874.2 506.1" class="m"/><path d="M1039.5 498.7C1040.2 499.3 1042.8 500.7 1043.9 502.5C1045.0 504.3 1046.5 506.5 1046.4 509.4C1046.3 512.3 1045.5 518.1 1043.2 520.0C1040.9 521.9 1036.0 520.7 1032.6 520.6C1029.2 520.5 1025.5 520.1 1022.6 519.4C1019.7 518.7 1018.0 516.9 1015.1 516.2C1012.2 515.5 1009.8 515.3 1005.1 515.0C1000.3 514.7 991.8 514.9 986.6 514.6C981.4 514.4 977.1 514.2 973.9 513.5C970.7 512.8 969.8 511.8 967.6 510.6C965.3 509.4 961.6 506.9 960.4 506.1" class="m"/><path d="M824.5 500.6C824.9 502.6 825.8 508.0 827.0 512.5C828.2 517.0 829.9 523.5 832.0 527.5C834.1 531.5 836.6 533.9 839.5 536.2C842.4 538.5 845.8 540.0 849.5 541.2C853.2 542.4 856.9 543.0 862.0 543.4C867.1 543.8 870.8 543.5 880.0 543.4C889.2 543.3 904.9 543.0 917.3 543.0C929.7 543.0 945.4 543.3 954.6 543.4C963.8 543.5 967.5 543.8 972.6 543.4C977.7 543.0 981.3 542.4 985.1 541.2C988.8 540.0 992.2 538.5 995.1 536.2C998.0 533.9 1000.5 531.5 1002.6 527.5C1004.7 523.5 1006.3 517.0 1007.6 512.5C1008.8 508.0 1009.7 502.6 1010.1 500.6" class="m"/><path d="M798.9 487.9C797.5 489.0 793.1 492.1 790.7 494.5C788.3 496.9 786.6 498.9 784.5 502.5C782.4 506.1 779.8 511.6 778.2 516.2C776.6 520.8 775.5 525.6 775.1 530.0C774.7 534.4 775.4 537.9 775.7 542.5C776.0 547.1 776.8 551.9 777.0 557.5C777.2 563.1 777.2 572.9 777.2 576.0" class="m"/><path d="M1035.7 487.9C1037.1 489.0 1041.5 492.1 1043.9 494.5C1046.3 496.9 1048.0 498.9 1050.1 502.5C1052.2 506.1 1054.8 511.6 1056.4 516.2C1058.0 520.8 1059.1 525.6 1059.5 530.0C1059.9 534.4 1059.2 537.9 1058.9 542.5C1058.6 547.1 1057.8 551.9 1057.6 557.5C1057.3 563.1 1057.4 572.9 1057.4 576.0" class="m"/><path d="M791.4 520.0C790.9 521.2 789.2 525.4 788.2 527.5C787.2 529.6 787.2 530.1 785.1 532.5C783.0 534.9 777.3 540.3 775.7 541.9" class="m"/><path d="M1043.2 520.0C1043.7 521.2 1045.3 525.4 1046.4 527.5C1047.4 529.6 1047.4 530.1 1049.5 532.5C1051.6 534.9 1057.3 540.3 1058.9 541.9" class="m"/><path d="M785.1 532.5C786.5 531.8 789.4 529.1 793.2 528.1C797.1 527.1 794.8 526.9 808.2 526.6C821.6 526.3 862.5 526.4 873.4 526.4" class="m"/><path d="M1049.5 532.5C1048.2 531.8 1045.2 529.1 1041.4 528.1C1037.5 527.1 1039.8 526.9 1026.4 526.6C1013.0 526.3 972.1 526.4 961.2 526.4" class="m"/><path d="M809.5 537.7C808.0 538.0 803.1 538.4 800.7 539.4C798.3 540.4 796.6 541.5 795.1 543.7C793.6 545.9 792.5 551.0 792.0 552.5" class="m"/><path d="M1025.1 537.7C1026.6 538.0 1031.5 538.4 1033.9 539.4C1036.3 540.4 1038.0 541.5 1039.5 543.7C1041.0 545.9 1042.1 551.0 1042.6 552.5" class="m"/><path d="M800.1 547.7C819.6 547.7 878.2 547.7 917.3 547.7C956.4 547.7 1015.0 547.7 1034.5 547.7" class="m"/><path d="M776.4 542.5C776.8 545.6 778.1 555.2 778.9 561.2C779.7 567.2 780.4 572.9 781.4 578.7C782.4 584.5 783.9 592.0 785.1 596.2C786.3 600.4 787.4 602.0 788.5 603.8C789.6 605.6 791.0 606.6 791.5 607.2" class="m"/><path d="M1058.2 542.5C1057.8 545.6 1056.5 555.2 1055.7 561.2C1054.9 567.2 1054.2 572.9 1053.2 578.7C1052.2 584.5 1050.7 592.0 1049.5 596.2C1048.3 600.4 1047.2 602.0 1046.1 603.8C1045.0 605.6 1043.6 606.6 1043.1 607.2" class="m"/><path d="M790.5 607.4L917.3 608L1044.1 607.4" class="m"/><path d="M794.5 578.0C796.2 578.1 784.0 578.6 804.5 578.7C825.0 578.8 879.7 578.7 917.3 578.7C954.9 578.7 1009.6 578.8 1030.1 578.7C1050.6 578.6 1038.4 578.1 1040.1 578.0" class="m"/><path d="M804.5 578.7C805.0 578.1 805.9 576.0 807.6 575.0C809.3 574.0 809.2 573.2 814.5 572.7C819.8 572.2 828.6 572.1 839.5 571.9C850.4 571.7 867.0 571.5 880.0 571.4C893.0 571.3 904.9 571.3 917.3 571.3C929.7 571.3 941.6 571.3 954.6 571.4C967.6 571.5 984.2 571.7 995.1 571.9C1006.0 572.1 1014.8 572.2 1020.1 572.7C1025.4 573.2 1025.3 574.0 1027.0 575.0C1028.7 576.0 1029.6 578.1 1030.1 578.7" class="m"/><path d="M804.5 578.7C803.9 580.2 801.8 584.8 800.7 587.5C799.7 590.2 799.5 592.5 798.2 595.0C797.0 597.5 794.6 600.6 793.2 602.5C791.9 604.4 790.6 605.6 790.1 606.2" class="m"/><path d="M1030.1 578.7C1030.7 580.2 1032.8 584.8 1033.9 587.5C1034.9 590.2 1035.1 592.5 1036.4 595.0C1037.6 597.5 1040.0 600.6 1041.4 602.5C1042.8 604.4 1044.0 605.6 1044.5 606.2" class="m"/><path d="M798.9 594.0C800.5 593.8 804.7 593.0 808.2 592.7C811.7 592.4 817.8 593.2 820.1 592.2C822.4 591.2 820.9 588.5 822.0 586.9C823.1 585.3 825.2 583.7 827.0 582.8C828.8 581.9 830.6 581.6 832.6 581.7C834.6 581.8 837.1 582.4 838.8 583.5C840.5 584.6 841.9 586.8 842.8 588.5C843.6 590.2 842.4 592.7 843.9 593.7C845.4 594.7 839.8 594.2 852.0 594.3C864.2 594.4 895.5 594.3 917.3 594.3C939.1 594.3 970.4 594.4 982.6 594.3C994.8 594.2 989.2 594.7 990.7 593.7C992.2 592.7 990.9 590.2 991.8 588.5C992.6 586.8 994.1 584.6 995.8 583.5C997.5 582.4 1000.0 581.8 1002.0 581.7C1004.0 581.6 1005.8 581.9 1007.6 582.8C1009.4 583.7 1011.4 585.3 1012.6 586.9C1013.7 588.5 1012.2 591.2 1014.5 592.2C1016.8 593.2 1022.9 592.4 1026.4 592.7C1029.9 593.0 1034.1 593.8 1035.7 594.0" class="m"/><path d="M798.9 607.5C799.2 606.5 799.6 602.9 800.7 601.2C801.8 599.5 803.4 598.4 805.7 597.5C808.0 596.6 812.0 596.0 814.5 595.6C817.0 595.2 819.7 595.1 820.7 595.0" class="m"/><path d="M1035.7 607.5C1035.4 606.5 1035.0 602.9 1033.9 601.2C1032.8 599.5 1031.2 598.4 1028.9 597.5C1026.6 596.6 1022.6 596.0 1020.1 595.6C1017.6 595.2 1014.9 595.1 1013.9 595.0" class="m"/><path d="M814.5 621.2C816.6 621.2 823.9 621.4 827.0 621.0C830.1 620.6 824.4 619.2 833.2 618.7C842.0 618.2 866.0 618.2 880.0 618.1C894.0 618.0 904.9 618.0 917.3 618.0C929.7 618.0 940.6 618.0 954.6 618.1C968.6 618.2 992.6 618.2 1001.4 618.7C1010.2 619.2 1004.5 620.6 1007.6 621.0C1010.7 621.4 1018.0 621.2 1020.1 621.2" class="m"/><path d="M794.5 546.5C795.3 547.5 796.4 551.4 796.8 555.0C797.2 558.6 797.3 564.7 797.0 568.0C796.7 571.3 795.6 573.4 794.8 575.0C794.0 576.6 792.9 577.7 792.0 577.5C791.1 577.3 790.2 575.9 789.6 574.0C789.0 572.1 788.4 569.0 788.4 566.0C788.4 563.0 789.0 558.8 789.6 556.0C790.2 553.2 791.2 550.6 792.0 549.0C792.8 547.4 793.7 545.5 794.5 546.5Z" class="m"/><path d="M1040.1 546.5C1039.3 547.5 1038.2 551.4 1037.8 555.0C1037.4 558.6 1037.3 564.7 1037.6 568.0C1037.9 571.3 1039.0 573.4 1039.8 575.0C1040.6 576.6 1041.7 577.7 1042.6 577.5C1043.5 577.3 1044.4 575.9 1045.0 574.0C1045.6 572.1 1046.2 569.0 1046.2 566.0C1046.2 563.0 1045.6 558.8 1045.0 556.0C1044.4 553.2 1043.4 550.6 1042.6 549.0C1041.8 547.4 1040.9 545.5 1040.1 546.5Z" class="m"/><path d="M790.3 496.2C790.1 495.3 789.1 493.5 788.9 491.0C788.7 488.5 789.2 483.6 788.9 481.0C788.6 478.4 788.4 476.6 787.0 475.4C785.6 474.1 784.5 473.6 780.7 473.5C777.0 473.4 768.4 474.1 764.5 474.7C760.6 475.3 759.1 476.1 757.6 477.2C756.1 478.2 755.7 478.9 755.7 481.0C755.7 483.1 756.6 487.5 757.6 489.7C758.6 491.9 759.2 493.1 762.0 494.1C764.8 495.1 769.8 495.4 774.5 495.7C779.2 496.0 787.7 496.1 790.3 496.2" class="m"/><path d="M788.2 512.0C788.4 510.8 788.7 506.9 789.5 504.7C790.3 502.4 792.6 499.5 793.2 498.5" class="m"/><path d="M777.2 576V636Q777.2 642.3 783.5 642.3H808.2Q814.5 642.3 814.5 636V608" class="m"/><path d="M1020.1 608V636Q1020.1 642.3 1026.4 642.3" class="m"/><circle cx="832.6" cy="593.1" r="6.4" class="m"/><circle cx="1002.0" cy="593.1" r="6.4" class="m"/><circle cx="917.3" cy="496.5" r="7.3" fill="#2e2e2e"/><circle cx="917.3" cy="496.7" r="4.6" fill="#fff"/><path d="M917.3 496.7V492.1A4.6 4.6 0 0 0 912.7 496.7ZM917.3 496.7V501.3A4.6 4.6 0 0 0 921.9 496.7Z" fill="#222"/></g>
</svg>
</body></html>
